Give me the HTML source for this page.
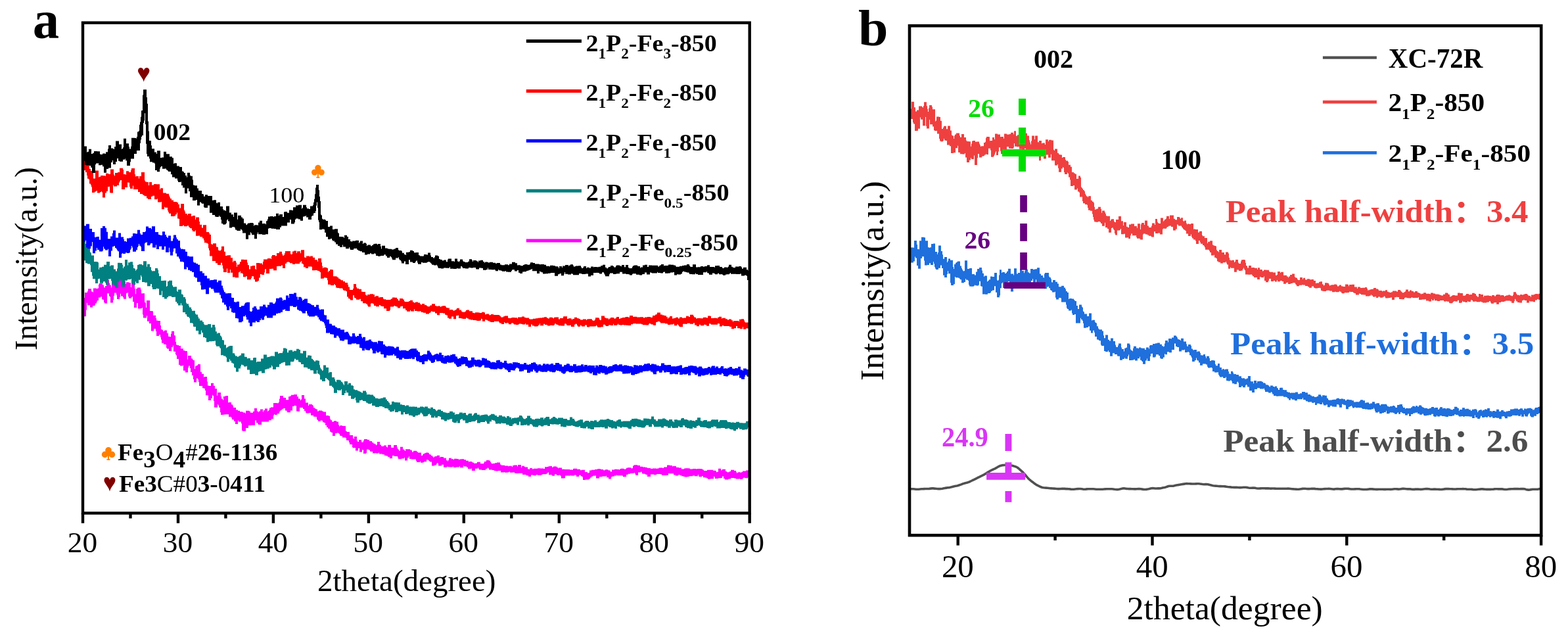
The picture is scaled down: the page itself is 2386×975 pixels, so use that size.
<!DOCTYPE html>
<html><head><meta charset="utf-8"><style>html,body{margin:0;padding:0;background:#fff;overflow:hidden}text{font-family:"Liberation Serif",serif}</style></head>
<body>
<svg width="2386" height="975" viewBox="0 0 2386 975" style="display:block">
<rect width="100%" height="100%" fill="#fff"/>
<path fill="#ff00ff" d="M127.0 456.7V456.7H128.0V452.9H129.0V445.1H130.0V445.1H131.0V445.1H132.0V445.1H133.0V442.8H134.0V439.3H135.0V439.3H136.0V439.3H137.0V439.3H138.0V439.3H139.0V443.4H140.0V443.4H141.0V444.6H142.0V438.6H143.0V438.6H144.0V438.6H145.0V438.6H146.0V438.6H147.0V439.4H148.0V438.5H149.0V438.5H150.0V432.8H151.0V431.1H152.0V431.1H153.0V431.1H154.0V431.1H155.0V431.1H156.0V433.4H157.0V433.4H158.0V437.1H159.0V437.6H160.0V435.0H161.0V435.0H162.0V425.8H163.0V425.8H164.0V425.8H165.0V425.8H166.0V430.5H167.0V433.5H168.0V433.5H169.0V437.4H170.0V430.2H171.0V422.8H172.0V422.8H173.0V420.2H174.0V420.2H175.0V420.2H176.0V420.2H177.0V420.2H178.0V423.2H179.0V423.2H180.0V424.4H181.0V424.4H182.0V419.0H183.0V419.0H184.0V419.0H185.0V419.0H186.0V427.8H187.0V427.7H188.0V427.7H189.0V427.7H190.0V427.7H191.0V431.8H192.0V429.3H193.0V429.3H194.0V429.3H195.0V429.3H196.0V429.8H197.0V430.2H198.0V430.2H199.0V436.9H200.0V430.7H201.0V427.0H202.0V427.0H203.0V427.0H204.0V427.0H205.0V439.1H206.0V447.3H207.0V439.2H208.0V439.2H209.0V437.5H210.0V437.5H211.0V437.5H212.0V437.5H213.0V437.5H214.0V440.5H215.0V446.3H216.0V446.3H217.0V446.3H218.0V446.3H219.0V446.3H220.0V459.8H221.0V460.7H222.0V467.8H223.0V456.9H224.0V456.9H225.0V456.9H226.0V456.9H227.0V456.9H228.0V473.0H229.0V473.0H230.0V473.0H231.0V473.2H232.0V473.2H233.0V479.8H234.0V479.8H235.0V479.8H236.0V479.8H237.0V484.0H238.0V487.6H239.0V487.6H240.0V487.9H241.0V487.9H242.0V487.9H243.0V487.9H244.0V495.1H245.0V500.9H246.0V500.9H247.0V501.9H248.0V504.0H249.0V504.0H250.0V502.4H251.0V502.4H252.0V502.4H253.0V502.4H254.0V506.7H255.0V506.7H256.0V511.8H257.0V511.8H258.0V512.3H259.0V512.3H260.0V507.8H261.0V503.8H262.0V503.8H263.0V503.8H264.0V503.8H265.0V510.2H266.0V510.2H267.0V520.1H268.0V524.2H269.0V525.1H270.0V525.1H271.0V525.1H272.0V525.9H273.0V525.9H274.0V525.9H275.0V530.2H276.0V530.2H277.0V530.2H278.0V530.2H279.0V533.1H280.0V533.1H281.0V534.0H282.0V534.0H283.0V534.0H284.0V534.0H285.0V546.8H286.0V540.9H287.0V540.9H288.0V540.9H289.0V540.9H290.0V540.9H291.0V545.2H292.0V545.2H293.0V546.9H294.0V547.9H295.0V547.9H296.0V561.2H297.0V556.8H298.0V556.8H299.0V555.8H300.0V555.8H301.0V554.0H302.0V554.0H303.0V554.0H304.0V554.0H305.0V565.8H306.0V565.8H307.0V568.7H308.0V568.7H309.0V568.7H310.0V573.8H311.0V572.9H312.0V572.9H313.0V572.9H314.0V572.9H315.0V580.4H316.0V586.4H317.0V586.4H318.0V586.9H319.0V586.9H320.0V586.9H321.0V582.8H322.0V582.8H323.0V582.8H324.0V582.8H325.0V586.9H326.0V586.9H327.0V591.3H328.0V591.3H329.0V591.3H330.0V601.7H331.0V597.2H332.0V597.1H333.0V597.1H334.0V597.1H335.0V597.1H336.0V603.0H337.0V606.5H338.0V606.5H339.0V608.6H340.0V603.0H341.0V603.0H342.0V603.0H343.0V602.1H344.0V602.1H345.0V602.1H346.0V602.1H347.0V612.2H348.0V612.0H349.0V612.0H350.0V612.0H351.0V612.0H352.0V615.3H353.0V615.3H354.0V617.1H355.0V620.0H356.0V620.0H357.0V620.0H358.0V620.0H359.0V623.5H360.0V623.5H361.0V623.5H362.0V624.8H363.0V624.8H364.0V624.8H365.0V626.2H366.0V626.2H367.0V626.2H368.0V626.2H369.0V626.7H370.0V627.5H371.0V627.5H372.0V627.5H373.0V628.8H374.0V624.7H375.0V624.7H376.0V624.7H377.0V624.7H378.0V624.7H379.0V625.6H380.0V625.6H381.0V627.7H382.0V627.7H383.0V627.7H384.0V627.7H385.0V625.8H386.0V625.8H387.0V621.1H388.0V621.1H389.0V621.1H390.0V621.1H391.0V625.6H392.0V625.6H393.0V627.1H394.0V625.5H395.0V625.5H396.0V622.5H397.0V622.5H398.0V622.5H399.0V622.5H400.0V626.4H401.0V623.9H402.0V623.9H403.0V621.4H404.0V621.4H405.0V621.4H406.0V621.4H407.0V625.8H408.0V624.7H409.0V623.8H410.0V620.6H411.0V620.6H412.0V619.5H413.0V619.5H414.0V619.5H415.0V619.5H416.0V613.1H417.0V613.1H418.0V613.1H419.0V613.1H420.0V613.1H421.0V613.3H422.0V613.3H423.0V613.3H424.0V611.4H425.0V606.6H426.0V602.0H427.0V602.0H428.0V602.0H429.0V602.0H430.0V602.0H431.0V604.9H432.0V604.9H433.0V604.9H434.0V604.9H435.0V608.2H436.0V608.2H437.0V608.2H438.0V608.2H439.0V603.2H440.0V603.2H441.0V602.6H442.0V602.6H443.0V600.7H444.0V600.7H445.0V600.7H446.0V600.7H447.0V600.0H448.0V600.0H449.0V600.0H450.0V600.0H451.0V600.0H452.0V603.3H453.0V603.3H454.0V606.4H455.0V606.4H456.0V606.4H457.0V609.0H458.0V607.6H459.0V601.1H460.0V601.1H461.0V601.1H462.0V601.1H463.0V606.6H464.0V606.6H465.0V612.4H466.0V612.4H467.0V612.4H468.0V612.4H469.0V616.9H470.0V615.0H471.0V615.0H472.0V615.0H473.0V615.0H474.0V615.0H475.0V616.1H476.0V616.9H477.0V620.2H478.0V620.2H479.0V621.6H480.0V621.8H481.0V622.5H482.0V622.5H483.0V625.5H484.0V625.5H485.0V624.4H486.0V624.4H487.0V624.4H488.0V624.4H489.0V624.4H490.0V625.4H491.0V625.4H492.0V626.6H493.0V626.6H494.0V626.6H495.0V626.6H496.0V631.9H497.0V631.9H498.0V631.9H499.0V631.9H500.0V632.8H501.0V632.8H502.0V637.0H503.0V638.9H504.0V638.9H505.0V641.4H506.0V641.4H507.0V641.4H508.0V640.3H509.0V640.3H510.0V640.3H511.0V640.3H512.0V641.5H513.0V641.5H514.0V641.5H515.0V646.3H516.0V648.4H517.0V647.2H518.0V647.2H519.0V647.2H520.0V647.2H521.0V648.1H522.0V648.1H523.0V648.1H524.0V648.1H525.0V648.1H526.0V655.5H527.0V656.3H528.0V657.0H529.0V657.0H530.0V657.0H531.0V657.0H532.0V661.9H533.0V661.9H534.0V661.9H535.0V661.9H536.0V661.9H537.0V666.7H538.0V667.6H539.0V664.0H540.0V664.0H541.0V664.0H542.0V664.0H543.0V670.0H544.0V671.9H545.0V671.9H546.0V668.9H547.0V668.9H548.0V668.9H549.0V668.9H550.0V672.4H551.0V672.4H552.0V672.4H553.0V670.0H554.0V668.1H555.0V668.1H556.0V668.1H557.0V668.1H558.0V668.1H559.0V668.9H560.0V668.9H561.0V668.9H562.0V670.9H563.0V670.9H564.0V671.1H565.0V671.1H566.0V673.0H567.0V673.0H568.0V674.6H569.0V674.6H570.0V675.5H571.0V675.5H572.0V677.3H573.0V676.4H574.0V672.1H575.0V672.1H576.0V672.1H577.0V672.1H578.0V676.4H579.0V676.4H580.0V678.5H581.0V678.8H582.0V678.8H583.0V678.8H584.0V677.5H585.0V677.5H586.0V677.5H587.0V677.5H588.0V680.1H589.0V680.6H590.0V676.8H591.0V676.8H592.0V676.8H593.0V676.8H594.0V676.8H595.0V680.9H596.0V680.9H597.0V680.9H598.0V680.9H599.0V677.2H600.0V677.0H601.0V677.0H602.0V677.0H603.0V677.0H604.0V680.7H605.0V683.0H606.0V683.8H607.0V685.7H608.0V685.5H609.0V679.8H610.0V679.8H611.0V679.8H612.0V679.8H613.0V683.6H614.0V683.6H615.0V684.6H616.0V686.1H617.0V683.3H618.0V683.3H619.0V683.3H620.0V683.3H621.0V683.3H622.0V683.3H623.0V683.3H624.0V684.6H625.0V684.6H626.0V685.0H627.0V687.4H628.0V687.4H629.0V685.8H630.0V685.8H631.0V685.8H632.0V685.8H633.0V685.8H634.0V686.7H635.0V687.6H636.0V688.6H637.0V688.6H638.0V688.6H639.0V688.6H640.0V688.6H641.0V693.2H642.0V693.0H643.0V691.6H644.0V690.2H645.0V690.2H646.0V689.2H647.0V689.2H648.0V688.6H649.0V688.6H650.0V688.6H651.0V688.6H652.0V689.3H653.0V691.0H654.0V691.1H655.0V691.7H656.0V693.1H657.0V693.1H658.0V694.5H659.0V695.4H660.0V695.4H661.0V694.2H662.0V694.2H663.0V694.1H664.0V694.1H665.0V692.8H666.0V692.8H667.0V692.8H668.0V692.8H669.0V695.7H670.0V695.1H671.0V695.1H672.0V695.1H673.0V695.1H674.0V695.1H675.0V696.7H676.0V696.7H677.0V696.7H678.0V696.7H679.0V700.2H680.0V700.2H681.0V701.4H682.0V699.7H683.0V696.8H684.0V696.8H685.0V696.8H686.0V696.8H687.0V698.2H688.0V698.2H689.0V698.2H690.0V699.3H691.0V697.7H692.0V697.7H693.0V697.7H694.0V697.7H695.0V697.9H696.0V697.9H697.0V697.9H698.0V699.4H699.0V698.6H700.0V698.6H701.0V698.6H702.0V698.2H703.0V698.2H704.0V698.2H705.0V698.2H706.0V699.3H707.0V699.3H708.0V699.3H709.0V700.8H710.0V700.8H711.0V700.8H712.0V700.8H713.0V702.8H714.0V702.0H715.0V702.0H716.0V702.0H717.0V702.0H718.0V703.2H719.0V703.2H720.0V703.8H721.0V704.7H722.0V704.7H723.0V704.7H724.0V704.8H725.0V704.4H726.0V702.8H727.0V702.8H728.0V702.8H729.0V702.8H730.0V702.8H731.0V705.3H732.0V705.3H733.0V705.3H734.0V705.3H735.0V705.5H736.0V704.0H737.0V702.0H738.0V702.0H739.0V702.0H740.0V700.1H741.0V700.1H742.0V700.1H743.0V700.1H744.0V700.4H745.0V700.4H746.0V702.5H747.0V704.3H748.0V705.2H749.0V705.2H750.0V704.9H751.0V704.9H752.0V704.9H753.0V704.3H754.0V704.3H755.0V704.3H756.0V703.4H757.0V703.4H758.0V703.4H759.0V703.4H760.0V703.4H761.0V706.2H762.0V707.5H763.0V707.5H764.0V707.7H765.0V707.7H766.0V707.7H767.0V707.7H768.0V708.5H769.0V708.5H770.0V708.5H771.0V708.5H772.0V708.5H773.0V709.3H774.0V709.0H775.0V708.7H776.0V708.7H777.0V708.7H778.0V708.7H779.0V710.2H780.0V708.0H781.0V708.0H782.0V707.6H783.0V707.6H784.0V707.6H785.0V707.6H786.0V707.6H787.0V709.4H788.0V707.0H789.0V707.0H790.0V707.0H791.0V707.0H792.0V707.0H793.0V711.6H794.0V708.8H795.0V708.8H796.0V708.8H797.0V708.8H798.0V710.3H799.0V710.5H800.0V710.5H801.0V710.5H802.0V710.5H803.0V713.4H804.0V713.4H805.0V713.9H806.0V712.0H807.0V712.0H808.0V712.0H809.0V712.0H810.0V713.5H811.0V713.5H812.0V712.7H813.0V712.7H814.0V712.7H815.0V712.7H816.0V712.7H817.0V712.7H818.0V712.3H819.0V712.3H820.0V712.3H821.0V712.3H822.0V712.6H823.0V712.5H824.0V712.5H825.0V712.5H826.0V712.5H827.0V712.9H828.0V712.9H829.0V710.3H830.0V710.3H831.0V710.3H832.0V710.3H833.0V710.0H834.0V709.5H835.0V709.5H836.0V709.0H837.0V709.0H838.0V709.0H839.0V709.0H840.0V710.7H841.0V710.7H842.0V709.5H843.0V709.5H844.0V709.5H845.0V709.5H846.0V709.5H847.0V710.7H848.0V710.7H849.0V712.3H850.0V711.5H851.0V711.5H852.0V711.5H853.0V711.5H854.0V711.5H855.0V713.8H856.0V713.8H857.0V713.8H858.0V713.8H859.0V713.9H860.0V713.9H861.0V713.9H862.0V713.9H863.0V713.9H864.0V713.9H865.0V713.9H866.0V713.9H867.0V714.4H868.0V714.4H869.0V714.5H870.0V714.5H871.0V714.7H872.0V713.1H873.0V712.7H874.0V712.7H875.0V712.7H876.0V712.7H877.0V712.7H878.0V713.7H879.0V713.7H880.0V713.8H881.0V713.8H882.0V713.8H883.0V715.3H884.0V715.3H885.0V714.8H886.0V714.8H887.0V714.8H888.0V714.8H889.0V714.8H890.0V717.9H891.0V717.9H892.0V717.9H893.0V717.9H894.0V719.4H895.0V719.4H896.0V719.1H897.0V715.6H898.0V715.6H899.0V715.6H900.0V714.8H901.0V714.8H902.0V714.8H903.0V714.8H904.0V714.8H905.0V714.0H906.0V714.0H907.0V714.0H908.0V714.0H909.0V713.2H910.0V713.2H911.0V713.2H912.0V713.2H913.0V713.2H914.0V713.9H915.0V713.9H916.0V713.9H917.0V713.9H918.0V715.2H919.0V715.2H920.0V715.2H921.0V714.3H922.0V714.3H923.0V714.3H924.0V714.3H925.0V715.3H926.0V715.3H927.0V715.6H928.0V715.7H929.0V717.7H930.0V717.2H931.0V714.6H932.0V714.6H933.0V714.6H934.0V714.6H935.0V713.7H936.0V713.7H937.0V713.7H938.0V713.7H939.0V713.9H940.0V713.9H941.0V713.9H942.0V714.6H943.0V713.7H944.0V713.0H945.0V712.8H946.0V712.8H947.0V712.8H948.0V712.8H949.0V713.2H950.0V713.7H951.0V713.7H952.0V713.3H953.0V711.8H954.0V711.8H955.0V711.2H956.0V711.2H957.0V711.2H958.0V711.2H959.0V711.2H960.0V712.3H961.0V712.3H962.0V712.3H963.0V708.8H964.0V707.7H965.0V707.2H966.0V707.2H967.0V707.2H968.0V707.2H969.0V707.2H970.0V707.9H971.0V707.9H972.0V707.9H973.0V707.9H974.0V709.7H975.0V709.7H976.0V709.7H977.0V709.7H978.0V710.4H979.0V710.4H980.0V710.4H981.0V710.6H982.0V711.1H983.0V711.1H984.0V711.1H985.0V711.9H986.0V711.9H987.0V711.9H988.0V711.9H989.0V711.9H990.0V713.1H991.0V713.1H992.0V713.1H993.0V712.6H994.0V712.5H995.0V712.5H996.0V712.5H997.0V712.5H998.0V712.5H999.0V713.1H1000.0V712.4H1001.0V712.4H1002.0V712.2H1003.0V711.5H1004.0V711.5H1005.0V711.5H1006.0V711.5H1007.0V711.5H1008.0V711.9H1009.0V712.0H1010.0V710.4H1011.0V710.4H1012.0V710.4H1013.0V710.4H1014.0V710.4H1015.0V707.5H1016.0V707.5H1017.0V707.5H1018.0V707.5H1019.0V708.0H1020.0V708.0H1021.0V708.0H1022.0V708.0H1023.0V709.4H1024.0V709.0H1025.0V709.0H1026.0V709.0H1027.0V709.0H1028.0V709.0H1029.0V710.9H1030.0V710.9H1031.0V710.9H1032.0V710.9H1033.0V711.5H1034.0V711.5H1035.0V711.5H1036.0V711.5H1037.0V713.6H1038.0V713.5H1039.0V713.5H1040.0V713.5H1041.0V712.6H1042.0V712.6H1043.0V712.3H1044.0V712.3H1045.0V712.3H1046.0V712.3H1047.0V712.3H1048.0V712.4H1049.0V712.4H1050.0V713.4H1051.0V713.4H1052.0V713.4H1053.0V713.4H1054.0V713.0H1055.0V713.0H1056.0V713.0H1057.0V713.0H1058.0V713.0H1059.0V713.2H1060.0V713.6H1061.0V713.1H1062.0V713.1H1063.0V713.1H1064.0V713.1H1065.0V713.1H1066.0V713.2H1067.0V713.2H1068.0V713.2H1069.0V714.4H1070.0V714.4H1071.0V716.0H1072.0V716.0H1073.0V716.0H1074.0V715.9H1075.0V715.9H1076.0V714.8H1077.0V714.8H1078.0V714.8H1079.0V714.8H1080.0V714.8H1081.0V714.7H1082.0V714.7H1083.0V714.7H1084.0V714.7H1085.0V715.8H1086.0V715.8H1087.0V715.8H1088.0V715.8H1089.0V716.4H1090.0V718.2H1091.0V717.7H1092.0V717.7H1093.0V712.8H1094.0V712.8H1095.0V712.8H1096.0V712.8H1097.0V715.2H1098.0V715.2H1099.0V713.7H1100.0V713.7H1101.0V713.7H1102.0V713.7H1103.0V713.7H1104.0V716.7H1105.0V717.0H1106.0V718.2H1107.0V718.2H1108.0V718.2H1109.0V718.2H1110.0V716.9H1111.0V716.9H1112.0V714.8H1113.0V714.8H1114.0V714.8H1115.0V714.8H1116.0V714.8H1117.0V715.9H1118.0V716.0H1119.0V716.0H1120.0V717.8H1121.0V719.8H1122.0V718.9H1123.0V718.2H1124.0V718.2H1125.0V718.2H1126.0V718.2H1127.0V719.2H1128.0V717.9H1129.0V717.9H1130.0V716.5H1131.0V716.5H1132.0V716.5H1133.0V716.5H1134.0V716.5H1135.0V715.6H1136.0V715.6H1137.0V715.6H1138.0V715.6H1139.0V715.6H1140.0V717.1H1140.0V725.7H1140.0V725.7H1139.0V725.7H1138.0V727.3H1137.0V727.3H1136.0V727.3H1135.0V727.3H1134.0V726.7H1133.0V726.7H1132.0V726.7H1131.0V727.4H1130.0V728.9H1129.0V728.9H1128.0V728.9H1127.0V728.9H1126.0V728.0H1125.0V728.6H1124.0V728.6H1123.0V728.6H1122.0V728.6H1121.0V728.6H1120.0V727.8H1119.0V727.4H1118.0V727.4H1117.0V727.1H1116.0V727.1H1115.0V726.9H1114.0V726.9H1113.0V727.0H1112.0V728.5H1111.0V728.5H1110.0V728.5H1109.0V728.8H1108.0V729.6H1107.0V729.6H1106.0V729.6H1105.0V729.6H1104.0V729.6H1103.0V727.9H1102.0V727.9H1101.0V724.6H1100.0V724.6H1099.0V726.9H1098.0V726.9H1097.0V727.3H1096.0V727.3H1095.0V727.3H1094.0V727.3H1093.0V728.0H1092.0V728.0H1091.0V728.0H1090.0V728.0H1089.0V728.0H1088.0V725.5H1087.0V724.7H1086.0V728.3H1085.0V728.3H1084.0V728.3H1083.0V728.3H1082.0V728.3H1081.0V728.8H1080.0V728.8H1079.0V728.8H1078.0V728.8H1077.0V727.5H1076.0V727.5H1075.0V726.4H1074.0V726.4H1073.0V726.2H1072.0V726.2H1071.0V726.2H1070.0V724.1H1069.0V724.3H1068.0V725.2H1067.0V725.2H1066.0V725.2H1065.0V725.2H1064.0V724.4H1063.0V722.1H1062.0V724.2H1061.0V724.2H1060.0V724.2H1059.0V724.2H1058.0V724.2H1057.0V723.5H1056.0V723.5H1055.0V723.5H1054.0V724.3H1053.0V724.3H1052.0V724.3H1051.0V724.3H1050.0V724.3H1049.0V724.7H1048.0V724.9H1047.0V724.9H1046.0V725.5H1045.0V725.5H1044.0V725.5H1043.0V725.5H1042.0V724.9H1041.0V724.9H1040.0V724.3H1039.0V724.2H1038.0V724.2H1037.0V722.9H1036.0V722.9H1035.0V722.2H1034.0V722.2H1033.0V722.2H1032.0V723.4H1031.0V723.4H1030.0V723.4H1029.0V723.4H1028.0V722.6H1027.0V722.6H1026.0V722.6H1025.0V720.3H1024.0V720.3H1023.0V720.3H1022.0V720.3H1021.0V720.2H1020.0V720.2H1019.0V720.2H1018.0V720.1H1017.0V722.7H1016.0V722.7H1015.0V722.7H1014.0V722.9H1013.0V722.9H1012.0V723.1H1011.0V723.1H1010.0V723.1H1009.0V723.1H1008.0V723.1H1007.0V721.4H1006.0V721.4H1005.0V721.0H1004.0V721.0H1003.0V721.0H1002.0V721.0H1001.0V720.9H1000.0V720.9H999.0V722.3H998.0V722.3H997.0V722.3H996.0V722.3H995.0V721.4H994.0V721.4H993.0V721.4H992.0V721.4H991.0V721.4H990.0V724.9H989.0V724.9H988.0V724.9H987.0V724.9H986.0V724.9H985.0V722.1H984.0V722.1H983.0V721.8H982.0V720.7H981.0V720.7H980.0V720.7H979.0V720.4H978.0V720.4H977.0V718.2H976.0V717.6H975.0V718.6H974.0V718.6H973.0V718.6H972.0V718.6H971.0V722.8H970.0V722.8H969.0V722.8H968.0V722.8H967.0V720.4H966.0V719.1H965.0V719.8H964.0V719.8H963.0V720.0H962.0V720.0H961.0V720.1H960.0V720.1H959.0V720.8H958.0V720.8H957.0V720.8H956.0V721.4H955.0V722.0H954.0V722.0H953.0V725.3H952.0V725.3H951.0V725.3H950.0V725.3H949.0V725.3H948.0V723.7H947.0V723.3H946.0V723.3H945.0V723.3H944.0V723.3H943.0V723.3H942.0V723.3H941.0V723.3H940.0V723.3H939.0V722.4H938.0V723.5H937.0V723.5H936.0V723.5H935.0V724.4H934.0V724.4H933.0V724.8H932.0V724.8H931.0V725.5H930.0V728.5H929.0V728.5H928.0V728.5H927.0V728.5H926.0V726.3H925.0V726.3H924.0V726.3H923.0V723.7H922.0V724.6H921.0V724.6H920.0V724.6H919.0V724.6H918.0V724.6H917.0V724.7H916.0V725.3H915.0V725.3H914.0V725.3H913.0V725.3H912.0V727.4H911.0V727.4H910.0V727.4H909.0V727.4H908.0V727.4H907.0V723.5H906.0V723.5H905.0V723.8H904.0V723.8H903.0V723.8H902.0V724.7H901.0V724.7H900.0V726.6H899.0V726.6H898.0V728.6H897.0V728.6H896.0V729.6H895.0V729.6H894.0V729.6H893.0V729.6H892.0V729.6H891.0V730.0H890.0V730.0H889.0V730.0H888.0V730.0H887.0V725.6H886.0V724.5H885.0V724.5H884.0V722.8H883.0V722.8H882.0V722.8H881.0V724.9H880.0V724.9H879.0V724.9H878.0V724.9H877.0V722.8H876.0V722.6H875.0V722.6H874.0V723.6H873.0V723.6H872.0V723.6H871.0V723.6H870.0V723.6H869.0V723.0H868.0V723.5H867.0V723.5H866.0V723.5H865.0V723.5H864.0V723.4H863.0V723.4H862.0V723.4H861.0V723.4H860.0V727.2H859.0V727.2H858.0V727.4H857.0V727.4H856.0V727.4H855.0V727.4H854.0V724.2H853.0V723.0H852.0V722.3H851.0V723.1H850.0V723.1H849.0V723.1H848.0V723.1H847.0V721.4H846.0V721.2H845.0V721.2H844.0V723.8H843.0V723.8H842.0V723.8H841.0V723.8H840.0V722.3H839.0V722.3H838.0V722.3H837.0V722.3H836.0V722.3H835.0V718.5H834.0V718.9H833.0V720.6H832.0V720.8H831.0V721.2H830.0V721.2H829.0V721.2H828.0V721.2H827.0V721.2H826.0V721.5H825.0V722.1H824.0V722.8H823.0V722.8H822.0V722.8H821.0V722.8H820.0V722.8H819.0V722.8H818.0V722.3H817.0V722.0H816.0V723.3H815.0V723.3H814.0V723.3H813.0V723.3H812.0V722.7H811.0V722.4H810.0V722.4H809.0V722.4H808.0V725.0H807.0V725.0H806.0V725.0H805.0V725.0H804.0V723.2H803.0V723.2H802.0V723.2H801.0V722.3H800.0V722.1H799.0V722.1H798.0V722.1H797.0V722.1H796.0V722.1H795.0V719.7H794.0V719.7H793.0V719.7H792.0V719.7H791.0V719.7H790.0V719.7H789.0V720.1H788.0V720.1H787.0V720.1H786.0V720.1H785.0V719.7H784.0V719.7H783.0V718.4H782.0V718.4H781.0V718.4H780.0V718.8H779.0V718.8H778.0V718.8H777.0V718.8H776.0V717.8H775.0V717.8H774.0V718.5H773.0V718.5H772.0V718.8H771.0V718.8H770.0V718.8H769.0V718.8H768.0V718.1H767.0V718.6H766.0V718.6H765.0V718.6H764.0V718.6H763.0V718.6H762.0V715.9H761.0V715.9H760.0V715.9H759.0V715.9H758.0V716.6H757.0V716.6H756.0V716.6H755.0V716.6H754.0V716.1H753.0V716.1H752.0V715.2H751.0V715.0H750.0V715.0H749.0V714.6H748.0V714.6H747.0V714.6H746.0V714.6H745.0V714.4H744.0V712.5H743.0V711.5H742.0V712.2H741.0V713.3H740.0V713.3H739.0V715.1H738.0V715.1H737.0V715.1H736.0V715.1H735.0V715.1H734.0V715.1H733.0V714.6H732.0V714.6H731.0V714.6H730.0V714.6H729.0V713.1H728.0V711.6H727.0V712.7H726.0V712.7H725.0V712.7H724.0V712.7H723.0V716.0H722.0V716.0H721.0V716.0H720.0V716.0H719.0V716.0H718.0V712.4H717.0V713.2H716.0V713.2H715.0V713.2H714.0V713.2H713.0V713.2H712.0V710.7H711.0V710.7H710.0V709.4H709.0V709.4H708.0V709.4H707.0V709.4H706.0V708.4H705.0V711.2H704.0V711.2H703.0V711.2H702.0V711.2H701.0V711.2H700.0V708.9H699.0V710.5H698.0V710.5H697.0V710.5H696.0V710.5H695.0V710.5H694.0V711.1H693.0V711.1H692.0V711.1H691.0V711.1H690.0V709.6H689.0V710.5H688.0V710.5H687.0V710.5H686.0V710.5H685.0V710.5H684.0V710.2H683.0V710.2H682.0V710.2H681.0V709.4H680.0V710.7H679.0V710.7H678.0V710.7H677.0V710.7H676.0V710.7H675.0V706.7H674.0V706.7H673.0V706.7H672.0V708.5H671.0V708.5H670.0V708.5H669.0V708.5H668.0V708.5H667.0V704.7H666.0V704.0H665.0V705.5H664.0V707.4H663.0V707.4H662.0V707.4H661.0V708.6H660.0V708.6H659.0V708.6H658.0V708.6H657.0V702.5H656.0V702.5H655.0V702.5H654.0V701.6H653.0V700.5H652.0V699.6H651.0V699.6H650.0V699.3H649.0V702.3H648.0V702.3H647.0V702.3H646.0V702.3H645.0V703.1H644.0V703.7H643.0V703.7H642.0V703.7H641.0V703.7H640.0V701.7H639.0V703.0H638.0V703.0H637.0V703.0H636.0V703.0H635.0V703.0H634.0V700.9H633.0V698.5H632.0V698.5H631.0V698.5H630.0V698.5H629.0V698.5H628.0V698.5H627.0V698.5H626.0V697.9H625.0V697.9H624.0V697.9H623.0V694.2H622.0V696.6H621.0V696.6H620.0V700.5H619.0V700.5H618.0V700.5H617.0V700.5H616.0V695.9H615.0V697.4H614.0V697.4H613.0V697.4H612.0V697.4H611.0V698.2H610.0V698.2H609.0V698.2H608.0V698.2H607.0V698.2H606.0V695.8H605.0V694.1H604.0V694.1H603.0V694.1H602.0V694.1H601.0V694.1H600.0V693.0H599.0V693.0H598.0V693.0H597.0V697.3H596.0V697.3H595.0V697.3H594.0V697.3H593.0V695.3H592.0V694.9H591.0V694.9H590.0V693.5H589.0V693.5H588.0V693.2H587.0V693.0H586.0V693.0H585.0V691.3H584.0V691.3H583.0V691.3H582.0V690.6H581.0V690.6H580.0V690.6H579.0V690.6H578.0V690.6H577.0V688.6H576.0V689.4H575.0V689.4H574.0V689.4H573.0V689.4H572.0V689.0H571.0V689.4H570.0V689.4H569.0V689.4H568.0V689.4H567.0V686.8H566.0V686.8H565.0V686.8H564.0V686.8H563.0V684.5H562.0V684.5H561.0V683.4H560.0V683.4H559.0V683.4H558.0V688.9H557.0V690.1H556.0V690.1H555.0V690.1H554.0V690.1H553.0V684.3H552.0V684.3H551.0V687.6H550.0V687.6H549.0V687.6H548.0V687.6H547.0V681.8H546.0V681.8H545.0V685.5H544.0V685.5H543.0V685.5H542.0V685.5H541.0V681.3H540.0V681.3H539.0V681.3H538.0V681.3H537.0V680.6H536.0V676.1H535.0V676.1H534.0V676.1H533.0V676.1H532.0V672.9H531.0V670.2H530.0V669.8H529.0V669.8H528.0V669.8H527.0V666.3H526.0V665.6H525.0V665.6H524.0V665.6H523.0V665.6H522.0V665.6H521.0V663.2H520.0V663.2H519.0V662.8H518.0V662.8H517.0V660.2H516.0V658.7H515.0V658.7H514.0V657.9H513.0V659.1H512.0V659.1H511.0V659.1H510.0V662.9H509.0V662.9H508.0V662.9H507.0V662.9H506.0V658.0H505.0V658.0H504.0V656.8H503.0V656.8H502.0V652.5H501.0V652.1H500.0V652.1H499.0V649.9H498.0V649.9H497.0V646.7H496.0V646.7H495.0V642.9H494.0V642.9H493.0V642.3H492.0V642.3H491.0V639.8H490.0V639.8H489.0V639.0H488.0V640.7H487.0V640.7H486.0V640.7H485.0V640.7H484.0V639.1H483.0V637.9H482.0V634.1H481.0V634.1H480.0V633.8H479.0V633.8H478.0V633.8H477.0V631.8H476.0V631.8H475.0V631.8H474.0V631.8H473.0V627.9H472.0V627.9H471.0V627.9H470.0V628.4H469.0V628.4H468.0V628.4H467.0V628.4H466.0V627.4H465.0V625.1H464.0V625.1H463.0V621.9H462.0V621.9H461.0V620.0H460.0V620.1H459.0V620.1H458.0V620.1H457.0V620.1H456.0V625.8H455.0V625.8H454.0V625.8H453.0V625.8H452.0V625.6H451.0V617.2H450.0V616.9H449.0V616.9H448.0V617.2H447.0V618.1H446.0V618.1H445.0V624.6H444.0V624.6H443.0V624.6H442.0V627.3H441.0V627.3H440.0V627.3H439.0V627.3H438.0V627.3H437.0V625.1H436.0V624.4H435.0V624.4H434.0V621.0H433.0V621.0H432.0V621.0H431.0V622.2H430.0V622.2H429.0V623.7H428.0V623.7H427.0V625.3H426.0V626.2H425.0V629.1H424.0V629.1H423.0V629.1H422.0V631.1H421.0V631.1H420.0V631.1H419.0V631.1H418.0V630.1H417.0V631.8H416.0V637.3H415.0V637.3H414.0V637.3H413.0V639.2H412.0V639.2H411.0V639.2H410.0V639.2H409.0V641.4H408.0V641.4H407.0V641.4H406.0V641.4H405.0V641.4H404.0V641.4H403.0V641.4H402.0V641.4H401.0V641.4H400.0V641.4H399.0V641.4H398.0V645.9H397.0V645.9H396.0V645.9H395.0V645.9H394.0V645.9H393.0V644.4H392.0V643.1H391.0V643.1H390.0V639.6H389.0V639.6H388.0V646.8H387.0V646.8H386.0V646.8H385.0V646.8H384.0V646.8H383.0V646.9H382.0V646.9H381.0V646.9H380.0V646.9H379.0V646.9H378.0V651.0H377.0V651.0H376.0V651.0H375.0V651.0H374.0V655.8H373.0V655.8H372.0V655.8H371.0V655.8H370.0V655.8H369.0V654.7H368.0V644.3H367.0V641.5H366.0V641.5H365.0V641.5H364.0V641.5H363.0V639.7H362.0V644.9H361.0V644.9H360.0V644.9H359.0V644.9H358.0V640.7H357.0V640.7H356.0V638.3H355.0V638.3H354.0V638.3H353.0V635.6H352.0V634.0H351.0V634.0H350.0V634.0H349.0V634.0H348.0V630.3H347.0V630.3H346.0V630.3H345.0V630.3H344.0V630.3H343.0V630.4H342.0V630.4H341.0V630.4H340.0V630.9H339.0V630.9H338.0V630.9H337.0V630.9H336.0V627.3H335.0V620.1H334.0V619.7H333.0V616.5H332.0V615.0H331.0V619.4H330.0V619.7H329.0V619.7H328.0V619.7H327.0V619.7H326.0V610.1H325.0V602.0H324.0V600.7H323.0V605.8H322.0V605.8H321.0V608.9H320.0V608.9H319.0V608.9H318.0V608.9H317.0V601.3H316.0V601.3H315.0V601.3H314.0V601.3H313.0V594.0H312.0V591.1H311.0V591.1H310.0V590.2H309.0V590.2H308.0V587.1H307.0V587.1H306.0V587.1H305.0V587.1H304.0V587.1H303.0V581.0H302.0V577.3H301.0V575.6H300.0V575.6H299.0V581.4H298.0V581.4H297.0V581.4H296.0V581.4H295.0V577.1H294.0V571.1H293.0V571.1H292.0V565.9H291.0V565.9H290.0V560.1H289.0V556.5H288.0V556.5H287.0V559.2H286.0V566.4H285.0V566.4H284.0V566.4H283.0V566.4H282.0V563.7H281.0V563.7H280.0V563.7H279.0V555.7H278.0V556.6H277.0V556.6H276.0V556.6H275.0V556.6H274.0V554.9H273.0V554.9H272.0V545.9H271.0V545.9H270.0V545.9H269.0V540.4H268.0V539.3H267.0V534.8H266.0V534.7H265.0V534.7H264.0V525.5H263.0V527.9H262.0V527.9H261.0V534.1H260.0V534.1H259.0V534.1H258.0V534.1H257.0V530.6H256.0V530.6H255.0V530.6H254.0V528.9H253.0V524.2H252.0V523.7H251.0V523.7H250.0V523.7H249.0V521.8H248.0V521.8H247.0V521.8H246.0V516.4H245.0V512.8H244.0V509.1H243.0V509.1H242.0V511.0H241.0V511.0H240.0V511.0H239.0V511.0H238.0V504.0H237.0V500.3H236.0V500.3H235.0V500.3H234.0V503.4H233.0V503.4H232.0V503.4H231.0V503.4H230.0V492.0H229.0V492.0H228.0V492.0H227.0V488.7H226.0V488.7H225.0V488.7H224.0V480.2H223.0V483.4H222.0V483.4H221.0V483.4H220.0V483.4H219.0V483.4H218.0V478.6H217.0V468.1H216.0V469.1H215.0V469.1H214.0V469.5H213.0V469.5H212.0V469.5H211.0V469.5H210.0V461.1H209.0V461.1H208.0V468.0H207.0V468.0H206.0V468.0H205.0V468.0H204.0V459.0H203.0V459.0H202.0V451.1H201.0V451.9H200.0V453.8H199.0V453.8H198.0V453.8H197.0V453.8H196.0V451.3H195.0V445.0H194.0V445.8H193.0V445.8H192.0V454.7H191.0V454.7H190.0V454.7H189.0V454.7H188.0V452.3H187.0V450.6H186.0V450.6H185.0V450.6H184.0V446.8H183.0V452.0H182.0V455.1H181.0V455.1H180.0V455.1H179.0V455.1H178.0V448.6H177.0V445.4H176.0V445.4H175.0V445.4H174.0V449.9H173.0V456.3H172.0V460.5H171.0V460.5H170.0V460.5H169.0V460.5H168.0V451.6H167.0V450.6H166.0V446.2H165.0V446.3H164.0V446.3H163.0V461.4H162.0V461.4H161.0V461.4H160.0V461.4H159.0V459.7H158.0V455.9H157.0V455.5H156.0V455.5H155.0V451.2H154.0V451.2H153.0V452.4H152.0V452.4H151.0V452.4H150.0V457.0H149.0V457.0H148.0V458.9H147.0V461.6H146.0V461.6H145.0V464.3H144.0V465.0H143.0V465.0H142.0V465.0H141.0V467.4H140.0V467.4H139.0V467.4H138.0V467.4H137.0V464.3H136.0V464.3H135.0V464.3H134.0V464.3H133.0V460.7H132.0V471.6H131.0V481.3H130.0V481.3H129.0V481.3H128.0V481.3H127.0Z"/>
<path fill="#008080" d="M127.0 362.8V362.8H128.0V362.8H129.0V362.8H130.0V370.8H131.0V371.0H132.0V375.4H133.0V373.0H134.0V373.0H135.0V373.0H136.0V373.0H137.0V383.4H138.0V384.7H139.0V388.6H140.0V388.6H141.0V388.6H142.0V388.6H143.0V398.1H144.0V398.1H145.0V398.1H146.0V398.1H147.0V398.3H148.0V398.3H149.0V399.2H150.0V409.7H151.0V406.7H152.0V406.7H153.0V406.7H154.0V406.7H155.0V405.8H156.0V405.8H157.0V405.8H158.0V402.8H159.0V402.8H160.0V402.8H161.0V402.8H162.0V398.1H163.0V398.1H164.0V398.1H165.0V398.1H166.0V398.1H167.0V405.0H168.0V403.6H169.0V403.6H170.0V403.6H171.0V403.6H172.0V403.6H173.0V409.6H174.0V409.6H175.0V409.6H176.0V412.6H177.0V412.5H178.0V408.6H179.0V399.7H180.0V399.7H181.0V399.7H182.0V399.7H183.0V400.1H184.0V400.1H185.0V400.1H186.0V402.8H187.0V408.0H188.0V405.5H189.0V405.5H190.0V395.0H191.0V395.0H192.0V395.0H193.0V395.0H194.0V403.4H195.0V399.2H196.0V399.2H197.0V399.2H198.0V398.2H199.0V398.2H200.0V398.2H201.0V398.2H202.0V402.7H203.0V408.1H204.0V408.1H205.0V408.9H206.0V411.8H207.0V410.3H208.0V409.2H209.0V403.0H210.0V403.0H211.0V402.1H212.0V402.1H213.0V402.1H214.0V402.1H215.0V402.1H216.0V403.3H217.0V403.3H218.0V397.3H219.0V397.3H220.0V397.3H221.0V397.3H222.0V397.3H223.0V405.8H224.0V401.7H225.0V401.7H226.0V401.7H227.0V401.7H228.0V406.3H229.0V406.3H230.0V411.0H231.0V412.5H232.0V412.3H233.0V412.3H234.0V412.3H235.0V412.3H236.0V408.1H237.0V408.1H238.0V408.1H239.0V408.1H240.0V410.6H241.0V415.7H242.0V420.1H243.0V420.1H244.0V420.1H245.0V426.9H246.0V426.9H247.0V427.0H248.0V427.0H249.0V426.8H250.0V426.8H251.0V426.8H252.0V426.8H253.0V436.1H254.0V435.1H255.0V427.9H256.0V427.9H257.0V426.8H258.0V426.8H259.0V426.8H260.0V426.8H261.0V426.8H262.0V434.1H263.0V436.0H264.0V436.8H265.0V436.3H266.0V436.3H267.0V436.3H268.0V436.3H269.0V443.1H270.0V443.8H271.0V440.5H272.0V440.5H273.0V440.5H274.0V440.5H275.0V440.5H276.0V447.5H277.0V447.5H278.0V448.6H279.0V452.0H280.0V452.0H281.0V452.0H282.0V454.8H283.0V460.6H284.0V462.2H285.0V462.2H286.0V462.2H287.0V465.3H288.0V467.5H289.0V467.5H290.0V467.5H291.0V470.2H292.0V472.8H293.0V472.8H294.0V472.8H295.0V472.8H296.0V472.8H297.0V477.3H298.0V478.6H299.0V478.6H300.0V478.6H301.0V481.7H302.0V484.4H303.0V484.4H304.0V487.6H305.0V487.6H306.0V487.6H307.0V487.6H308.0V489.7H309.0V489.7H310.0V492.9H311.0V494.3H312.0V494.3H313.0V494.3H314.0V494.3H315.0V494.3H316.0V492.9H317.0V492.9H318.0V492.9H319.0V492.9H320.0V492.9H321.0V498.2H322.0V498.0H323.0V494.0H324.0V494.0H325.0V494.0H326.0V494.0H327.0V497.7H328.0V504.2H329.0V504.2H330.0V507.4H331.0V506.5H332.0V506.5H333.0V506.5H334.0V506.5H335.0V510.4H336.0V511.2H337.0V513.3H338.0V517.1H339.0V517.4H340.0V517.4H341.0V524.5H342.0V524.5H343.0V524.5H344.0V529.4H345.0V528.3H346.0V528.3H347.0V526.9H348.0V526.9H349.0V526.1H350.0V526.1H351.0V526.1H352.0V526.1H353.0V526.1H354.0V537.3H355.0V537.3H356.0V537.3H357.0V539.5H358.0V541.6H359.0V541.6H360.0V541.6H361.0V542.8H362.0V542.8H363.0V541.4H364.0V541.4H365.0V540.4H366.0V540.4H367.0V537.5H368.0V537.5H369.0V537.5H370.0V537.5H371.0V537.5H372.0V542.8H373.0V542.8H374.0V542.8H375.0V543.3H376.0V545.5H377.0V545.0H378.0V545.0H379.0V545.0H380.0V545.0H381.0V548.1H382.0V548.1H383.0V548.1H384.0V548.1H385.0V544.5H386.0V544.0H387.0V544.0H388.0V544.0H389.0V544.0H390.0V550.9H391.0V550.1H392.0V550.1H393.0V550.1H394.0V550.1H395.0V550.1H396.0V550.1H397.0V545.6H398.0V545.6H399.0V545.6H400.0V545.6H401.0V539.6H402.0V539.6H403.0V539.6H404.0V539.6H405.0V539.6H406.0V543.4H407.0V543.0H408.0V543.0H409.0V543.0H410.0V542.3H411.0V542.3H412.0V541.4H413.0V541.4H414.0V541.4H415.0V541.4H416.0V541.4H417.0V542.0H418.0V535.2H419.0V535.2H420.0V535.2H421.0V535.2H422.0V535.2H423.0V537.8H424.0V537.8H425.0V536.9H426.0V536.9H427.0V536.9H428.0V536.9H429.0V536.9H430.0V534.5H431.0V529.6H432.0V529.6H433.0V529.6H434.0V529.6H435.0V530.4H436.0V530.4H437.0V536.3H438.0V536.3H439.0V532.9H440.0V532.9H441.0V532.4H442.0V532.4H443.0V532.4H444.0V532.4H445.0V534.8H446.0V534.8H447.0V533.8H448.0V533.8H449.0V533.8H450.0V533.8H451.0V530.8H452.0V530.8H453.0V530.8H454.0V530.8H455.0V532.0H456.0V532.0H457.0V537.3H458.0V537.3H459.0V537.5H460.0V537.5H461.0V533.7H462.0V533.7H463.0V533.7H464.0V533.7H465.0V533.7H466.0V543.7H467.0V543.7H468.0V540.6H469.0V540.6H470.0V540.6H471.0V540.6H472.0V540.9H473.0V540.9H474.0V545.8H475.0V545.8H476.0V547.3H477.0V548.3H478.0V549.6H479.0V550.1H480.0V548.3H481.0V548.3H482.0V548.3H483.0V548.3H484.0V548.7H485.0V548.7H486.0V555.2H487.0V559.2H488.0V561.5H489.0V562.0H490.0V564.0H491.0V563.2H492.0V555.6H493.0V555.6H494.0V555.6H495.0V555.6H496.0V559.1H497.0V559.1H498.0V559.1H499.0V559.1H500.0V567.2H501.0V566.0H502.0V566.0H503.0V566.0H504.0V566.0H505.0V574.1H506.0V574.1H507.0V574.1H508.0V574.1H509.0V576.7H510.0V580.1H511.0V581.3H512.0V577.8H513.0V577.8H514.0V577.8H515.0V577.8H516.0V577.8H517.0V578.4H518.0V578.4H519.0V580.8H520.0V580.8H521.0V582.4H522.0V584.3H523.0V585.7H524.0V580.0H525.0V580.0H526.0V580.0H527.0V580.0H528.0V580.0H529.0V584.9H530.0V582.8H531.0V582.8H532.0V582.8H533.0V582.8H534.0V586.3H535.0V586.3H536.0V586.3H537.0V587.0H538.0V592.2H539.0V592.2H540.0V593.2H541.0V593.2H542.0V593.2H543.0V593.2H544.0V594.5H545.0V594.5H546.0V595.2H547.0V595.2H548.0V596.2H549.0V596.2H550.0V597.6H551.0V597.6H552.0V594.4H553.0V594.4H554.0V594.4H555.0V594.4H556.0V594.4H557.0V596.8H558.0V600.2H559.0V600.0H560.0V600.0H561.0V600.0H562.0V600.0H563.0V600.4H564.0V600.4H565.0V600.4H566.0V600.4H567.0V600.4H568.0V602.3H569.0V603.3H570.0V603.5H571.0V605.7H572.0V605.7H573.0V605.7H574.0V605.7H575.0V606.6H576.0V606.6H577.0V606.6H578.0V606.6H579.0V605.8H580.0V605.8H581.0V605.6H582.0V605.6H583.0V604.5H584.0V604.5H585.0V604.5H586.0V604.5H587.0V607.4H588.0V607.4H589.0V610.0H590.0V610.0H591.0V612.0H592.0V612.8H593.0V615.5H594.0V615.5H595.0V615.3H596.0V610.8H597.0V610.8H598.0V610.8H599.0V610.8H600.0V611.9H601.0V611.9H602.0V611.9H603.0V611.9H604.0V611.9H605.0V612.2H606.0V612.2H607.0V612.2H608.0V612.2H609.0V615.3H610.0V615.3H611.0V615.3H612.0V615.9H613.0V615.9H614.0V615.9H615.0V615.9H616.0V617.5H617.0V617.5H618.0V616.4H619.0V616.4H620.0V616.4H621.0V616.4H622.0V618.5H623.0V618.5H624.0V618.5H625.0V618.5H626.0V618.7H627.0V618.6H628.0V618.6H629.0V618.6H630.0V618.6H631.0V618.8H632.0V618.8H633.0V618.8H634.0V618.8H635.0V620.4H636.0V619.9H637.0V619.9H638.0V619.9H639.0V618.5H640.0V618.5H641.0V618.5H642.0V618.5H643.0V618.6H644.0V618.9H645.0V619.9H646.0V618.6H647.0V618.5H648.0V618.5H649.0V618.5H650.0V618.5H651.0V621.1H652.0V621.1H653.0V621.1H654.0V622.1H655.0V619.7H656.0V619.7H657.0V619.7H658.0V619.7H659.0V621.9H660.0V621.9H661.0V621.9H662.0V623.1H663.0V624.5H664.0V625.3H665.0V624.3H666.0V622.9H667.0V622.9H668.0V622.9H669.0V622.9H670.0V622.9H671.0V625.0H672.0V625.1H673.0V625.1H674.0V626.8H675.0V626.8H676.0V627.3H677.0V627.3H678.0V627.8H679.0V627.8H680.0V628.4H681.0V627.9H682.0V627.9H683.0V627.9H684.0V625.8H685.0V625.8H686.0V625.8H687.0V625.8H688.0V625.8H689.0V627.5H690.0V627.5H691.0V627.5H692.0V631.1H693.0V630.1H694.0V630.1H695.0V630.1H696.0V630.1H697.0V630.1H698.0V629.6H699.0V627.4H700.0V627.4H701.0V627.4H702.0V627.4H703.0V627.4H704.0V629.1H705.0V628.1H706.0V628.1H707.0V628.1H708.0V628.1H709.0V631.0H710.0V631.4H711.0V631.4H712.0V630.2H713.0V628.9H714.0V628.9H715.0V628.9H716.0V628.9H717.0V628.9H718.0V632.3H719.0V632.3H720.0V630.8H721.0V629.3H722.0V628.2H723.0V628.2H724.0V628.2H725.0V628.2H726.0V630.8H727.0V630.8H728.0V630.8H729.0V630.8H730.0V632.8H731.0V631.6H732.0V631.6H733.0V631.6H734.0V631.0H735.0V631.0H736.0V631.0H737.0V630.6H738.0V630.6H739.0V630.6H740.0V630.6H741.0V630.6H742.0V631.9H743.0V633.0H744.0V632.3H745.0V631.2H746.0V631.2H747.0V629.8H748.0V629.8H749.0V629.8H750.0V629.8H751.0V629.8H752.0V630.6H753.0V632.0H754.0V632.0H755.0V632.0H756.0V633.9H757.0V633.9H758.0V633.9H759.0V631.7H760.0V631.7H761.0V631.7H762.0V631.7H763.0V631.7H764.0V633.5H765.0V633.5H766.0V633.5H767.0V633.6H768.0V633.6H769.0V635.1H770.0V635.8H771.0V633.1H772.0V633.1H773.0V633.1H774.0V633.1H775.0V634.7H776.0V634.7H777.0V634.7H778.0V637.6H779.0V635.9H780.0V635.9H781.0V635.9H782.0V635.4H783.0V635.4H784.0V635.4H785.0V635.4H786.0V635.4H787.0V635.0H788.0V635.0H789.0V634.3H790.0V632.1H791.0V632.1H792.0V632.1H793.0V632.1H794.0V633.0H795.0V634.9H796.0V636.4H797.0V637.2H798.0V637.3H799.0V637.3H800.0V635.9H801.0V635.9H802.0V632.5H803.0V632.5H804.0V632.5H805.0V632.5H806.0V632.5H807.0V636.1H808.0V636.1H809.0V637.6H810.0V637.7H811.0V637.7H812.0V638.3H813.0V638.3H814.0V637.0H815.0V637.0H816.0V636.8H817.0V636.8H818.0V636.8H819.0V636.8H820.0V637.1H821.0V637.1H822.0V635.2H823.0V635.2H824.0V635.2H825.0V635.2H826.0V635.2H827.0V638.1H828.0V636.1H829.0V636.1H830.0V634.5H831.0V634.1H832.0V634.1H833.0V634.1H834.0V634.1H835.0V634.1H836.0V637.5H837.0V637.5H838.0V636.7H839.0V635.7H840.0V635.7H841.0V633.9H842.0V633.9H843.0V633.9H844.0V633.9H845.0V635.4H846.0V635.9H847.0V636.4H848.0V637.3H849.0V635.6H850.0V635.6H851.0V635.6H852.0V635.5H853.0V635.5H854.0V635.5H855.0V635.5H856.0V635.5H857.0V636.9H858.0V637.0H859.0V637.0H860.0V637.0H861.0V637.0H862.0V637.0H863.0V638.7H864.0V638.7H865.0V639.0H866.0V638.8H867.0V634.6H868.0V634.6H869.0V634.6H870.0V634.6H871.0V636.9H872.0V636.9H873.0V636.9H874.0V639.2H875.0V640.9H876.0V640.9H877.0V640.8H878.0V640.3H879.0V639.7H880.0V639.2H881.0V639.2H882.0V638.3H883.0V638.3H884.0V638.3H885.0V638.3H886.0V638.3H887.0V642.4H888.0V642.4H889.0V641.2H890.0V640.4H891.0V639.9H892.0V639.9H893.0V639.9H894.0V639.9H895.0V639.9H896.0V641.1H897.0V641.9H898.0V639.9H899.0V639.9H900.0V639.9H901.0V639.9H902.0V640.6H903.0V640.6H904.0V639.2H905.0V639.2H906.0V639.2H907.0V639.2H908.0V641.5H909.0V641.5H910.0V641.5H911.0V639.7H912.0V639.7H913.0V638.3H914.0V638.3H915.0V638.3H916.0V638.3H917.0V638.3H918.0V638.5H919.0V638.5H920.0V638.2H921.0V638.2H922.0V638.2H923.0V637.1H924.0V637.1H925.0V637.1H926.0V637.1H927.0V638.2H928.0V638.2H929.0V639.0H930.0V639.0H931.0V639.0H932.0V639.0H933.0V640.4H934.0V640.4H935.0V640.7H936.0V641.3H937.0V641.3H938.0V639.5H939.0V639.5H940.0V638.8H941.0V638.0H942.0V638.0H943.0V638.0H944.0V638.0H945.0V640.9H946.0V640.9H947.0V640.9H948.0V640.6H949.0V640.6H950.0V640.6H951.0V640.6H952.0V640.6H953.0V640.6H954.0V640.6H955.0V640.6H956.0V640.5H957.0V640.5H958.0V640.4H959.0V639.0H960.0V639.0H961.0V637.0H962.0V637.0H963.0V637.0H964.0V637.0H965.0V636.8H966.0V636.8H967.0V636.8H968.0V636.8H969.0V636.8H970.0V637.5H971.0V637.5H972.0V638.1H973.0V638.1H974.0V638.1H975.0V639.2H976.0V639.2H977.0V639.2H978.0V639.7H979.0V636.5H980.0V636.5H981.0V636.5H982.0V636.5H983.0V636.5H984.0V636.7H985.0V636.7H986.0V636.7H987.0V637.0H988.0V637.2H989.0V637.7H990.0V636.9H991.0V633.6H992.0V633.6H993.0V633.6H994.0V633.6H995.0V637.6H996.0V638.0H997.0V638.0H998.0V640.3H999.0V640.3H1000.0V640.3H1001.0V637.6H1002.0V637.6H1003.0V637.6H1004.0V637.6H1005.0V637.4H1006.0V637.4H1007.0V637.4H1008.0V636.4H1009.0V636.4H1010.0V636.4H1011.0V636.4H1012.0V637.4H1013.0V637.4H1014.0V638.9H1015.0V638.9H1016.0V639.7H1017.0V639.7H1018.0V638.1H1019.0V638.1H1020.0V638.1H1021.0V638.1H1022.0V638.1H1023.0V640.8H1024.0V640.8H1025.0V642.2H1026.0V638.3H1027.0V638.3H1028.0V638.3H1029.0V638.3H1030.0V638.3H1031.0V639.3H1032.0V639.3H1033.0V639.3H1034.0V639.3H1035.0V639.3H1036.0V637.1H1037.0V635.9H1038.0V635.9H1039.0V635.9H1040.0V635.9H1041.0V638.0H1042.0V638.0H1043.0V638.0H1044.0V638.0H1045.0V638.0H1046.0V638.9H1047.0V638.9H1048.0V640.4H1049.0V639.2H1050.0V639.2H1051.0V639.2H1052.0V639.2H1053.0V640.0H1054.0V640.0H1055.0V640.0H1056.0V640.0H1057.0V641.1H1058.0V638.9H1059.0V638.8H1060.0V638.8H1061.0V635.2H1062.0V635.2H1063.0V635.2H1064.0V635.2H1065.0V635.2H1066.0V639.9H1067.0V639.9H1068.0V641.2H1069.0V639.8H1070.0V639.8H1071.0V638.9H1072.0V638.9H1073.0V638.9H1074.0V638.9H1075.0V638.9H1076.0V641.2H1077.0V640.7H1078.0V640.7H1079.0V640.7H1080.0V640.7H1081.0V640.3H1082.0V638.7H1083.0V638.3H1084.0V638.3H1085.0V638.3H1086.0V638.3H1087.0V638.3H1088.0V638.4H1089.0V638.2H1090.0V638.2H1091.0V638.2H1092.0V638.2H1093.0V641.9H1094.0V641.2H1095.0V639.2H1096.0V639.1H1097.0V639.1H1098.0V639.1H1099.0V639.1H1100.0V639.1H1101.0V639.1H1102.0V638.9H1103.0V638.9H1104.0V638.9H1105.0V638.9H1106.0V640.3H1107.0V641.9H1108.0V641.9H1109.0V641.9H1110.0V641.9H1111.0V641.9H1112.0V643.0H1113.0V642.5H1114.0V642.5H1115.0V642.5H1116.0V642.5H1117.0V642.9H1118.0V642.9H1119.0V642.9H1120.0V641.8H1121.0V641.8H1122.0V641.8H1123.0V641.8H1124.0V641.8H1125.0V643.3H1126.0V643.3H1127.0V643.3H1128.0V643.3H1129.0V643.3H1130.0V643.4H1131.0V643.4H1132.0V643.4H1133.0V643.4H1134.0V643.2H1135.0V640.7H1136.0V640.7H1137.0V640.7H1138.0V640.5H1139.0V640.5H1140.0V640.5H1140.0V648.9H1140.0V649.3H1139.0V650.1H1138.0V652.3H1137.0V653.2H1136.0V653.2H1135.0V653.2H1134.0V653.2H1133.0V653.7H1132.0V653.7H1131.0V653.7H1130.0V653.7H1129.0V652.7H1128.0V652.7H1127.0V652.7H1126.0V652.7H1125.0V650.7H1124.0V650.7H1123.0V653.1H1122.0V653.1H1121.0V653.1H1120.0V655.2H1119.0V655.2H1118.0V655.2H1117.0V655.2H1116.0V653.5H1115.0V653.3H1114.0V653.3H1113.0V653.3H1112.0V652.8H1111.0V652.8H1110.0V651.6H1109.0V651.5H1108.0V651.5H1107.0V652.2H1106.0V652.2H1105.0V652.2H1104.0V652.2H1103.0V651.0H1102.0V651.0H1101.0V651.1H1100.0V651.1H1099.0V651.1H1098.0V651.1H1097.0V651.4H1096.0V651.4H1095.0V651.4H1094.0V651.5H1093.0V651.5H1092.0V651.5H1091.0V651.5H1090.0V649.1H1089.0V649.1H1088.0V649.1H1087.0V647.9H1086.0V649.8H1085.0V649.8H1084.0V649.8H1083.0V649.8H1082.0V651.2H1081.0V651.5H1080.0V651.5H1079.0V651.5H1078.0V651.5H1077.0V651.1H1076.0V651.1H1075.0V650.1H1074.0V650.1H1073.0V650.1H1072.0V650.1H1071.0V650.1H1070.0V649.7H1069.0V649.7H1068.0V649.7H1067.0V649.6H1066.0V649.6H1065.0V647.8H1064.0V647.3H1063.0V647.3H1062.0V648.1H1061.0V648.1H1060.0V650.7H1059.0V650.7H1058.0V650.7H1057.0V650.7H1056.0V650.1H1055.0V649.6H1054.0V652.0H1053.0V652.0H1052.0V652.0H1051.0V652.0H1050.0V652.0H1049.0V651.3H1048.0V651.3H1047.0V651.3H1046.0V651.3H1045.0V650.0H1044.0V650.0H1043.0V649.4H1042.0V647.2H1041.0V647.2H1040.0V647.2H1039.0V650.1H1038.0V650.1H1037.0V650.1H1036.0V650.1H1035.0V650.1H1034.0V648.6H1033.0V648.6H1032.0V650.7H1031.0V650.7H1030.0V650.7H1029.0V650.7H1028.0V650.7H1027.0V650.9H1026.0V650.9H1025.0V650.9H1024.0V650.9H1023.0V650.0H1022.0V647.9H1021.0V650.8H1020.0V650.8H1019.0V650.8H1018.0V650.8H1017.0V650.8H1016.0V648.8H1015.0V648.8H1014.0V648.8H1013.0V648.1H1012.0V648.3H1011.0V648.3H1010.0V650.6H1009.0V650.6H1008.0V650.6H1007.0V650.6H1006.0V649.0H1005.0V649.0H1004.0V649.0H1003.0V649.2H1002.0V649.2H1001.0V649.2H1000.0V649.3H999.0V649.3H998.0V649.3H997.0V649.3H996.0V649.3H995.0V646.7H994.0V645.2H993.0V645.2H992.0V649.3H991.0V649.3H990.0V649.3H989.0V649.3H988.0V649.3H987.0V646.8H986.0V646.8H985.0V646.8H984.0V646.8H983.0V648.3H982.0V649.5H981.0V650.5H980.0V650.5H979.0V650.5H978.0V650.5H977.0V650.5H976.0V650.1H975.0V649.7H974.0V649.7H973.0V649.7H972.0V649.7H971.0V649.2H970.0V649.2H969.0V648.3H968.0V648.3H967.0V649.6H966.0V649.6H965.0V649.6H964.0V649.6H963.0V648.4H962.0V648.4H961.0V652.3H960.0V652.3H959.0V652.3H958.0V652.3H957.0V652.3H956.0V650.5H955.0V650.5H954.0V649.7H953.0V649.7H952.0V649.7H951.0V649.7H950.0V649.7H949.0V649.7H948.0V648.9H947.0V650.6H946.0V650.6H945.0V650.6H944.0V650.6H943.0V648.9H942.0V648.9H941.0V648.9H940.0V648.2H939.0V652.0H938.0V652.0H937.0V652.0H936.0V652.0H935.0V650.5H934.0V651.5H933.0V651.5H932.0V651.5H931.0V651.5H930.0V650.1H929.0V650.1H928.0V649.9H927.0V649.1H926.0V648.5H925.0V651.7H924.0V651.7H923.0V651.7H922.0V651.7H921.0V651.7H920.0V649.4H919.0V650.0H918.0V650.0H917.0V650.0H916.0V650.0H915.0V649.3H914.0V649.9H913.0V649.9H912.0V649.9H911.0V649.9H910.0V649.9H909.0V649.9H908.0V649.9H907.0V649.9H906.0V649.9H905.0V649.8H904.0V652.9H903.0V652.9H902.0V652.9H901.0V652.9H900.0V652.9H899.0V652.5H898.0V651.8H897.0V651.8H896.0V651.8H895.0V651.8H894.0V648.9H893.0V649.6H892.0V651.5H891.0V651.5H890.0V651.5H889.0V651.5H888.0V651.5H887.0V651.2H886.0V651.0H885.0V651.0H884.0V651.0H883.0V648.6H882.0V648.6H881.0V649.4H880.0V649.4H879.0V649.4H878.0V649.4H877.0V649.0H876.0V649.0H875.0V648.4H874.0V648.1H873.0V648.0H872.0V647.3H871.0V647.3H870.0V646.9H869.0V647.7H868.0V647.7H867.0V647.7H866.0V647.7H865.0V647.7H864.0V647.7H863.0V647.2H862.0V649.4H861.0V649.4H860.0V649.4H859.0V649.4H858.0V649.4H857.0V648.7H856.0V648.7H855.0V648.7H854.0V648.7H853.0V644.9H852.0V644.9H851.0V645.8H850.0V645.8H849.0V645.8H848.0V645.8H847.0V645.6H846.0V645.6H845.0V645.3H844.0V645.3H843.0V645.5H842.0V645.5H841.0V645.5H840.0V645.5H839.0V645.1H838.0V645.1H837.0V647.9H836.0V647.9H835.0V647.9H834.0V647.9H833.0V646.6H832.0V646.8H831.0V646.8H830.0V646.8H829.0V646.8H828.0V647.3H827.0V648.4H826.0V648.4H825.0V648.4H824.0V648.4H823.0V647.6H822.0V647.1H821.0V647.1H820.0V647.5H819.0V649.5H818.0V649.5H817.0V649.5H816.0V649.5H815.0V649.5H814.0V648.9H813.0V648.9H812.0V648.9H811.0V647.4H810.0V645.8H809.0V645.2H808.0V645.2H807.0V645.2H806.0V647.2H805.0V647.2H804.0V647.2H803.0V647.2H802.0V645.5H801.0V646.6H800.0V646.6H799.0V646.6H798.0V646.6H797.0V647.0H796.0V647.0H795.0V647.0H794.0V647.0H793.0V647.0H792.0V641.5H791.0V641.5H790.0V646.6H789.0V646.6H788.0V646.6H787.0V646.6H786.0V644.3H785.0V644.3H784.0V644.3H783.0V644.1H782.0V645.5H781.0V645.5H780.0V648.0H779.0V648.0H778.0V648.0H777.0V648.0H776.0V648.0H775.0V646.7H774.0V645.9H773.0V645.9H772.0V645.9H771.0V645.9H770.0V644.0H769.0V644.0H768.0V643.9H767.0V643.9H766.0V643.9H765.0V643.9H764.0V643.1H763.0V644.5H762.0V644.5H761.0V644.5H760.0V644.5H759.0V644.1H758.0V644.4H757.0V644.4H756.0V644.4H755.0V644.4H754.0V641.3H753.0V639.8H752.0V639.5H751.0V639.5H750.0V639.1H749.0V638.4H748.0V641.2H747.0V641.2H746.0V641.2H745.0V644.5H744.0V644.5H743.0V644.5H742.0V644.5H741.0V641.8H740.0V640.0H739.0V640.4H738.0V641.9H737.0V641.9H736.0V641.9H735.0V641.9H734.0V641.9H733.0V641.9H732.0V641.9H731.0V643.6H730.0V643.6H729.0V643.6H728.0V643.6H727.0V643.6H726.0V638.7H725.0V639.3H724.0V640.2H723.0V641.1H722.0V641.1H721.0V641.1H720.0V641.1H719.0V641.3H718.0V641.3H717.0V642.1H716.0V642.1H715.0V642.1H714.0V642.1H713.0V643.6H712.0V643.6H711.0V643.6H710.0V643.6H709.0V643.6H708.0V639.4H707.0V639.4H706.0V639.4H705.0V639.4H704.0V637.4H703.0V637.3H702.0V638.2H701.0V638.2H700.0V643.4H699.0V643.4H698.0V643.4H697.0V643.4H696.0V640.4H695.0V643.0H694.0V643.0H693.0V643.0H692.0V643.0H691.0V643.0H690.0V641.8H689.0V641.8H688.0V637.0H687.0V637.4H686.0V637.4H685.0V637.4H684.0V638.5H683.0V638.5H682.0V638.5H681.0V638.5H680.0V640.6H679.0V640.6H678.0V640.6H677.0V640.6H676.0V638.6H675.0V638.6H674.0V638.0H673.0V638.0H672.0V638.0H671.0V634.1H670.0V634.1H669.0V633.0H668.0V633.0H667.0V633.0H666.0V635.2H665.0V635.2H664.0V635.2H663.0V635.2H662.0V632.8H661.0V635.2H660.0V635.2H659.0V635.2H658.0V635.2H657.0V635.2H656.0V631.2H655.0V631.2H654.0V629.2H653.0V630.0H652.0V630.6H651.0V632.7H650.0V632.7H649.0V633.2H648.0V633.2H647.0V633.2H646.0V633.2H645.0V633.2H644.0V630.7H643.0V629.6H642.0V628.4H641.0V627.6H640.0V629.3H639.0V630.7H638.0V630.7H637.0V631.1H636.0V631.9H635.0V631.9H634.0V631.9H633.0V631.9H632.0V633.9H631.0V633.9H630.0V633.9H629.0V633.9H628.0V632.3H627.0V632.3H626.0V631.7H625.0V631.7H624.0V631.7H623.0V631.7H622.0V629.4H621.0V629.5H620.0V629.9H619.0V629.9H618.0V629.9H617.0V629.9H616.0V627.1H615.0V627.1H614.0V630.5H613.0V630.5H612.0V630.5H611.0V630.5H610.0V625.5H609.0V625.5H608.0V625.5H607.0V625.5H606.0V627.1H605.0V627.1H604.0V627.1H603.0V627.1H602.0V627.1H601.0V622.7H600.0V625.4H599.0V625.4H598.0V625.4H597.0V626.2H596.0V626.2H595.0V626.2H594.0V626.2H593.0V623.9H592.0V623.9H591.0V621.4H590.0V621.4H589.0V621.0H588.0V621.0H587.0V621.0H586.0V621.0H585.0V619.2H584.0V619.2H583.0V619.2H582.0V618.1H581.0V618.1H580.0V618.1H579.0V618.1H578.0V618.1H577.0V618.9H576.0V618.9H575.0V619.0H574.0V619.0H573.0V619.0H572.0V619.0H571.0V617.3H570.0V617.1H569.0V617.1H568.0V617.1H567.0V617.1H566.0V612.9H565.0V614.3H564.0V614.3H563.0V614.3H562.0V614.3H561.0V614.0H560.0V613.3H559.0V612.5H558.0V612.5H557.0V610.3H556.0V610.3H555.0V610.1H554.0V610.1H553.0V610.1H552.0V608.7H551.0V607.9H550.0V609.0H549.0V609.0H548.0V609.0H547.0V612.4H546.0V612.4H545.0V612.4H544.0V612.4H543.0V612.4H542.0V609.0H541.0V604.4H540.0V605.8H539.0V606.7H538.0V606.7H537.0V606.7H536.0V606.7H535.0V606.7H534.0V601.9H533.0V601.9H532.0V601.9H531.0V601.9H530.0V597.2H529.0V597.2H528.0V597.2H527.0V593.9H526.0V597.9H525.0V597.9H524.0V601.1H523.0V601.1H522.0V601.1H521.0V601.1H520.0V591.9H519.0V593.8H518.0V593.8H517.0V593.8H516.0V593.8H515.0V593.8H514.0V593.0H513.0V597.8H512.0V597.8H511.0V597.8H510.0V597.8H509.0V597.8H508.0V590.5H507.0V588.7H506.0V588.6H505.0V586.8H504.0V586.8H503.0V586.8H502.0V586.8H501.0V579.0H500.0V577.9H499.0V576.8H498.0V576.8H497.0V575.1H496.0V575.1H495.0V580.0H494.0V580.0H493.0V580.0H492.0V580.0H491.0V580.0H490.0V577.5H489.0V577.5H488.0V577.2H487.0V570.6H486.0V568.8H485.0V568.8H484.0V568.0H483.0V563.0H482.0V568.4H481.0V568.4H480.0V568.4H479.0V568.4H478.0V568.4H477.0V563.5H476.0V563.2H475.0V563.2H474.0V563.2H473.0V563.2H472.0V561.1H471.0V561.1H470.0V561.1H469.0V561.1H468.0V559.1H467.0V559.1H466.0V558.7H465.0V558.7H464.0V558.7H463.0V558.7H462.0V554.0H461.0V554.0H460.0V554.0H459.0V554.0H458.0V551.2H457.0V551.0H456.0V550.5H455.0V550.5H454.0V547.6H453.0V547.6H452.0V547.6H451.0V547.6H450.0V545.8H449.0V545.8H448.0V548.6H447.0V550.3H446.0V550.3H445.0V550.3H444.0V550.3H443.0V550.3H442.0V555.7H441.0V555.7H440.0V555.7H439.0V555.7H438.0V555.9H437.0V555.9H436.0V555.9H435.0V555.9H434.0V550.7H433.0V550.7H432.0V551.2H431.0V551.2H430.0V551.9H429.0V551.9H428.0V553.4H427.0V553.4H426.0V554.0H425.0V558.3H424.0V558.3H423.0V558.3H422.0V558.3H421.0V558.3H420.0V561.8H419.0V561.8H418.0V561.8H417.0V561.8H416.0V561.8H415.0V557.4H414.0V555.7H413.0V559.3H412.0V559.3H411.0V559.3H410.0V560.7H409.0V560.7H408.0V560.7H407.0V561.5H406.0V561.5H405.0V562.1H404.0V562.1H403.0V567.6H402.0V567.6H401.0V567.6H400.0V567.6H399.0V567.6H398.0V564.6H397.0V564.6H396.0V565.0H395.0V565.0H394.0V565.8H393.0V570.7H392.0V570.7H391.0V570.7H390.0V570.7H389.0V570.7H388.0V568.7H387.0V568.7H386.0V568.7H385.0V568.7H384.0V568.9H383.0V568.9H382.0V568.9H381.0V568.9H380.0V562.4H379.0V562.4H378.0V562.4H377.0V562.4H376.0V556.8H375.0V557.6H374.0V557.6H373.0V557.6H372.0V557.6H371.0V555.6H370.0V555.6H369.0V554.7H368.0V554.7H367.0V557.3H366.0V560.5H365.0V560.5H364.0V560.5H363.0V565.4H362.0V565.4H361.0V565.4H360.0V565.4H359.0V559.5H358.0V559.5H357.0V558.6H356.0V553.0H355.0V553.0H354.0V551.7H353.0V551.7H352.0V548.8H351.0V548.8H350.0V546.2H349.0V550.4H348.0V550.4H347.0V550.4H346.0V550.4H345.0V543.7H344.0V542.4H343.0V541.6H342.0V541.6H341.0V541.6H340.0V540.2H339.0V540.2H338.0V540.2H337.0V540.2H336.0V529.8H335.0V528.8H334.0V526.7H333.0V526.7H332.0V526.7H331.0V526.7H330.0V526.7H329.0V524.7H328.0V518.4H327.0V518.4H326.0V519.1H325.0V519.1H324.0V519.1H323.0V519.2H322.0V519.2H321.0V519.2H320.0V519.2H319.0V519.2H318.0V520.3H317.0V520.3H316.0V520.3H315.0V520.3H314.0V514.0H313.0V514.0H312.0V512.9H311.0V512.9H310.0V512.9H309.0V505.9H308.0V505.9H307.0V502.6H306.0V508.5H305.0V508.5H304.0V508.5H303.0V508.5H302.0V503.1H301.0V503.1H300.0V503.1H299.0V503.1H298.0V497.1H297.0V497.1H296.0V497.1H295.0V496.8H294.0V492.2H293.0V491.3H292.0V491.3H291.0V491.3H290.0V491.3H289.0V484.1H288.0V482.2H287.0V481.9H286.0V481.9H285.0V480.8H284.0V478.1H283.0V478.1H282.0V475.0H281.0V475.0H280.0V475.0H279.0V475.0H278.0V464.4H277.0V464.4H276.0V461.3H275.0V464.5H274.0V464.5H273.0V464.5H272.0V464.5H271.0V461.4H270.0V461.4H269.0V458.9H268.0V458.9H267.0V451.7H266.0V451.7H265.0V452.1H264.0V452.1H263.0V452.1H262.0V452.1H261.0V450.6H260.0V450.6H259.0V450.6H258.0V450.6H257.0V450.6H256.0V452.2H255.0V452.2H254.0V454.4H253.0V454.4H252.0V454.4H251.0V454.4H250.0V452.1H249.0V452.1H248.0V452.1H247.0V442.4H246.0V448.7H245.0V448.7H244.0V448.7H243.0V448.7H242.0V439.3H241.0V439.3H240.0V438.9H239.0V438.6H238.0V439.8H237.0V440.0H236.0V440.0H235.0V440.0H234.0V440.0H233.0V440.0H232.0V437.0H231.0V432.1H230.0V432.1H229.0V435.3H228.0V435.3H227.0V435.3H226.0V435.3H225.0V435.3H224.0V429.7H223.0V429.7H222.0V429.7H221.0V429.7H220.0V428.9H219.0V428.9H218.0V428.9H217.0V428.9H216.0V421.1H215.0V418.7H214.0V425.8H213.0V425.8H212.0V425.8H211.0V430.7H210.0V430.7H209.0V430.7H208.0V430.7H207.0V428.3H206.0V433.2H205.0V433.2H204.0V433.2H203.0V433.2H202.0V431.5H201.0V431.5H200.0V424.1H199.0V425.1H198.0V425.1H197.0V425.1H196.0V425.1H195.0V425.1H194.0V426.8H193.0V426.8H192.0V426.8H191.0V426.8H190.0V436.0H189.0V436.0H188.0V436.0H187.0V436.0H186.0V436.0H185.0V426.2H184.0V426.7H183.0V426.7H182.0V426.7H181.0V428.8H180.0V438.0H179.0V438.0H178.0V438.0H177.0V438.0H176.0V438.0H175.0V434.2H174.0V433.2H173.0V433.2H172.0V433.2H171.0V431.5H170.0V427.2H169.0V424.0H168.0V424.4H167.0V424.4H166.0V424.4H165.0V433.2H164.0V433.2H163.0V433.2H162.0V433.2H161.0V430.3H160.0V428.3H159.0V428.3H158.0V428.3H157.0V430.8H156.0V430.8H155.0V430.8H154.0V430.8H153.0V430.8H152.0V423.8H151.0V424.3H150.0V424.3H149.0V431.0H148.0V431.0H147.0V431.0H146.0V431.0H145.0V424.2H144.0V424.2H143.0V424.2H142.0V424.2H141.0V419.6H140.0V413.8H139.0V413.8H138.0V403.3H137.0V401.5H136.0V401.5H135.0V401.5H134.0V401.5H133.0V400.2H132.0V400.2H131.0V400.2H130.0V396.3H129.0V396.3H128.0V393.2H127.0Z"/>
<path fill="#0000ff" d="M127.0 343.4V343.4H128.0V343.4H129.0V343.4H130.0V343.4H131.0V340.7H132.0V340.7H133.0V340.7H134.0V340.7H135.0V340.7H136.0V348.1H137.0V348.1H138.0V348.1H139.0V348.1H140.0V352.9H141.0V352.9H142.0V352.9H143.0V352.9H144.0V360.8H145.0V360.8H146.0V360.6H147.0V359.9H148.0V359.9H149.0V359.9H150.0V359.9H151.0V364.7H152.0V364.7H153.0V347.0H154.0V347.0H155.0V347.0H156.0V344.0H157.0V344.0H158.0V344.0H159.0V344.0H160.0V346.8H161.0V346.8H162.0V352.8H163.0V352.8H164.0V363.2H165.0V363.2H166.0V363.2H167.0V363.2H168.0V359.5H169.0V359.5H170.0V359.5H171.0V354.7H172.0V350.6H173.0V350.6H174.0V350.6H175.0V350.6H176.0V361.5H177.0V361.5H178.0V361.5H179.0V361.5H180.0V354.5H181.0V354.5H182.0V354.5H183.0V354.5H184.0V360.5H185.0V360.5H186.0V360.5H187.0V360.5H188.0V364.1H189.0V366.9H190.0V366.9H191.0V366.9H192.0V368.0H193.0V362.5H194.0V362.5H195.0V362.5H196.0V362.5H197.0V361.7H198.0V361.7H199.0V361.7H200.0V359.6H201.0V359.6H202.0V355.0H203.0V355.0H204.0V355.0H205.0V355.0H206.0V355.4H207.0V355.4H208.0V355.4H209.0V349.8H210.0V349.8H211.0V349.8H212.0V349.8H213.0V355.0H214.0V357.1H215.0V357.1H216.0V357.1H217.0V352.9H218.0V352.9H219.0V352.9H220.0V352.9H221.0V351.7H222.0V344.6H223.0V344.6H224.0V344.6H225.0V344.6H226.0V346.7H227.0V346.7H228.0V346.7H229.0V346.7H230.0V348.5H231.0V344.2H232.0V344.2H233.0V344.2H234.0V344.2H235.0V344.2H236.0V353.1H237.0V353.1H238.0V353.1H239.0V353.1H240.0V353.1H241.0V356.7H242.0V357.2H243.0V357.2H244.0V357.9H245.0V357.9H246.0V357.9H247.0V352.3H248.0V352.3H249.0V352.3H250.0V352.3H251.0V357.1H252.0V357.1H253.0V359.9H254.0V361.5H255.0V361.5H256.0V358.5H257.0V358.5H258.0V358.5H259.0V358.5H260.0V366.4H261.0V366.4H262.0V366.4H263.0V362.8H264.0V357.6H265.0V357.6H266.0V357.6H267.0V357.6H268.0V361.2H269.0V364.1H270.0V364.1H271.0V365.9H272.0V365.9H273.0V365.9H274.0V376.7H275.0V378.8H276.0V378.8H277.0V378.8H278.0V378.8H279.0V379.3H280.0V379.3H281.0V379.3H282.0V382.7H283.0V382.7H284.0V382.9H285.0V389.4H286.0V389.4H287.0V389.4H288.0V390.2H289.0V390.2H290.0V390.2H291.0V390.2H292.0V390.2H293.0V390.2H294.0V398.6H295.0V399.5H296.0V399.5H297.0V399.5H298.0V401.1H299.0V401.1H300.0V401.1H301.0V402.8H302.0V402.8H303.0V402.8H304.0V412.5H305.0V412.5H306.0V412.5H307.0V412.5H308.0V415.4H309.0V415.4H310.0V415.4H311.0V419.4H312.0V419.4H313.0V419.4H314.0V419.4H315.0V423.5H316.0V423.5H317.0V423.5H318.0V423.5H319.0V426.6H320.0V426.1H321.0V426.1H322.0V426.1H323.0V426.1H324.0V426.1H325.0V425.2H326.0V425.2H327.0V425.2H328.0V425.2H329.0V425.2H330.0V429.2H331.0V429.2H332.0V426.7H333.0V426.7H334.0V426.7H335.0V426.7H336.0V426.7H337.0V434.6H338.0V434.6H339.0V438.5H340.0V441.6H341.0V444.2H342.0V444.2H343.0V446.2H344.0V446.2H345.0V446.2H346.0V446.2H347.0V446.1H348.0V446.1H349.0V446.1H350.0V446.1H351.0V446.1H352.0V452.6H353.0V453.0H354.0V453.0H355.0V453.0H356.0V459.3H357.0V459.3H358.0V459.7H359.0V459.7H360.0V458.8H361.0V458.8H362.0V458.8H363.0V458.8H364.0V467.0H365.0V467.0H366.0V467.0H367.0V465.3H368.0V465.3H369.0V465.3H370.0V465.3H371.0V464.4H372.0V461.9H373.0V460.5H374.0V460.5H375.0V459.7H376.0V459.7H377.0V459.7H378.0V459.7H379.0V459.7H380.0V473.0H381.0V473.9H382.0V473.9H383.0V473.3H384.0V468.1H385.0V468.1H386.0V466.1H387.0V466.1H388.0V466.1H389.0V466.1H390.0V469.1H391.0V470.9H392.0V470.8H393.0V470.8H394.0V470.8H395.0V466.1H396.0V466.1H397.0V466.1H398.0V466.1H399.0V466.1H400.0V463.6H401.0V463.6H402.0V463.6H403.0V463.6H404.0V466.4H405.0V467.4H406.0V467.4H407.0V463.7H408.0V463.7H409.0V463.7H410.0V460.1H411.0V460.1H412.0V460.1H413.0V460.1H414.0V460.1H415.0V462.1H416.0V462.1H417.0V462.1H418.0V460.9H419.0V458.8H420.0V453.8H421.0V453.8H422.0V453.8H423.0V453.8H424.0V453.8H425.0V452.6H426.0V452.6H427.0V452.6H428.0V452.6H429.0V454.3H430.0V457.5H431.0V456.2H432.0V456.2H433.0V456.2H434.0V456.2H435.0V449.6H436.0V449.6H437.0V449.6H438.0V449.6H439.0V453.1H440.0V446.9H441.0V446.9H442.0V446.9H443.0V446.9H444.0V446.9H445.0V447.2H446.0V447.2H447.0V445.4H448.0V445.4H449.0V445.4H450.0V445.4H451.0V451.5H452.0V451.5H453.0V456.0H454.0V451.8H455.0V451.8H456.0V451.8H457.0V451.8H458.0V452.6H459.0V454.6H460.0V457.5H461.0V456.0H462.0V455.7H463.0V454.5H464.0V454.5H465.0V454.5H466.0V454.5H467.0V454.5H468.0V461.1H469.0V461.1H470.0V461.1H471.0V462.0H472.0V462.0H473.0V463.4H474.0V463.4H475.0V464.3H476.0V464.3H477.0V464.3H478.0V466.8H479.0V466.8H480.0V466.8H481.0V463.8H482.0V463.8H483.0V463.8H484.0V463.8H485.0V468.8H486.0V471.0H487.0V471.0H488.0V470.5H489.0V470.5H490.0V470.5H491.0V470.5H492.0V470.5H493.0V478.7H494.0V479.6H495.0V479.6H496.0V479.6H497.0V486.0H498.0V486.0H499.0V486.0H500.0V486.0H501.0V492.6H502.0V492.6H503.0V492.6H504.0V492.7H505.0V495.0H506.0V495.2H507.0V495.2H508.0V495.2H509.0V495.2H510.0V497.3H511.0V497.7H512.0V497.7H513.0V499.3H514.0V499.3H515.0V499.3H516.0V499.3H517.0V499.3H518.0V501.4H519.0V501.4H520.0V501.4H521.0V501.6H522.0V501.6H523.0V501.6H524.0V505.6H525.0V505.6H526.0V504.7H527.0V504.7H528.0V504.7H529.0V504.7H530.0V507.0H531.0V509.0H532.0V511.1H533.0V511.7H534.0V511.7H535.0V511.8H536.0V507.0H537.0V507.0H538.0V507.0H539.0V507.0H540.0V510.4H541.0V512.3H542.0V512.3H543.0V511.0H544.0V510.9H545.0V510.9H546.0V507.7H547.0V507.7H548.0V507.7H549.0V507.7H550.0V512.2H551.0V514.4H552.0V512.8H553.0V512.8H554.0V512.8H555.0V512.8H556.0V518.8H557.0V518.1H558.0V518.1H559.0V517.7H560.0V517.7H561.0V516.4H562.0V516.4H563.0V516.4H564.0V516.4H565.0V519.1H566.0V519.4H567.0V520.1H568.0V520.4H569.0V520.3H570.0V520.3H571.0V520.3H572.0V520.3H573.0V520.3H574.0V522.6H575.0V518.4H576.0V518.4H577.0V518.4H578.0V518.4H579.0V518.9H580.0V518.9H581.0V518.9H582.0V518.9H583.0V524.0H584.0V524.0H585.0V524.0H586.0V526.2H587.0V526.2H588.0V527.2H589.0V527.0H590.0V526.5H591.0V526.5H592.0V526.5H593.0V526.5H594.0V526.8H595.0V526.8H596.0V527.0H597.0V527.0H598.0V527.2H599.0V527.9H600.0V529.5H601.0V529.5H602.0V529.5H603.0V527.5H604.0V527.5H605.0V527.5H606.0V527.5H607.0V532.3H608.0V533.2H609.0V533.2H610.0V532.8H611.0V532.8H612.0V532.8H613.0V532.8H614.0V532.7H615.0V532.7H616.0V532.7H617.0V532.7H618.0V533.4H619.0V533.8H620.0V533.8H621.0V533.8H622.0V531.9H623.0V531.9H624.0V531.0H625.0V530.4H626.0V530.4H627.0V530.3H628.0V530.3H629.0V530.3H630.0V530.3H631.0V530.3H632.0V530.3H633.0V530.3H634.0V532.9H635.0V532.9H636.0V534.9H637.0V535.6H638.0V535.6H639.0V540.8H640.0V540.9H641.0V540.9H642.0V540.0H643.0V540.0H644.0V538.8H645.0V538.8H646.0V538.8H647.0V538.8H648.0V538.9H649.0V538.9H650.0V533.5H651.0V533.5H652.0V533.5H653.0V533.5H654.0V536.0H655.0V536.3H656.0V538.4H657.0V540.0H658.0V541.1H659.0V540.2H660.0V540.2H661.0V539.0H662.0V539.0H663.0V538.1H664.0V538.1H665.0V538.1H666.0V538.1H667.0V539.2H668.0V536.4H669.0V536.4H670.0V536.4H671.0V536.4H672.0V540.1H673.0V540.1H674.0V540.1H675.0V543.7H676.0V541.3H677.0V541.3H678.0V541.3H679.0V541.3H680.0V540.6H681.0V540.6H682.0V540.6H683.0V540.6H684.0V541.7H685.0V539.7H686.0V539.7H687.0V539.7H688.0V538.7H689.0V538.7H690.0V538.7H691.0V538.7H692.0V538.7H693.0V542.0H694.0V542.6H695.0V542.6H696.0V545.3H697.0V545.9H698.0V544.8H699.0V544.8H700.0V544.8H701.0V542.3H702.0V542.3H703.0V542.3H704.0V542.3H705.0V542.3H706.0V543.0H707.0V543.0H708.0V543.0H709.0V543.0H710.0V543.0H711.0V544.8H712.0V548.0H713.0V548.4H714.0V548.4H715.0V548.2H716.0V548.0H717.0V543.7H718.0V543.7H719.0V543.7H720.0V543.7H721.0V543.7H722.0V546.9H723.0V547.2H724.0V547.4H725.0V547.7H726.0V546.9H727.0V546.9H728.0V546.9H729.0V546.9H730.0V546.9H731.0V548.3H732.0V548.3H733.0V544.6H734.0V544.6H735.0V544.6H736.0V544.6H737.0V545.0H738.0V545.4H739.0V545.4H740.0V545.4H741.0V547.8H742.0V548.2H743.0V548.2H744.0V548.8H745.0V548.9H746.0V550.4H747.0V551.4H748.0V550.7H749.0V550.7H750.0V550.7H751.0V550.7H752.0V551.0H753.0V551.0H754.0V552.0H755.0V548.3H756.0V548.3H757.0V547.7H758.0V547.7H759.0V547.7H760.0V547.7H761.0V550.6H762.0V550.6H763.0V550.6H764.0V551.7H765.0V551.7H766.0V551.7H767.0V548.7H768.0V548.7H769.0V548.7H770.0V548.7H771.0V551.9H772.0V553.0H773.0V553.0H774.0V553.0H775.0V552.5H776.0V552.5H777.0V552.5H778.0V552.5H779.0V553.7H780.0V550.9H781.0V550.9H782.0V550.9H783.0V550.9H784.0V550.9H785.0V551.2H786.0V551.2H787.0V551.2H788.0V551.9H789.0V551.9H790.0V551.9H791.0V553.8H792.0V553.8H793.0V553.8H794.0V554.0H795.0V554.0H796.0V554.0H797.0V552.0H798.0V552.0H799.0V552.0H800.0V552.0H801.0V554.6H802.0V554.6H803.0V554.6H804.0V554.9H805.0V553.9H806.0V553.9H807.0V553.9H808.0V552.1H809.0V552.1H810.0V552.1H811.0V551.3H812.0V551.3H813.0V551.3H814.0V551.3H815.0V552.8H816.0V553.9H817.0V553.9H818.0V555.9H819.0V554.2H820.0V554.2H821.0V554.2H822.0V554.2H823.0V555.8H824.0V555.8H825.0V555.8H826.0V553.3H827.0V553.3H828.0V553.3H829.0V553.3H830.0V554.8H831.0V553.4H832.0V553.4H833.0V553.4H834.0V553.4H835.0V554.7H836.0V554.2H837.0V554.2H838.0V553.1H839.0V553.1H840.0V553.1H841.0V553.1H842.0V555.3H843.0V555.1H844.0V555.1H845.0V552.1H846.0V552.0H847.0V552.0H848.0V552.0H849.0V552.0H850.0V552.0H851.0V553.8H852.0V554.3H853.0V554.3H854.0V554.3H855.0V557.5H856.0V557.5H857.0V557.5H858.0V555.3H859.0V555.3H860.0V555.3H861.0V554.9H862.0V553.3H863.0V553.3H864.0V553.3H865.0V553.3H866.0V553.7H867.0V556.3H868.0V556.3H869.0V556.3H870.0V556.3H871.0V557.0H872.0V553.9H873.0V553.9H874.0V553.9H875.0V553.9H876.0V553.9H877.0V556.7H878.0V556.7H879.0V556.1H880.0V556.1H881.0V556.1H882.0V556.1H883.0V556.1H884.0V554.3H885.0V554.3H886.0V554.3H887.0V554.3H888.0V557.2H889.0V555.0H890.0V555.0H891.0V555.0H892.0V555.0H893.0V555.0H894.0V557.1H895.0V555.8H896.0V555.8H897.0V555.8H898.0V555.8H899.0V556.0H900.0V556.0H901.0V556.1H902.0V556.1H903.0V556.1H904.0V556.1H905.0V559.2H906.0V555.7H907.0V555.7H908.0V555.7H909.0V555.7H910.0V557.5H911.0V555.0H912.0V555.0H913.0V555.0H914.0V555.0H915.0V555.0H916.0V555.7H917.0V556.3H918.0V556.3H919.0V556.3H920.0V556.3H921.0V557.3H922.0V557.3H923.0V557.3H924.0V559.5H925.0V557.7H926.0V557.7H927.0V556.9H928.0V556.9H929.0V556.9H930.0V556.9H931.0V556.9H932.0V555.0H933.0V555.0H934.0V555.0H935.0V554.0H936.0V554.0H937.0V554.0H938.0V554.0H939.0V555.4H940.0V555.4H941.0V555.4H942.0V554.2H943.0V554.2H944.0V554.2H945.0V554.2H946.0V554.2H947.0V556.6H948.0V556.6H949.0V555.4H950.0V555.4H951.0V555.4H952.0V555.4H953.0V555.4H954.0V556.3H955.0V556.3H956.0V556.3H957.0V556.9H958.0V556.9H959.0V556.9H960.0V556.9H961.0V557.5H962.0V557.5H963.0V559.0H964.0V555.3H965.0V555.3H966.0V555.3H967.0V555.3H968.0V555.8H969.0V555.8H970.0V555.8H971.0V557.0H972.0V555.5H973.0V555.5H974.0V555.5H975.0V555.5H976.0V555.5H977.0V556.8H978.0V556.0H979.0V554.9H980.0V553.4H981.0V553.4H982.0V553.4H983.0V553.4H984.0V553.4H985.0V552.7H986.0V552.7H987.0V552.7H988.0V552.7H989.0V554.9H990.0V554.9H991.0V553.6H992.0V553.6H993.0V553.6H994.0V553.6H995.0V554.1H996.0V554.3H997.0V554.3H998.0V554.3H999.0V556.0H1000.0V556.0H1001.0V556.0H1002.0V556.0H1003.0V556.9H1004.0V556.9H1005.0V556.2H1006.0V552.5H1007.0V552.5H1008.0V552.5H1009.0V552.5H1010.0V552.5H1011.0V554.9H1012.0V554.9H1013.0V555.5H1014.0V555.3H1015.0V555.3H1016.0V555.3H1017.0V554.9H1018.0V554.9H1019.0V554.9H1020.0V554.9H1021.0V557.2H1022.0V557.2H1023.0V557.2H1024.0V557.3H1025.0V557.3H1026.0V557.3H1027.0V557.3H1028.0V557.4H1029.0V556.9H1030.0V556.9H1031.0V556.6H1032.0V556.6H1033.0V556.6H1034.0V555.6H1035.0V555.6H1036.0V555.6H1037.0V555.6H1038.0V559.9H1039.0V559.6H1040.0V559.6H1041.0V558.5H1042.0V558.5H1043.0V558.0H1044.0V558.0H1045.0V558.0H1046.0V558.0H1047.0V556.6H1048.0V556.6H1049.0V556.6H1050.0V555.9H1051.0V555.9H1052.0V555.9H1053.0V555.9H1054.0V556.4H1055.0V556.4H1056.0V556.8H1057.0V556.8H1058.0V556.8H1059.0V556.8H1060.0V558.6H1061.0V559.1H1062.0V559.1H1063.0V557.6H1064.0V557.6H1065.0V557.6H1066.0V557.6H1067.0V557.6H1068.0V559.2H1069.0V560.5H1070.0V560.5H1071.0V560.5H1072.0V560.1H1073.0V560.1H1074.0V560.1H1075.0V560.1H1076.0V559.4H1077.0V557.9H1078.0V557.9H1079.0V557.9H1080.0V557.9H1081.0V559.9H1082.0V557.7H1083.0V556.4H1084.0V556.4H1085.0V556.4H1086.0V556.4H1087.0V556.4H1088.0V559.5H1089.0V557.6H1090.0V557.6H1091.0V557.6H1092.0V557.6H1093.0V559.9H1094.0V559.9H1095.0V559.9H1096.0V558.5H1097.0V557.0H1098.0V557.0H1099.0V557.0H1100.0V557.0H1101.0V560.8H1102.0V560.2H1103.0V560.2H1104.0V560.2H1105.0V560.2H1106.0V561.0H1107.0V559.6H1108.0V559.6H1109.0V559.6H1110.0V557.9H1111.0V557.9H1112.0V557.9H1113.0V557.9H1114.0V560.6H1115.0V560.6H1116.0V560.9H1117.0V560.9H1118.0V559.9H1119.0V559.9H1120.0V559.9H1121.0V559.9H1122.0V560.2H1123.0V557.8H1124.0V557.8H1125.0V557.8H1126.0V557.8H1127.0V562.4H1128.0V562.4H1129.0V562.4H1130.0V563.8H1131.0V560.5H1132.0V560.5H1133.0V560.5H1134.0V560.5H1135.0V560.5H1136.0V562.0H1137.0V562.0H1138.0V562.0H1139.0V565.2H1140.0V565.2H1140.0V573.0H1140.0V573.0H1139.0V573.0H1138.0V573.0H1137.0V571.9H1136.0V570.3H1135.0V570.5H1134.0V573.1H1133.0V576.7H1132.0V576.7H1131.0V576.7H1130.0V576.7H1129.0V576.7H1128.0V574.7H1127.0V574.7H1126.0V574.7H1125.0V570.3H1124.0V570.3H1123.0V571.2H1122.0V571.2H1121.0V571.2H1120.0V571.2H1119.0V571.5H1118.0V571.5H1117.0V571.5H1116.0V571.5H1115.0V570.1H1114.0V570.1H1113.0V570.1H1112.0V569.5H1111.0V569.5H1110.0V570.7H1109.0V570.7H1108.0V572.5H1107.0V572.5H1106.0V572.5H1105.0V572.5H1104.0V572.1H1103.0V572.1H1102.0V572.1H1101.0V569.0H1100.0V567.8H1099.0V567.8H1098.0V569.8H1097.0V569.8H1096.0V569.8H1095.0V569.8H1094.0V569.1H1093.0V569.1H1092.0V569.1H1091.0V570.1H1090.0V570.1H1089.0V570.1H1088.0V570.1H1087.0V570.0H1086.0V570.0H1085.0V570.0H1084.0V570.7H1083.0V570.7H1082.0V570.7H1081.0V570.7H1080.0V567.5H1079.0V568.7H1078.0V569.9H1077.0V569.9H1076.0V569.9H1075.0V569.9H1074.0V570.6H1073.0V570.6H1072.0V571.3H1071.0V571.3H1070.0V571.3H1069.0V571.3H1068.0V570.6H1067.0V572.5H1066.0V572.5H1065.0V572.5H1064.0V572.5H1063.0V572.5H1062.0V568.2H1061.0V570.2H1060.0V570.2H1059.0V570.2H1058.0V570.2H1057.0V567.8H1056.0V567.8H1055.0V567.0H1054.0V567.0H1053.0V565.7H1052.0V566.8H1051.0V571.1H1050.0V571.1H1049.0V571.1H1048.0V571.1H1047.0V568.5H1046.0V568.4H1045.0V569.4H1044.0V569.4H1043.0V569.4H1042.0V569.4H1041.0V569.4H1040.0V568.8H1039.0V569.9H1038.0V569.9H1037.0V569.9H1036.0V569.9H1035.0V569.9H1034.0V566.0H1033.0V566.1H1032.0V569.3H1031.0V569.3H1030.0V569.3H1029.0V569.3H1028.0V569.3H1027.0V568.6H1026.0V568.6H1025.0V568.6H1024.0V568.8H1023.0V569.3H1022.0V569.3H1021.0V569.3H1020.0V569.3H1019.0V565.9H1018.0V565.9H1017.0V565.9H1016.0V565.9H1015.0V565.6H1014.0V566.4H1013.0V566.4H1012.0V566.4H1011.0V566.4H1010.0V563.7H1009.0V563.5H1008.0V566.2H1007.0V566.7H1006.0V566.7H1005.0V566.7H1004.0V566.7H1003.0V564.5H1002.0V564.5H1001.0V564.4H1000.0V565.0H999.0V569.3H998.0V569.3H997.0V569.3H996.0V569.3H995.0V569.3H994.0V567.1H993.0V565.5H992.0V565.5H991.0V565.5H990.0V563.8H989.0V563.8H988.0V563.8H987.0V564.6H986.0V564.6H985.0V564.6H984.0V564.6H983.0V564.6H982.0V564.8H981.0V564.8H980.0V564.8H979.0V564.8H978.0V566.4H977.0V566.4H976.0V566.4H975.0V566.4H974.0V566.7H973.0V568.0H972.0V568.0H971.0V568.0H970.0V568.9H969.0V568.9H968.0V568.9H967.0V568.9H966.0V570.4H965.0V570.4H964.0V570.4H963.0V570.4H962.0V570.4H961.0V569.9H960.0V566.8H959.0V567.9H958.0V567.9H957.0V567.9H956.0V568.3H955.0V568.3H954.0V568.3H953.0V568.3H952.0V568.6H951.0V568.6H950.0V568.6H949.0V568.6H948.0V568.6H947.0V565.4H946.0V565.4H945.0V564.8H944.0V564.8H943.0V564.8H942.0V564.8H941.0V565.0H940.0V565.0H939.0V565.0H938.0V565.0H937.0V565.0H936.0V564.2H935.0V564.8H934.0V565.2H933.0V565.7H932.0V567.3H931.0V567.3H930.0V567.3H929.0V567.5H928.0V567.7H927.0V568.3H926.0V568.3H925.0V569.5H924.0V569.8H923.0V569.8H922.0V569.8H921.0V569.8H920.0V567.4H919.0V567.4H918.0V567.4H917.0V567.4H916.0V567.3H915.0V566.2H914.0V568.6H913.0V568.6H912.0V568.6H911.0V568.6H910.0V567.2H909.0V570.7H908.0V570.7H907.0V570.7H906.0V570.7H905.0V570.6H904.0V570.6H903.0V570.6H902.0V565.9H901.0V568.1H900.0V568.1H899.0V568.1H898.0V568.1H897.0V566.3H896.0V566.3H895.0V566.3H894.0V565.3H893.0V565.3H892.0V565.2H891.0V565.4H890.0V565.4H889.0V565.4H888.0V565.4H887.0V566.0H886.0V566.0H885.0V566.5H884.0V566.5H883.0V566.5H882.0V566.5H881.0V566.6H880.0V566.6H879.0V566.9H878.0V566.9H877.0V566.9H876.0V566.9H875.0V566.9H874.0V564.8H873.0V564.8H872.0V565.9H871.0V566.3H870.0V566.3H869.0V566.3H868.0V566.3H867.0V566.3H866.0V565.6H865.0V564.5H864.0V564.5H863.0V565.0H862.0V565.0H861.0V567.2H860.0V568.5H859.0V568.5H858.0V568.5H857.0V568.5H856.0V566.9H855.0V566.9H854.0V565.1H853.0V565.1H852.0V565.1H851.0V563.9H850.0V563.9H849.0V563.9H848.0V563.9H847.0V562.9H846.0V565.1H845.0V566.3H844.0V566.3H843.0V566.3H842.0V566.3H841.0V566.3H840.0V565.4H839.0V565.4H838.0V565.4H837.0V565.4H836.0V564.1H835.0V564.1H834.0V564.1H833.0V565.7H832.0V565.7H831.0V565.7H830.0V565.7H829.0V565.6H828.0V565.7H827.0V565.7H826.0V565.7H825.0V565.7H824.0V565.2H823.0V565.2H822.0V564.8H821.0V563.7H820.0V564.7H819.0V566.8H818.0V566.8H817.0V566.8H816.0V566.8H815.0V564.4H814.0V564.4H813.0V562.2H812.0V562.2H811.0V565.3H810.0V565.3H809.0V565.3H808.0V565.3H807.0V567.0H806.0V567.0H805.0V567.0H804.0V567.0H803.0V567.0H802.0V562.6H801.0V562.6H800.0V562.6H799.0V562.6H798.0V562.5H797.0V564.4H796.0V564.4H795.0V564.6H794.0V564.9H793.0V564.9H792.0V564.9H791.0V564.9H790.0V560.5H789.0V560.5H788.0V559.2H787.0V559.4H786.0V559.4H785.0V560.9H784.0V563.6H783.0V563.6H782.0V563.6H781.0V563.6H780.0V563.0H779.0V563.0H778.0V562.9H777.0V566.1H776.0V566.1H775.0V566.1H774.0V566.1H773.0V563.5H772.0V563.5H771.0V562.1H770.0V562.1H769.0V562.1H768.0V559.7H767.0V559.7H766.0V559.0H765.0V561.0H764.0V561.4H763.0V561.4H762.0V561.4H761.0V561.4H760.0V560.8H759.0V560.8H758.0V560.0H757.0V561.8H756.0V561.8H755.0V561.8H754.0V561.8H753.0V561.8H752.0V561.7H751.0V561.6H750.0V561.6H749.0V561.6H748.0V561.6H747.0V561.6H746.0V560.0H745.0V560.0H744.0V559.2H743.0V559.2H742.0V559.3H741.0V559.3H740.0V559.3H739.0V559.3H738.0V559.3H737.0V555.5H736.0V555.6H735.0V555.6H734.0V556.5H733.0V557.8H732.0V558.4H731.0V558.4H730.0V558.4H729.0V558.4H728.0V557.5H727.0V557.5H726.0V557.5H725.0V557.5H724.0V557.5H723.0V556.4H722.0V554.8H721.0V557.8H720.0V557.8H719.0V557.8H718.0V559.1H717.0V559.1H716.0V559.6H715.0V559.6H714.0V559.6H713.0V559.6H712.0V557.7H711.0V556.7H710.0V556.7H709.0V556.7H708.0V553.6H707.0V553.7H706.0V553.7H705.0V554.5H704.0V554.6H703.0V554.6H702.0V556.9H701.0V556.9H700.0V556.9H699.0V558.0H698.0V558.0H697.0V558.0H696.0V558.0H695.0V556.0H694.0V554.4H693.0V552.9H692.0V552.9H691.0V550.6H690.0V551.3H689.0V551.3H688.0V551.3H687.0V551.7H686.0V551.7H685.0V551.7H684.0V551.7H683.0V551.7H682.0V551.0H681.0V551.1H680.0V553.3H679.0V553.3H678.0V553.3H677.0V553.3H676.0V553.3H675.0V552.4H674.0V552.4H673.0V551.7H672.0V551.7H671.0V549.8H670.0V549.3H669.0V549.2H668.0V549.5H667.0V549.5H666.0V549.5H665.0V549.5H664.0V547.0H663.0V547.0H662.0V550.7H661.0V550.7H660.0V552.0H659.0V552.0H658.0V552.0H657.0V552.0H656.0V550.1H655.0V548.5H654.0V548.5H653.0V547.1H652.0V547.1H651.0V549.6H650.0V549.6H649.0V549.6H648.0V549.6H647.0V549.6H646.0V554.0H645.0V554.0H644.0V554.0H643.0V554.0H642.0V551.1H641.0V551.1H640.0V551.1H639.0V551.1H638.0V549.4H637.0V549.4H636.0V549.4H635.0V549.4H634.0V548.2H633.0V543.3H632.0V543.3H631.0V546.3H630.0V546.3H629.0V546.3H628.0V546.3H627.0V544.6H626.0V545.7H625.0V545.7H624.0V545.7H623.0V545.7H622.0V546.1H621.0V546.1H620.0V546.1H619.0V546.1H618.0V546.0H617.0V546.0H616.0V546.0H615.0V544.5H614.0V544.5H613.0V544.5H612.0V546.9H611.0V546.9H610.0V546.9H609.0V546.9H608.0V546.9H607.0V544.7H606.0V544.7H605.0V544.7H604.0V544.7H603.0V541.2H602.0V541.2H601.0V541.2H600.0V538.7H599.0V538.7H598.0V540.4H597.0V540.4H596.0V540.4H595.0V540.4H594.0V540.7H593.0V540.7H592.0V540.7H591.0V540.7H590.0V540.3H589.0V540.4H588.0V543.9H587.0V543.9H586.0V543.9H585.0V543.9H584.0V538.9H583.0V538.9H582.0V538.9H581.0V538.9H580.0V538.6H579.0V534.8H578.0V534.8H577.0V536.2H576.0V536.2H575.0V536.2H574.0V536.2H573.0V533.8H572.0V537.6H571.0V537.6H570.0V537.6H569.0V537.6H568.0V537.6H567.0V532.4H566.0V530.2H565.0V530.1H564.0V530.6H563.0V532.8H562.0V532.8H561.0V532.8H560.0V532.8H559.0V532.2H558.0V532.2H557.0V532.2H556.0V529.9H555.0V533.2H554.0V533.2H553.0V533.2H552.0V533.2H551.0V529.6H550.0V529.6H549.0V529.0H548.0V529.0H547.0V523.6H546.0V523.6H545.0V523.6H544.0V523.6H543.0V523.6H542.0V522.2H541.0V522.2H540.0V522.5H539.0V522.5H538.0V522.5H537.0V522.5H536.0V522.5H535.0V523.8H534.0V523.8H533.0V523.8H532.0V523.8H531.0V523.8H530.0V523.5H529.0V516.6H528.0V516.6H527.0V516.6H526.0V516.6H525.0V516.5H524.0V518.5H523.0V518.5H522.0V518.5H521.0V518.5H520.0V518.1H519.0V518.1H518.0V518.1H517.0V514.5H516.0V512.7H515.0V510.8H514.0V510.8H513.0V510.8H512.0V513.7H511.0V513.7H510.0V513.7H509.0V513.7H508.0V508.8H507.0V508.8H506.0V508.4H505.0V508.4H504.0V508.3H503.0V508.3H502.0V505.9H501.0V506.6H500.0V506.6H499.0V506.6H498.0V506.6H497.0V506.6H496.0V499.1H495.0V495.1H494.0V492.0H493.0V489.7H492.0V489.7H491.0V489.1H490.0V488.2H489.0V488.2H488.0V488.2H487.0V486.0H486.0V486.0H485.0V482.4H484.0V482.4H483.0V480.3H482.0V480.3H481.0V480.3H480.0V480.3H479.0V481.6H478.0V481.6H477.0V481.6H476.0V481.6H475.0V481.6H474.0V481.4H473.0V481.4H472.0V481.4H471.0V481.4H470.0V479.9H469.0V479.9H468.0V476.8H467.0V473.0H466.0V473.0H465.0V476.5H464.0V476.5H463.0V476.5H462.0V476.5H461.0V476.5H460.0V474.4H459.0V473.5H458.0V472.7H457.0V472.7H456.0V472.7H455.0V471.4H454.0V471.4H453.0V470.8H452.0V465.6H451.0V466.9H450.0V466.9H449.0V466.9H448.0V466.9H447.0V466.9H446.0V465.4H445.0V465.4H444.0V465.4H443.0V465.4H442.0V465.5H441.0V473.1H440.0V473.1H439.0V473.1H438.0V473.1H437.0V472.8H436.0V472.8H435.0V472.8H434.0V470.0H433.0V471.3H432.0V471.3H431.0V471.3H430.0V474.8H429.0V474.8H428.0V474.8H427.0V476.2H426.0V476.2H425.0V476.2H424.0V476.2H423.0V477.1H422.0V477.1H421.0V477.1H420.0V479.8H419.0V479.8H418.0V479.8H417.0V479.8H416.0V480.1H415.0V483.5H414.0V483.5H413.0V483.5H412.0V483.5H411.0V483.5H410.0V483.5H409.0V483.5H408.0V483.5H407.0V483.5H406.0V480.5H405.0V480.2H404.0V480.2H403.0V481.8H402.0V486.5H401.0V486.5H400.0V486.5H399.0V486.5H398.0V484.3H397.0V486.9H396.0V486.9H395.0V490.1H394.0V490.1H393.0V490.1H392.0V490.1H391.0V488.7H390.0V488.1H389.0V490.6H388.0V490.6H387.0V490.6H386.0V490.6H385.0V490.6H384.0V496.3H383.0V496.3H382.0V496.3H381.0V496.3H380.0V490.8H379.0V490.8H378.0V486.3H377.0V486.3H376.0V486.3H375.0V482.2H374.0V479.5H373.0V481.2H372.0V481.2H371.0V481.2H370.0V488.8H369.0V488.8H368.0V490.2H367.0V490.2H366.0V490.2H365.0V490.2H364.0V490.2H363.0V484.5H362.0V484.5H361.0V483.9H360.0V483.9H359.0V483.9H358.0V475.7H357.0V475.7H356.0V475.7H355.0V475.7H354.0V474.7H353.0V474.7H352.0V469.0H351.0V469.0H350.0V466.1H349.0V471.8H348.0V471.8H347.0V471.8H346.0V471.8H345.0V466.3H344.0V463.4H343.0V463.4H342.0V463.4H341.0V460.3H340.0V460.3H339.0V460.3H338.0V454.3H337.0V453.4H336.0V448.6H335.0V448.6H334.0V445.2H333.0V445.2H332.0V445.2H331.0V445.3H330.0V445.3H329.0V445.3H328.0V445.3H327.0V445.3H326.0V442.5H325.0V439.4H324.0V439.4H323.0V439.4H322.0V439.4H321.0V437.5H320.0V437.5H319.0V437.4H318.0V447.3H317.0V447.3H316.0V447.3H315.0V447.3H314.0V447.3H313.0V440.1H312.0V440.1H311.0V440.1H310.0V440.5H309.0V440.5H308.0V440.5H307.0V440.5H306.0V434.0H305.0V428.8H304.0V428.8H303.0V428.8H302.0V428.8H301.0V428.8H300.0V422.5H299.0V422.5H298.0V422.5H297.0V421.1H296.0V421.1H295.0V414.0H294.0V414.0H293.0V414.0H292.0V412.2H291.0V412.2H290.0V412.2H289.0V410.7H288.0V410.7H287.0V410.7H286.0V407.1H285.0V405.9H284.0V409.5H283.0V409.5H282.0V409.5H281.0V409.5H280.0V399.1H279.0V397.9H278.0V397.9H277.0V397.9H276.0V397.9H275.0V397.9H274.0V394.2H273.0V392.5H272.0V390.2H271.0V390.2H270.0V390.2H269.0V385.5H268.0V385.5H267.0V377.7H266.0V377.7H265.0V378.1H264.0V382.8H263.0V388.5H262.0V388.5H261.0V388.5H260.0V388.5H259.0V383.0H258.0V376.8H257.0V383.8H256.0V383.8H255.0V383.8H254.0V383.8H253.0V383.8H252.0V374.8H251.0V374.8H250.0V379.8H249.0V379.8H248.0V379.8H247.0V379.8H246.0V374.4H245.0V374.7H244.0V374.7H243.0V374.7H242.0V379.1H241.0V379.1H240.0V379.1H239.0V379.1H238.0V372.5H237.0V376.5H236.0V376.5H235.0V376.5H234.0V376.5H233.0V376.5H232.0V370.1H231.0V370.1H230.0V370.0H229.0V372.1H228.0V373.2H227.0V373.2H226.0V373.2H225.0V373.2H224.0V368.3H223.0V369.1H222.0V369.1H221.0V370.3H220.0V382.1H219.0V382.1H218.0V382.1H217.0V382.1H216.0V382.1H215.0V375.4H214.0V373.8H213.0V373.8H212.0V371.1H211.0V374.2H210.0V375.9H209.0V380.2H208.0V380.2H207.0V382.8H206.0V382.8H205.0V382.8H204.0V382.8H203.0V382.8H202.0V376.4H201.0V374.0H200.0V378.0H199.0V380.0H198.0V384.0H197.0V384.9H196.0V384.9H195.0V384.9H194.0V384.9H193.0V384.3H192.0V384.3H191.0V385.9H190.0V385.9H189.0V385.9H188.0V385.9H187.0V384.9H186.0V386.1H185.0V392.1H184.0V392.1H183.0V392.1H182.0V392.1H181.0V382.3H180.0V382.3H179.0V380.6H178.0V378.8H177.0V377.2H176.0V377.2H175.0V374.2H174.0V374.2H173.0V375.3H172.0V375.3H171.0V381.4H170.0V381.4H169.0V389.9H168.0V389.9H167.0V389.9H166.0V389.9H165.0V378.7H164.0V380.4H163.0V380.4H162.0V380.4H161.0V380.4H160.0V378.6H159.0V378.6H158.0V375.2H157.0V381.2H156.0V382.5H155.0V382.5H154.0V382.5H153.0V382.5H152.0V382.5H151.0V379.9H150.0V379.9H149.0V379.9H148.0V377.1H147.0V381.4H146.0V381.4H145.0V385.3H144.0V385.3H143.0V385.3H142.0V385.3H141.0V368.1H140.0V374.6H139.0V374.6H138.0V378.2H137.0V378.2H136.0V378.2H135.0V378.2H134.0V378.2H133.0V376.5H132.0V376.5H131.0V365.8H130.0V367.8H129.0V367.8H128.0V367.8H127.0Z"/>
<path fill="#ff0000" d="M127.0 235.2V235.2H128.0V232.8H129.0V232.8H130.0V232.8H131.0V232.8H132.0V244.0H133.0V244.0H134.0V244.0H135.0V244.0H136.0V256.7H137.0V257.1H138.0V260.0H139.0V260.0H140.0V260.0H141.0V263.0H142.0V271.5H143.0V271.6H144.0V271.6H145.0V259.5H146.0V259.5H147.0V259.5H148.0V259.5H149.0V259.5H150.0V269.5H151.0V269.1H152.0V269.1H153.0V267.1H154.0V267.1H155.0V267.1H156.0V267.1H157.0V267.2H158.0V267.2H159.0V267.2H160.0V267.7H161.0V263.7H162.0V263.7H163.0V263.7H164.0V263.7H165.0V264.8H166.0V264.8H167.0V264.8H168.0V257.5H169.0V257.5H170.0V257.5H171.0V257.5H172.0V257.5H173.0V265.5H174.0V267.4H175.0V263.1H176.0V263.1H177.0V263.1H178.0V263.1H179.0V262.0H180.0V262.0H181.0V262.0H182.0V255.7H183.0V255.7H184.0V255.7H185.0V255.7H186.0V255.7H187.0V258.0H188.0V265.1H189.0V265.1H190.0V265.1H191.0V265.7H192.0V260.2H193.0V260.2H194.0V260.2H195.0V260.2H196.0V262.0H197.0V262.0H198.0V262.0H199.0V258.8H200.0V255.9H201.0V255.9H202.0V255.9H203.0V255.9H204.0V255.9H205.0V265.3H206.0V268.5H207.0V267.9H208.0V267.9H209.0V267.9H210.0V267.9H211.0V271.5H212.0V267.9H213.0V267.9H214.0V267.9H215.0V261.9H216.0V261.9H217.0V261.9H218.0V261.9H219.0V261.9H220.0V274.5H221.0V276.4H222.0V276.4H223.0V276.9H224.0V276.9H225.0V276.9H226.0V282.0H227.0V276.9H228.0V276.9H229.0V276.9H230.0V276.9H231.0V281.4H232.0V281.4H233.0V281.4H234.0V280.0H235.0V280.0H236.0V280.0H237.0V280.0H238.0V280.3H239.0V280.3H240.0V280.3H241.0V280.3H242.0V280.3H243.0V288.2H244.0V286.2H245.0V286.2H246.0V286.2H247.0V286.2H248.0V293.6H249.0V293.6H250.0V293.6H251.0V293.6H252.0V293.6H253.0V294.8H254.0V294.8H255.0V294.8H256.0V294.8H257.0V297.4H258.0V299.7H259.0V301.9H260.0V301.9H261.0V304.4H262.0V304.4H263.0V304.4H264.0V306.9H265.0V306.9H266.0V306.9H267.0V306.9H268.0V306.9H269.0V308.1H270.0V308.1H271.0V310.8H272.0V310.8H273.0V316.4H274.0V316.4H275.0V310.0H276.0V310.0H277.0V310.0H278.0V310.0H279.0V310.0H280.0V319.6H281.0V321.8H282.0V324.9H283.0V324.9H284.0V324.9H285.0V327.3H286.0V325.0H287.0V325.0H288.0V325.0H289.0V325.0H290.0V325.0H291.0V329.1H292.0V329.1H293.0V328.1H294.0V328.1H295.0V328.1H296.0V328.1H297.0V334.1H298.0V330.5H299.0V330.5H300.0V330.5H301.0V330.5H302.0V330.5H303.0V337.0H304.0V341.8H305.0V341.8H306.0V341.8H307.0V346.4H308.0V346.4H309.0V342.3H310.0V342.3H311.0V342.3H312.0V342.3H313.0V342.3H314.0V353.1H315.0V353.1H316.0V353.1H317.0V353.1H318.0V354.7H319.0V356.7H320.0V356.7H321.0V371.1H322.0V371.8H323.0V371.8H324.0V370.2H325.0V370.2H326.0V370.2H327.0V370.2H328.0V370.2H329.0V375.5H330.0V375.5H331.0V376.1H332.0V380.6H333.0V381.3H334.0V381.3H335.0V381.3H336.0V379.7H337.0V374.7H338.0V374.7H339.0V374.7H340.0V374.7H341.0V382.7H342.0V382.7H343.0V389.1H344.0V389.1H345.0V388.5H346.0V388.5H347.0V388.2H348.0V388.2H349.0V388.2H350.0V388.2H351.0V392.2H352.0V392.2H353.0V392.2H354.0V398.8H355.0V396.8H356.0V396.8H357.0V396.8H358.0V396.8H359.0V399.5H360.0V405.7H361.0V402.4H362.0V402.4H363.0V402.4H364.0V401.5H365.0V398.2H366.0V398.2H367.0V394.7H368.0V394.7H369.0V394.7H370.0V394.7H371.0V395.1H372.0V395.1H373.0V395.1H374.0V395.1H375.0V395.1H376.0V399.6H377.0V403.3H378.0V403.3H379.0V409.6H380.0V409.6H381.0V404.7H382.0V404.7H383.0V404.7H384.0V403.9H385.0V403.9H386.0V403.9H387.0V403.9H388.0V409.1H389.0V410.0H390.0V400.0H391.0V400.0H392.0V400.0H393.0V400.0H394.0V400.0H395.0V400.5H396.0V400.5H397.0V400.5H398.0V400.5H399.0V402.4H400.0V398.1H401.0V394.6H402.0V394.6H403.0V394.6H404.0V394.5H405.0V394.5H406.0V394.5H407.0V393.0H408.0V393.0H409.0V393.0H410.0V393.0H411.0V393.0H412.0V393.9H413.0V389.7H414.0V388.0H415.0V388.0H416.0V388.0H417.0V388.0H418.0V388.0H419.0V389.5H420.0V389.3H421.0V385.1H422.0V385.1H423.0V385.0H424.0V385.0H425.0V382.8H426.0V382.8H427.0V382.8H428.0V382.8H429.0V386.4H430.0V388.8H431.0V388.8H432.0V387.8H433.0V385.1H434.0V381.9H435.0V381.9H436.0V381.9H437.0V381.9H438.0V382.0H439.0V382.0H440.0V382.0H441.0V382.0H442.0V386.5H443.0V387.0H444.0V386.6H445.0V382.4H446.0V382.4H447.0V381.5H448.0V381.5H449.0V381.5H450.0V381.5H451.0V384.9H452.0V382.2H453.0V382.2H454.0V382.2H455.0V382.2H456.0V382.2H457.0V385.2H458.0V380.2H459.0V380.2H460.0V380.2H461.0V380.2H462.0V380.2H463.0V391.5H464.0V391.5H465.0V392.0H466.0V389.6H467.0V389.6H468.0V389.6H469.0V389.6H470.0V389.6H471.0V390.5H472.0V389.4H473.0V389.4H474.0V389.4H475.0V389.4H476.0V391.7H477.0V391.7H478.0V391.7H479.0V395.3H480.0V395.3H481.0V395.3H482.0V395.6H483.0V397.9H484.0V393.0H485.0V393.0H486.0V393.0H487.0V393.0H488.0V393.0H489.0V399.2H490.0V404.8H491.0V408.1H492.0V406.8H493.0V406.8H494.0V406.8H495.0V406.8H496.0V406.8H497.0V407.8H498.0V407.8H499.0V413.8H500.0V412.1H501.0V412.1H502.0V410.1H503.0V410.1H504.0V410.1H505.0V410.1H506.0V410.4H507.0V420.3H508.0V420.3H509.0V420.3H510.0V420.3H511.0V420.6H512.0V420.6H513.0V421.7H514.0V421.7H515.0V423.7H516.0V423.7H517.0V424.9H518.0V425.3H519.0V426.3H520.0V426.3H521.0V426.3H522.0V428.0H523.0V428.0H524.0V428.0H525.0V429.9H526.0V429.9H527.0V429.9H528.0V429.9H529.0V433.1H530.0V436.4H531.0V436.4H532.0V441.0H533.0V441.0H534.0V441.0H535.0V441.0H536.0V441.0H537.0V439.0H538.0V431.9H539.0V431.9H540.0V431.9H541.0V431.9H542.0V436.8H543.0V438.7H544.0V438.7H545.0V438.7H546.0V439.8H547.0V439.8H548.0V439.8H549.0V439.8H550.0V443.8H551.0V443.8H552.0V443.9H553.0V443.9H554.0V443.9H555.0V443.9H556.0V448.5H557.0V448.5H558.0V450.0H559.0V448.1H560.0V448.1H561.0V448.1H562.0V448.1H563.0V447.2H564.0V447.2H565.0V447.2H566.0V447.2H567.0V447.2H568.0V448.1H569.0V448.1H570.0V451.4H571.0V450.6H572.0V450.2H573.0V450.2H574.0V450.2H575.0V450.2H576.0V452.4H577.0V452.3H578.0V452.3H579.0V451.9H580.0V451.9H581.0V451.9H582.0V451.9H583.0V454.5H584.0V455.2H585.0V455.2H586.0V455.2H587.0V455.8H588.0V456.3H589.0V456.0H590.0V456.0H591.0V456.0H592.0V456.0H593.0V456.1H594.0V455.6H595.0V454.5H596.0V454.5H597.0V452.6H598.0V452.6H599.0V452.6H600.0V452.6H601.0V452.8H602.0V452.8H603.0V452.8H604.0V454.7H605.0V454.7H606.0V457.2H607.0V457.2H608.0V454.0H609.0V454.0H610.0V454.0H611.0V454.0H612.0V454.0H613.0V455.5H614.0V455.5H615.0V458.3H616.0V459.0H617.0V459.0H618.0V459.0H619.0V459.0H620.0V459.0H621.0V459.0H622.0V457.9H623.0V457.9H624.0V456.7H625.0V456.7H626.0V456.7H627.0V456.7H628.0V459.4H629.0V459.4H630.0V460.6H631.0V460.6H632.0V459.6H633.0V459.6H634.0V459.6H635.0V459.6H636.0V460.6H637.0V460.6H638.0V460.6H639.0V462.1H640.0V463.6H641.0V463.6H642.0V462.1H643.0V462.1H644.0V462.1H645.0V462.1H646.0V463.9H647.0V463.9H648.0V463.9H649.0V465.3H650.0V465.7H651.0V466.3H652.0V466.3H653.0V466.3H654.0V464.7H655.0V464.5H656.0V464.5H657.0V462.3H658.0V462.3H659.0V462.3H660.0V462.3H661.0V462.3H662.0V465.1H663.0V465.4H664.0V465.6H665.0V465.9H666.0V465.5H667.0V465.5H668.0V465.5H669.0V465.5H670.0V466.9H671.0V465.9H672.0V465.9H673.0V465.2H674.0V465.2H675.0V465.2H676.0V465.2H677.0V465.2H678.0V466.4H679.0V468.0H680.0V468.0H681.0V468.5H682.0V468.5H683.0V468.5H684.0V471.4H685.0V470.9H686.0V470.9H687.0V470.9H688.0V470.9H689.0V472.6H690.0V472.6H691.0V472.6H692.0V471.6H693.0V471.6H694.0V470.5H695.0V468.7H696.0V468.7H697.0V468.7H698.0V468.7H699.0V471.4H700.0V471.6H701.0V471.6H702.0V473.6H703.0V474.4H704.0V474.4H705.0V474.7H706.0V474.5H707.0V474.5H708.0V473.4H709.0V472.1H710.0V471.5H711.0V471.5H712.0V471.5H713.0V471.5H714.0V473.3H715.0V473.3H716.0V473.3H717.0V473.3H718.0V473.3H719.0V475.8H720.0V475.9H721.0V475.9H722.0V476.4H723.0V475.2H724.0V475.2H725.0V475.2H726.0V475.2H727.0V475.2H728.0V475.5H729.0V475.5H730.0V476.1H731.0V476.1H732.0V476.1H733.0V474.8H734.0V474.8H735.0V474.8H736.0V474.8H737.0V475.6H738.0V478.2H739.0V478.2H740.0V477.4H741.0V477.4H742.0V477.4H743.0V477.4H744.0V478.8H745.0V479.4H746.0V479.1H747.0V478.1H748.0V478.1H749.0V478.1H750.0V478.1H751.0V479.0H752.0V478.9H753.0V478.9H754.0V478.9H755.0V478.9H756.0V478.9H757.0V479.1H758.0V479.1H759.0V479.1H760.0V480.3H761.0V480.7H762.0V482.5H763.0V482.5H764.0V482.5H765.0V482.4H766.0V481.2H767.0V481.2H768.0V480.4H769.0V480.4H770.0V480.4H771.0V480.4H772.0V480.4H773.0V483.7H774.0V483.7H775.0V483.9H776.0V483.9H777.0V483.9H778.0V483.2H779.0V483.1H780.0V483.1H781.0V483.1H782.0V483.1H783.0V483.2H784.0V483.2H785.0V483.2H786.0V483.2H787.0V484.4H788.0V482.6H789.0V482.6H790.0V482.6H791.0V482.6H792.0V482.6H793.0V482.6H794.0V481.4H795.0V481.4H796.0V481.4H797.0V481.4H798.0V483.0H799.0V483.0H800.0V483.4H801.0V483.4H802.0V483.4H803.0V483.4H804.0V483.4H805.0V485.2H806.0V485.2H807.0V485.7H808.0V485.6H809.0V485.6H810.0V485.6H811.0V484.8H812.0V484.8H813.0V484.8H814.0V484.8H815.0V484.2H816.0V484.2H817.0V484.2H818.0V483.8H819.0V483.8H820.0V483.8H821.0V483.5H822.0V483.4H823.0V483.4H824.0V483.4H825.0V483.1H826.0V483.1H827.0V483.1H828.0V482.2H829.0V482.2H830.0V482.2H831.0V482.2H832.0V483.7H833.0V483.7H834.0V484.5H835.0V484.5H836.0V482.8H837.0V482.8H838.0V482.8H839.0V482.8H840.0V482.8H841.0V484.0H842.0V484.3H843.0V482.8H844.0V482.8H845.0V482.4H846.0V482.4H847.0V482.4H848.0V482.4H849.0V482.4H850.0V485.5H851.0V485.5H852.0V484.1H853.0V483.9H854.0V483.9H855.0V483.9H856.0V483.9H857.0V481.4H858.0V481.3H859.0V481.3H860.0V481.3H861.0V481.3H862.0V481.3H863.0V484.9H864.0V484.9H865.0V484.3H866.0V484.3H867.0V484.3H868.0V484.3H869.0V484.7H870.0V486.4H871.0V485.1H872.0V485.1H873.0V485.1H874.0V482.8H875.0V482.8H876.0V482.8H877.0V482.8H878.0V484.1H879.0V484.3H880.0V484.3H881.0V485.1H882.0V485.1H883.0V486.5H884.0V486.5H885.0V486.5H886.0V486.5H887.0V485.5H888.0V485.5H889.0V485.5H890.0V485.5H891.0V485.5H892.0V486.9H893.0V485.5H894.0V485.5H895.0V485.3H896.0V485.3H897.0V485.3H898.0V485.3H899.0V485.3H900.0V485.6H901.0V487.3H902.0V487.6H903.0V488.0H904.0V487.6H905.0V486.0H906.0V483.2H907.0V483.2H908.0V483.2H909.0V483.2H910.0V483.2H911.0V483.7H912.0V486.2H913.0V487.1H914.0V486.7H915.0V480.5H916.0V480.5H917.0V480.5H918.0V480.5H919.0V480.5H920.0V482.9H921.0V483.7H922.0V483.7H923.0V484.2H924.0V484.2H925.0V484.2H926.0V486.0H927.0V484.5H928.0V484.4H929.0V483.0H930.0V483.0H931.0V483.0H932.0V483.0H933.0V483.0H934.0V484.5H935.0V484.5H936.0V484.5H937.0V483.7H938.0V482.0H939.0V482.0H940.0V482.0H941.0V482.0H942.0V484.9H943.0V485.0H944.0V483.7H945.0V483.7H946.0V483.7H947.0V483.0H948.0V483.0H949.0V483.0H950.0V482.9H951.0V482.6H952.0V482.0H953.0V482.0H954.0V482.0H955.0V482.0H956.0V482.8H957.0V482.8H958.0V480.1H959.0V480.1H960.0V480.1H961.0V480.1H962.0V480.1H963.0V481.9H964.0V481.9H965.0V481.8H966.0V481.8H967.0V481.8H968.0V481.8H969.0V482.5H970.0V482.5H971.0V482.5H972.0V482.5H973.0V482.5H974.0V482.2H975.0V482.2H976.0V482.2H977.0V482.2H978.0V482.2H979.0V483.5H980.0V483.5H981.0V482.6H982.0V482.6H983.0V482.6H984.0V482.6H985.0V482.1H986.0V482.1H987.0V482.1H988.0V482.1H989.0V482.1H990.0V482.9H991.0V482.8H992.0V482.8H993.0V480.1H994.0V480.1H995.0V480.1H996.0V480.0H997.0V478.4H998.0V478.4H999.0V477.7H1000.0V475.6H1001.0V475.6H1002.0V475.6H1003.0V475.6H1004.0V475.6H1005.0V478.5H1006.0V478.5H1007.0V478.5H1008.0V479.4H1009.0V479.4H1010.0V479.4H1011.0V480.3H1012.0V480.3H1013.0V480.3H1014.0V482.2H1015.0V482.2H1016.0V484.8H1017.0V483.1H1018.0V483.1H1019.0V481.1H1020.0V481.1H1021.0V481.1H1022.0V481.1H1023.0V484.4H1024.0V484.4H1025.0V484.0H1026.0V484.0H1027.0V483.9H1028.0V482.7H1029.0V482.7H1030.0V482.7H1031.0V482.7H1032.0V484.5H1033.0V484.5H1034.0V482.6H1035.0V482.6H1036.0V482.6H1037.0V482.6H1038.0V483.7H1039.0V483.7H1040.0V483.8H1041.0V483.4H1042.0V483.4H1043.0V483.4H1044.0V480.8H1045.0V480.8H1046.0V480.8H1047.0V480.8H1048.0V481.9H1049.0V481.9H1050.0V478.8H1051.0V478.8H1052.0V478.8H1053.0V478.8H1054.0V478.8H1055.0V480.4H1056.0V482.2H1057.0V482.8H1058.0V482.8H1059.0V484.4H1060.0V484.4H1061.0V483.9H1062.0V483.9H1063.0V483.9H1064.0V483.9H1065.0V483.9H1066.0V484.2H1067.0V484.2H1068.0V484.2H1069.0V484.2H1070.0V482.8H1071.0V482.8H1072.0V482.8H1073.0V482.8H1074.0V482.8H1075.0V483.5H1076.0V483.5H1077.0V480.4H1078.0V480.4H1079.0V480.4H1080.0V480.4H1081.0V481.0H1082.0V484.0H1083.0V484.0H1084.0V484.0H1085.0V484.0H1086.0V483.8H1087.0V483.8H1088.0V483.8H1089.0V483.8H1090.0V483.8H1091.0V484.4H1092.0V482.8H1093.0V482.8H1094.0V481.8H1095.0V481.8H1096.0V481.8H1097.0V481.8H1098.0V484.5H1099.0V483.8H1100.0V483.8H1101.0V483.8H1102.0V483.8H1103.0V483.8H1104.0V485.2H1105.0V485.2H1106.0V485.2H1107.0V486.7H1108.0V486.5H1109.0V485.4H1110.0V485.4H1111.0V485.4H1112.0V485.4H1113.0V487.2H1114.0V487.2H1115.0V489.4H1116.0V487.9H1117.0V487.9H1118.0V487.9H1119.0V487.9H1120.0V488.1H1121.0V488.1H1122.0V488.1H1123.0V488.1H1124.0V488.9H1125.0V485.8H1126.0V485.8H1127.0V485.8H1128.0V485.2H1129.0V485.2H1130.0V485.2H1131.0V485.2H1132.0V487.3H1133.0V489.7H1134.0V490.5H1135.0V490.5H1136.0V490.5H1137.0V490.5H1138.0V490.5H1139.0V491.1H1140.0V491.1H1140.0V499.0H1140.0V499.0H1139.0V499.4H1138.0V499.4H1137.0V499.4H1136.0V499.4H1135.0V500.7H1134.0V500.7H1133.0V500.7H1132.0V500.7H1131.0V497.2H1130.0V500.3H1129.0V500.3H1128.0V500.3H1127.0V500.3H1126.0V499.2H1125.0V499.2H1124.0V499.2H1123.0V499.2H1122.0V495.9H1121.0V495.9H1120.0V499.3H1119.0V499.3H1118.0V499.3H1117.0V500.3H1116.0V500.3H1115.0V500.3H1114.0V500.3H1113.0V497.1H1112.0V497.1H1111.0V497.1H1110.0V496.0H1109.0V496.0H1108.0V496.0H1107.0V496.0H1106.0V496.1H1105.0V496.1H1104.0V496.1H1103.0V496.1H1102.0V495.9H1101.0V495.0H1100.0V495.0H1099.0V496.4H1098.0V496.4H1097.0V496.4H1096.0V496.4H1095.0V492.2H1094.0V492.2H1093.0V492.1H1092.0V493.7H1091.0V493.7H1090.0V493.7H1089.0V493.7H1088.0V493.7H1087.0V493.7H1086.0V493.7H1085.0V493.7H1084.0V493.7H1083.0V493.7H1082.0V492.8H1081.0V492.2H1080.0V492.2H1079.0V495.8H1078.0V495.8H1077.0V495.8H1076.0V495.8H1075.0V493.9H1074.0V493.9H1073.0V493.7H1072.0V493.7H1071.0V495.2H1070.0V495.2H1069.0V495.2H1068.0V495.2H1067.0V495.2H1066.0V493.7H1065.0V493.7H1064.0V496.3H1063.0V496.3H1062.0V496.3H1061.0V496.3H1060.0V494.4H1059.0V494.4H1058.0V494.4H1057.0V491.2H1056.0V491.2H1055.0V492.7H1054.0V492.7H1053.0V492.7H1052.0V492.7H1051.0V492.7H1050.0V491.8H1049.0V491.8H1048.0V491.8H1047.0V491.5H1046.0V492.8H1045.0V492.8H1044.0V492.8H1043.0V492.8H1042.0V492.8H1041.0V492.5H1040.0V493.1H1039.0V497.3H1038.0V497.3H1037.0V497.3H1036.0V497.3H1035.0V497.3H1034.0V496.2H1033.0V494.8H1032.0V493.6H1031.0V493.6H1030.0V495.2H1029.0V495.2H1028.0V495.2H1027.0V495.2H1026.0V492.8H1025.0V492.8H1024.0V493.4H1023.0V493.4H1022.0V493.5H1021.0V493.5H1020.0V494.0H1019.0V494.0H1018.0V494.0H1017.0V494.0H1016.0V492.6H1015.0V492.3H1014.0V492.3H1013.0V492.3H1012.0V491.6H1011.0V491.6H1010.0V491.6H1009.0V491.6H1008.0V491.4H1007.0V491.4H1006.0V491.4H1005.0V490.0H1004.0V488.9H1003.0V488.9H1002.0V488.7H1001.0V489.7H1000.0V489.7H999.0V490.2H998.0V494.7H997.0V494.7H996.0V494.7H995.0V494.7H994.0V493.4H993.0V493.4H992.0V493.4H991.0V492.5H990.0V492.5H989.0V491.8H988.0V492.8H987.0V494.5H986.0V494.5H985.0V494.5H984.0V494.5H983.0V494.3H982.0V494.3H981.0V494.3H980.0V494.3H979.0V494.3H978.0V493.3H977.0V493.3H976.0V492.6H975.0V492.6H974.0V492.6H973.0V492.6H972.0V492.6H971.0V492.6H970.0V492.6H969.0V492.6H968.0V492.6H967.0V491.8H966.0V492.2H965.0V492.2H964.0V492.2H963.0V493.2H962.0V493.2H961.0V493.2H960.0V495.1H959.0V495.1H958.0V495.1H957.0V495.1H956.0V494.8H955.0V494.8H954.0V494.8H953.0V494.4H952.0V494.4H951.0V494.4H950.0V494.4H949.0V493.9H948.0V493.9H947.0V494.4H946.0V494.4H945.0V494.4H944.0V494.4H943.0V493.9H942.0V493.9H941.0V492.4H940.0V494.0H939.0V494.8H938.0V494.8H937.0V494.8H936.0V494.8H935.0V494.8H934.0V492.7H933.0V495.1H932.0V495.1H931.0V495.1H930.0V495.1H929.0V494.2H928.0V494.5H927.0V494.5H926.0V495.9H925.0V495.9H924.0V495.9H923.0V495.9H922.0V495.2H921.0V493.8H920.0V493.8H919.0V493.8H918.0V497.2H917.0V497.2H916.0V497.2H915.0V497.6H914.0V497.8H913.0V497.8H912.0V497.8H911.0V497.8H910.0V497.8H909.0V495.7H908.0V494.8H907.0V496.2H906.0V496.2H905.0V496.5H904.0V496.5H903.0V496.5H902.0V496.5H901.0V496.5H900.0V496.5H899.0V496.5H898.0V496.5H897.0V497.4H896.0V497.4H895.0V497.4H894.0V497.4H893.0V494.4H892.0V494.4H891.0V494.4H890.0V496.4H889.0V496.4H888.0V496.4H887.0V496.4H886.0V496.4H885.0V495.2H884.0V494.6H883.0V496.7H882.0V496.7H881.0V496.7H880.0V496.7H879.0V494.9H878.0V493.1H877.0V492.4H876.0V493.3H875.0V493.7H874.0V497.1H873.0V497.1H872.0V497.1H871.0V497.1H870.0V497.1H869.0V494.7H868.0V494.6H867.0V495.1H866.0V495.1H865.0V495.1H864.0V495.1H863.0V494.5H862.0V492.7H861.0V492.3H860.0V492.4H859.0V495.6H858.0V495.6H857.0V495.6H856.0V495.6H855.0V495.6H854.0V495.2H853.0V495.2H852.0V495.2H851.0V495.2H850.0V494.2H849.0V494.2H848.0V493.5H847.0V493.4H846.0V492.3H845.0V492.3H844.0V494.3H843.0V494.9H842.0V494.9H841.0V494.9H840.0V494.9H839.0V494.6H838.0V495.1H837.0V495.4H836.0V495.4H835.0V495.4H834.0V495.4H833.0V494.0H832.0V494.0H831.0V494.0H830.0V494.0H829.0V492.7H828.0V492.7H827.0V495.2H826.0V495.2H825.0V495.2H824.0V495.2H823.0V495.2H822.0V492.2H821.0V494.5H820.0V494.5H819.0V496.2H818.0V496.2H817.0V496.5H816.0V496.5H815.0V496.5H814.0V496.5H813.0V495.4H812.0V495.4H811.0V495.4H810.0V493.5H809.0V493.5H808.0V497.1H807.0V497.1H806.0V497.1H805.0V497.1H804.0V493.8H803.0V493.8H802.0V493.8H801.0V493.8H800.0V492.1H799.0V493.5H798.0V493.5H797.0V493.5H796.0V493.5H795.0V493.0H794.0V492.7H793.0V492.4H792.0V492.4H791.0V492.4H790.0V493.1H789.0V494.0H788.0V494.0H787.0V494.0H786.0V494.0H785.0V493.6H784.0V493.6H783.0V493.6H782.0V492.5H781.0V491.2H780.0V491.6H779.0V491.6H778.0V493.3H777.0V493.3H776.0V493.3H775.0V493.3H774.0V491.6H773.0V490.8H772.0V491.6H771.0V491.6H770.0V491.6H769.0V491.6H768.0V490.1H767.0V492.9H766.0V492.9H765.0V492.9H764.0V492.9H763.0V491.6H762.0V491.6H761.0V491.6H760.0V490.0H759.0V488.5H758.0V488.7H757.0V488.7H756.0V488.7H755.0V488.7H754.0V488.7H753.0V488.5H752.0V490.0H751.0V490.0H750.0V490.0H749.0V490.0H748.0V490.0H747.0V489.5H746.0V489.5H745.0V488.3H744.0V488.3H743.0V488.3H742.0V486.7H741.0V486.7H740.0V486.2H739.0V486.2H738.0V488.7H737.0V488.7H736.0V488.7H735.0V488.7H734.0V485.2H733.0V484.7H732.0V487.5H731.0V487.5H730.0V487.9H729.0V487.9H728.0V487.9H727.0V487.9H726.0V487.6H725.0V487.6H724.0V487.0H723.0V487.0H722.0V487.0H721.0V487.0H720.0V486.4H719.0V486.4H718.0V486.4H717.0V486.4H716.0V485.8H715.0V485.8H714.0V485.8H713.0V484.5H712.0V484.5H711.0V483.6H710.0V483.5H709.0V485.1H708.0V485.1H707.0V485.1H706.0V485.1H705.0V485.1H704.0V484.4H703.0V484.4H702.0V484.1H701.0V484.1H700.0V484.1H699.0V484.1H698.0V479.6H697.0V480.0H696.0V480.0H695.0V480.3H694.0V485.3H693.0V485.3H692.0V485.3H691.0V485.3H690.0V481.6H689.0V481.6H688.0V481.4H687.0V484.7H686.0V484.7H685.0V484.7H684.0V484.7H683.0V483.6H682.0V483.6H681.0V479.6H680.0V479.6H679.0V478.7H678.0V478.7H677.0V476.4H676.0V476.4H675.0V476.4H674.0V476.0H673.0V476.0H672.0V476.0H671.0V476.1H670.0V476.1H669.0V479.2H668.0V479.2H667.0V479.2H666.0V479.2H665.0V476.5H664.0V476.5H663.0V476.4H662.0V474.3H661.0V474.3H660.0V474.3H659.0V474.3H658.0V473.6H657.0V473.6H656.0V474.6H655.0V476.0H654.0V476.0H653.0V477.6H652.0V477.6H651.0V477.6H650.0V477.6H649.0V477.6H648.0V475.7H647.0V475.7H646.0V475.7H645.0V475.7H644.0V474.9H643.0V474.9H642.0V474.9H641.0V473.6H640.0V473.3H639.0V473.4H638.0V473.4H637.0V473.4H636.0V473.4H635.0V473.1H634.0V473.1H633.0V473.1H632.0V473.1H631.0V470.3H630.0V473.4H629.0V473.4H628.0V473.4H627.0V473.4H626.0V473.4H625.0V471.8H624.0V473.7H623.0V473.7H622.0V473.7H621.0V473.7H620.0V473.7H619.0V471.7H618.0V471.7H617.0V469.3H616.0V469.3H615.0V469.3H614.0V469.3H613.0V465.8H612.0V465.5H611.0V466.3H610.0V466.3H609.0V468.6H608.0V468.6H607.0V468.6H606.0V468.6H605.0V466.6H604.0V466.4H603.0V465.8H602.0V465.8H601.0V465.1H600.0V465.6H599.0V466.5H598.0V466.5H597.0V466.5H596.0V466.5H595.0V466.5H594.0V471.6H593.0V473.1H592.0V473.1H591.0V473.1H590.0V473.1H589.0V473.1H588.0V469.3H587.0V469.3H586.0V469.3H585.0V469.3H584.0V465.9H583.0V465.9H582.0V465.9H581.0V465.6H580.0V465.6H579.0V464.1H578.0V464.1H577.0V466.3H576.0V466.3H575.0V466.3H574.0V466.3H573.0V466.3H572.0V465.1H571.0V465.1H570.0V465.1H569.0V462.6H568.0V461.6H567.0V461.6H566.0V461.2H565.0V461.8H564.0V466.4H563.0V466.4H562.0V466.4H561.0V466.4H560.0V464.8H559.0V462.6H558.0V462.6H557.0V461.2H556.0V461.2H555.0V461.2H554.0V461.2H553.0V461.2H552.0V458.2H551.0V458.2H550.0V458.2H549.0V454.7H548.0V454.7H547.0V455.8H546.0V455.8H545.0V455.8H544.0V455.8H543.0V455.8H542.0V453.6H541.0V453.6H540.0V452.8H539.0V449.2H538.0V449.3H537.0V456.5H536.0V456.5H535.0V456.5H534.0V456.5H533.0V455.1H532.0V453.9H531.0V453.9H530.0V451.4H529.0V451.4H528.0V443.1H527.0V442.6H526.0V442.0H525.0V442.0H524.0V442.0H523.0V441.2H522.0V439.6H521.0V438.2H520.0V438.4H519.0V438.4H518.0V438.4H517.0V438.4H516.0V438.1H515.0V438.1H514.0V438.1H513.0V437.4H512.0V437.4H511.0V434.0H510.0V432.6H509.0V432.6H508.0V434.1H507.0V434.1H506.0V434.1H505.0V434.1H504.0V434.1H503.0V432.7H502.0V432.7H501.0V432.7H500.0V432.7H499.0V426.2H498.0V423.1H497.0V422.4H496.0V422.4H495.0V422.3H494.0V422.3H493.0V423.5H492.0V423.8H491.0V423.8H490.0V423.8H489.0V423.8H488.0V414.1H487.0V413.3H486.0V411.9H485.0V411.9H484.0V411.9H483.0V411.0H482.0V411.0H481.0V411.0H480.0V411.0H479.0V411.2H478.0V411.2H477.0V411.2H476.0V411.2H475.0V406.0H474.0V405.3H473.0V405.6H472.0V405.6H471.0V405.6H470.0V405.6H469.0V407.9H468.0V407.9H467.0V407.9H466.0V407.9H465.0V406.3H464.0V406.3H463.0V406.3H462.0V401.9H461.0V401.0H460.0V401.0H459.0V397.1H458.0V398.8H457.0V398.8H456.0V401.3H455.0V401.3H454.0V401.3H453.0V401.3H452.0V401.3H451.0V400.9H450.0V400.9H449.0V402.1H448.0V402.1H447.0V402.1H446.0V402.1H445.0V400.3H444.0V400.3H443.0V400.3H442.0V400.3H441.0V398.9H440.0V398.6H439.0V398.6H438.0V398.6H437.0V399.1H436.0V401.0H435.0V401.0H434.0V407.9H433.0V407.9H432.0V407.9H431.0V407.9H430.0V403.4H429.0V403.4H428.0V404.8H427.0V404.8H426.0V404.8H425.0V404.8H424.0V404.8H423.0V405.1H422.0V405.1H421.0V411.3H420.0V411.3H419.0V411.3H418.0V411.3H417.0V411.3H416.0V408.8H415.0V408.8H414.0V408.8H413.0V409.1H412.0V409.1H411.0V409.1H410.0V416.0H409.0V416.0H408.0V416.0H407.0V416.0H406.0V416.0H405.0V409.2H404.0V409.5H403.0V414.4H402.0V417.9H401.0V417.9H400.0V417.9H399.0V417.9H398.0V417.0H397.0V417.0H396.0V422.6H395.0V422.6H394.0V427.3H393.0V427.3H392.0V428.6H391.0V428.6H390.0V428.6H389.0V428.6H388.0V424.7H387.0V424.7H386.0V420.2H385.0V420.3H384.0V420.3H383.0V422.9H382.0V424.9H381.0V424.9H380.0V425.2H379.0V425.2H378.0V425.2H377.0V425.2H376.0V420.2H375.0V420.2H374.0V421.3H373.0V421.3H372.0V421.3H371.0V421.3H370.0V416.6H369.0V415.5H368.0V415.5H367.0V415.5H366.0V412.6H365.0V414.3H364.0V414.3H363.0V422.2H362.0V422.2H361.0V422.2H360.0V422.2H359.0V422.2H358.0V421.5H357.0V421.5H356.0V421.5H355.0V421.5H354.0V414.8H353.0V414.8H352.0V414.8H351.0V409.9H350.0V415.1H349.0V415.1H348.0V415.1H347.0V415.1H346.0V408.4H345.0V413.9H344.0V413.9H343.0V413.9H342.0V413.9H341.0V413.9H340.0V408.5H339.0V403.5H338.0V399.8H337.0V399.8H336.0V402.9H335.0V402.9H334.0V402.9H333.0V402.9H332.0V402.9H331.0V400.3H330.0V400.3H329.0V400.3H328.0V397.0H327.0V397.0H326.0V397.0H325.0V397.0H324.0V397.0H323.0V389.5H322.0V389.5H321.0V389.5H320.0V389.5H319.0V380.8H318.0V377.6H317.0V370.7H316.0V369.7H315.0V369.7H314.0V369.3H313.0V369.3H312.0V369.3H311.0V365.4H310.0V362.4H309.0V362.4H308.0V360.3H307.0V360.3H306.0V360.3H305.0V360.0H304.0V358.6H303.0V358.6H302.0V358.7H301.0V358.7H300.0V358.7H299.0V358.7H298.0V350.3H297.0V351.9H296.0V351.9H295.0V351.9H294.0V351.9H293.0V349.9H292.0V347.2H291.0V347.2H290.0V347.1H289.0V346.0H288.0V345.3H287.0V343.2H286.0V343.2H285.0V344.3H284.0V344.3H283.0V344.3H282.0V344.3H281.0V344.3H280.0V342.7H279.0V342.7H278.0V344.1H277.0V344.1H276.0V344.1H275.0V344.1H274.0V344.1H273.0V332.9H272.0V332.6H271.0V332.6H270.0V323.5H269.0V326.3H268.0V326.3H267.0V328.5H266.0V328.5H265.0V329.1H264.0V329.1H263.0V329.1H262.0V329.1H261.0V329.1H260.0V324.7H259.0V324.7H258.0V324.7H257.0V322.8H256.0V320.3H255.0V315.8H254.0V315.8H253.0V315.8H252.0V315.8H251.0V314.8H250.0V318.3H249.0V318.3H248.0V318.3H247.0V318.3H246.0V307.1H245.0V307.6H244.0V307.6H243.0V307.6H242.0V307.6H241.0V307.6H240.0V302.3H239.0V303.2H238.0V303.2H237.0V303.2H236.0V303.2H235.0V297.7H234.0V297.7H233.0V297.7H232.0V298.9H231.0V298.9H230.0V303.0H229.0V303.0H228.0V303.0H227.0V303.0H226.0V303.0H225.0V301.5H224.0V301.5H223.0V298.3H222.0V298.3H221.0V298.3H220.0V297.6H219.0V296.8H218.0V296.4H217.0V294.9H216.0V294.9H215.0V294.9H214.0V294.9H213.0V292.1H212.0V292.1H211.0V292.1H210.0V288.0H209.0V288.0H208.0V288.0H207.0V288.0H206.0V288.0H205.0V288.0H204.0V288.0H203.0V282.4H202.0V287.1H201.0V287.1H200.0V287.1H199.0V287.1H198.0V284.2H197.0V277.8H196.0V277.8H195.0V277.4H194.0V284.9H193.0V284.9H192.0V284.9H191.0V284.9H190.0V288.1H189.0V288.1H188.0V288.1H187.0V288.1H186.0V288.1H185.0V273.9H184.0V273.9H183.0V275.8H182.0V277.7H181.0V281.8H180.0V281.8H179.0V281.8H178.0V283.6H177.0V283.6H176.0V283.6H175.0V283.6H174.0V283.6H173.0V281.5H172.0V293.4H171.0V293.4H170.0V293.4H169.0V293.4H168.0V293.0H167.0V283.8H166.0V284.0H165.0V284.0H164.0V290.8H163.0V290.8H162.0V293.6H161.0V293.6H160.0V300.6H159.0V300.6H158.0V300.6H157.0V300.6H156.0V292.5H155.0V291.0H154.0V292.2H153.0V292.2H152.0V293.6H151.0V293.6H150.0V293.6H149.0V293.6H148.0V290.3H147.0V290.4H146.0V291.6H145.0V291.6H144.0V293.1H143.0V293.1H142.0V293.1H141.0V293.1H140.0V284.5H139.0V281.6H138.0V279.5H137.0V279.5H136.0V272.9H135.0V271.8H134.0V271.8H133.0V266.7H132.0V262.0H131.0V262.0H130.0V258.9H129.0V258.9H128.0V253.6H127.0Z"/>
<path fill="#000000" d="M127.0 229.8V229.8H128.0V222.5H129.0V222.5H130.0V222.5H131.0V222.5H132.0V231.6H133.0V230.7H134.0V230.7H135.0V226.7H136.0V226.7H137.0V226.7H138.0V226.7H139.0V233.9H140.0V233.9H141.0V232.8H142.0V232.8H143.0V230.1H144.0V230.1H145.0V230.1H146.0V230.1H147.0V230.1H148.0V230.3H149.0V230.3H150.0V230.3H151.0V230.3H152.0V234.6H153.0V235.1H154.0V235.1H155.0V235.1H156.0V233.5H157.0V233.5H158.0V233.5H159.0V233.5H160.0V234.1H161.0V231.2H162.0V231.2H163.0V231.2H164.0V226.6H165.0V221.1H166.0V221.1H167.0V221.1H168.0V221.1H169.0V225.6H170.0V225.6H171.0V225.6H172.0V226.2H173.0V226.9H174.0V223.2H175.0V223.2H176.0V214.6H177.0V214.6H178.0V214.6H179.0V214.6H180.0V214.6H181.0V219.4H182.0V219.4H183.0V219.4H184.0V219.4H185.0V226.7H186.0V226.0H187.0V224.3H188.0V210.8H189.0V210.8H190.0V210.8H191.0V210.8H192.0V218.3H193.0V218.3H194.0V218.3H195.0V218.3H196.0V223.3H197.0V226.5H198.0V226.5H199.0V222.7H200.0V209.8H201.0V209.8H202.0V209.8H203.0V209.8H204.0V209.8H205.0V210.0H206.0V210.0H207.0V210.4H208.0V208.1H209.0V200.4H210.0V200.4H211.0V198.9H212.0V189.7H213.0V185.4H214.0V177.7H215.0V168.2H216.0V167.9H217.0V144.5H218.0V136.3H219.0V136.3H220.0V136.3H221.0V136.3H222.0V136.3H223.0V148.1H224.0V157.8H225.0V184.6H226.0V199.4H227.0V213.9H228.0V213.9H229.0V213.9H230.0V221.2H231.0V226.2H232.0V226.3H233.0V226.3H234.0V226.3H235.0V231.6H236.0V231.6H237.0V231.6H238.0V234.1H239.0V229.2H240.0V229.2H241.0V229.2H242.0V229.2H243.0V229.2H244.0V239.9H245.0V239.9H246.0V239.5H247.0V239.5H248.0V239.5H249.0V230.8H250.0V230.8H251.0V230.8H252.0V230.8H253.0V234.3H254.0V234.3H255.0V234.3H256.0V234.3H257.0V234.3H258.0V238.3H259.0V238.3H260.0V238.3H261.0V238.3H262.0V240.2H263.0V240.2H264.0V249.0H265.0V248.2H266.0V248.2H267.0V248.2H268.0V248.2H269.0V252.6H270.0V252.6H271.0V252.6H272.0V252.6H273.0V254.0H274.0V254.0H275.0V254.0H276.0V254.0H277.0V260.6H278.0V260.6H279.0V261.5H280.0V263.1H281.0V263.1H282.0V266.9H283.0V266.9H284.0V269.6H285.0V262.7H286.0V262.7H287.0V262.7H288.0V262.7H289.0V266.8H290.0V267.7H291.0V267.7H292.0V267.7H293.0V273.6H294.0V281.4H295.0V281.4H296.0V282.3H297.0V282.3H298.0V282.3H299.0V282.3H300.0V286.6H301.0V286.6H302.0V290.0H303.0V290.1H304.0V290.1H305.0V290.1H306.0V290.1H307.0V294.9H308.0V294.9H309.0V295.5H310.0V298.7H311.0V298.7H312.0V296.3H313.0V296.3H314.0V296.3H315.0V296.3H316.0V298.1H317.0V298.1H318.0V298.1H319.0V298.1H320.0V298.1H321.0V298.1H322.0V298.1H323.0V304.7H324.0V304.7H325.0V304.2H326.0V304.2H327.0V304.2H328.0V304.2H329.0V308.6H330.0V309.3H331.0V307.8H332.0V307.8H333.0V307.8H334.0V307.8H335.0V314.0H336.0V314.0H337.0V314.0H338.0V314.0H339.0V318.0H340.0V319.8H341.0V319.8H342.0V319.8H343.0V321.0H344.0V313.6H345.0V313.6H346.0V313.6H347.0V313.6H348.0V313.6H349.0V323.6H350.0V323.6H351.0V323.6H352.0V326.2H353.0V326.2H354.0V326.2H355.0V330.1H356.0V323.6H357.0V323.6H358.0V323.6H359.0V323.6H360.0V323.6H361.0V333.8H362.0V327.8H363.0V327.8H364.0V327.8H365.0V327.8H366.0V327.8H367.0V330.4H368.0V330.4H369.0V332.6H370.0V332.6H371.0V339.4H372.0V339.4H373.0V339.4H374.0V341.4H375.0V342.2H376.0V340.7H377.0V339.5H378.0V339.5H379.0V339.5H380.0V339.1H381.0V339.1H382.0V339.1H383.0V339.1H384.0V339.1H385.0V339.8H386.0V343.5H387.0V342.3H388.0V342.3H389.0V342.3H390.0V342.3H391.0V342.3H392.0V342.7H393.0V338.5H394.0V338.5H395.0V335.8H396.0V335.8H397.0V335.8H398.0V335.8H399.0V340.3H400.0V340.0H401.0V340.0H402.0V340.0H403.0V340.0H404.0V341.3H405.0V336.2H406.0V335.7H407.0V333.3H408.0V329.4H409.0V329.4H410.0V329.4H411.0V329.1H412.0V329.1H413.0V329.1H414.0V329.1H415.0V329.2H416.0V330.0H417.0V329.0H418.0V329.0H419.0V329.0H420.0V324.8H421.0V324.8H422.0V324.8H423.0V324.8H424.0V327.9H425.0V326.1H426.0V326.1H427.0V326.1H428.0V326.1H429.0V326.1H430.0V330.0H431.0V330.0H432.0V322.5H433.0V321.9H434.0V321.9H435.0V321.9H436.0V321.9H437.0V323.7H438.0V323.7H439.0V323.7H440.0V319.5H441.0V319.5H442.0V319.5H443.0V319.5H444.0V320.0H445.0V320.0H446.0V315.3H447.0V315.3H448.0V315.3H449.0V315.3H450.0V312.6H451.0V312.6H452.0V312.6H453.0V312.6H454.0V311.7H455.0V311.7H456.0V311.7H457.0V311.7H458.0V311.7H459.0V317.5H460.0V316.0H461.0V311.8H462.0V311.8H463.0V311.8H464.0V311.8H465.0V311.8H466.0V315.3H467.0V317.2H468.0V317.2H469.0V317.2H470.0V318.1H471.0V318.1H472.0V313.4H473.0V313.4H474.0V313.4H475.0V313.4H476.0V311.7H477.0V307.8H478.0V302.8H479.0V295.3H480.0V285.5H481.0V281.0H482.0V281.0H483.0V281.0H484.0V281.0H485.0V289.2H486.0V299.1H487.0V306.0H488.0V326.6H489.0V327.4H490.0V332.7H491.0V333.8H492.0V333.8H493.0V333.8H494.0V333.8H495.0V334.7H496.0V335.9H497.0V335.9H498.0V335.9H499.0V345.0H500.0V345.0H501.0V345.0H502.0V343.6H503.0V343.6H504.0V343.6H505.0V343.6H506.0V348.9H507.0V348.9H508.0V348.9H509.0V348.3H510.0V348.3H511.0V348.3H512.0V348.3H513.0V348.3H514.0V353.7H515.0V355.1H516.0V359.9H517.0V359.9H518.0V359.9H519.0V359.9H520.0V360.2H521.0V360.2H522.0V360.2H523.0V361.8H524.0V357.8H525.0V357.8H526.0V357.8H527.0V357.8H528.0V360.1H529.0V360.1H530.0V363.9H531.0V363.9H532.0V363.9H533.0V366.9H534.0V366.9H535.0V367.7H536.0V366.6H537.0V366.6H538.0V366.6H539.0V366.6H540.0V366.6H541.0V365.8H542.0V365.8H543.0V365.8H544.0V365.8H545.0V365.8H546.0V369.7H547.0V368.2H548.0V366.5H549.0V366.5H550.0V366.5H551.0V366.5H552.0V370.9H553.0V369.4H554.0V369.4H555.0V369.4H556.0V369.4H557.0V370.8H558.0V373.9H559.0V372.7H560.0V372.5H561.0V372.5H562.0V372.5H563.0V372.5H564.0V374.2H565.0V374.2H566.0V373.1H567.0V373.1H568.0V371.2H569.0V371.2H570.0V370.8H571.0V370.8H572.0V370.8H573.0V370.8H574.0V372.3H575.0V371.0H576.0V371.0H577.0V371.0H578.0V371.0H579.0V374.7H580.0V378.5H581.0V373.7H582.0V373.7H583.0V373.7H584.0V373.7H585.0V373.7H586.0V377.5H587.0V377.5H588.0V377.5H589.0V377.8H590.0V378.6H591.0V378.6H592.0V378.7H593.0V378.7H594.0V378.7H595.0V378.7H596.0V379.6H597.0V379.6H598.0V379.6H599.0V378.9H600.0V378.6H601.0V378.6H602.0V376.9H603.0V376.9H604.0V376.9H605.0V376.9H606.0V380.2H607.0V381.1H608.0V381.1H609.0V381.1H610.0V381.1H611.0V382.3H612.0V384.7H613.0V384.7H614.0V384.7H615.0V387.1H616.0V387.1H617.0V387.9H618.0V383.7H619.0V383.7H620.0V383.7H621.0V383.7H622.0V383.3H623.0V383.3H624.0V380.8H625.0V380.8H626.0V380.8H627.0V380.8H628.0V382.1H629.0V382.1H630.0V384.2H631.0V384.2H632.0V384.2H633.0V383.9H634.0V383.9H635.0V383.9H636.0V383.9H637.0V388.0H638.0V388.6H639.0V389.4H640.0V389.4H641.0V389.4H642.0V389.7H643.0V389.5H644.0V389.5H645.0V387.1H646.0V387.1H647.0V387.1H648.0V387.1H649.0V387.4H650.0V387.4H651.0V384.5H652.0V384.5H653.0V384.5H654.0V384.5H655.0V388.5H656.0V390.9H657.0V391.0H658.0V391.1H659.0V392.3H660.0V392.8H661.0V391.1H662.0V388.4H663.0V388.4H664.0V388.4H665.0V388.4H666.0V389.6H667.0V389.6H668.0V394.0H669.0V394.0H670.0V395.1H671.0V395.1H672.0V395.1H673.0V396.4H674.0V396.5H675.0V395.5H676.0V395.5H677.0V395.5H678.0V395.5H679.0V398.2H680.0V398.2H681.0V394.7H682.0V393.5H683.0V393.5H684.0V393.5H685.0V393.5H686.0V393.5H687.0V397.2H688.0V397.2H689.0V397.2H690.0V397.2H691.0V397.9H692.0V393.5H693.0V393.5H694.0V393.5H695.0V393.5H696.0V397.5H697.0V397.5H698.0V398.4H699.0V397.1H700.0V394.5H701.0V394.5H702.0V394.5H703.0V394.5H704.0V396.8H705.0V397.9H706.0V397.9H707.0V398.7H708.0V398.9H709.0V398.9H710.0V399.1H711.0V399.1H712.0V397.7H713.0V397.7H714.0V394.2H715.0V394.2H716.0V394.2H717.0V394.2H718.0V395.8H719.0V398.0H720.0V395.9H721.0V395.9H722.0V395.9H723.0V395.9H724.0V395.9H725.0V397.2H726.0V397.2H727.0V398.8H728.0V396.5H729.0V396.5H730.0V396.5H731.0V395.7H732.0V395.7H733.0V395.7H734.0V395.7H735.0V398.1H736.0V398.1H737.0V399.7H738.0V398.5H739.0V398.5H740.0V398.5H741.0V398.5H742.0V399.0H743.0V399.4H744.0V399.6H745.0V398.8H746.0V398.8H747.0V398.8H748.0V398.8H749.0V398.8H750.0V399.7H751.0V399.7H752.0V399.7H753.0V399.7H754.0V400.7H755.0V400.7H756.0V400.0H757.0V400.0H758.0V400.0H759.0V400.0H760.0V400.0H761.0V402.4H762.0V402.4H763.0V403.3H764.0V403.3H765.0V403.3H766.0V403.3H767.0V403.3H768.0V402.3H769.0V402.3H770.0V402.3H771.0V402.3H772.0V402.3H773.0V403.2H774.0V403.2H775.0V401.5H776.0V401.5H777.0V401.5H778.0V401.5H779.0V398.7H780.0V398.7H781.0V398.7H782.0V398.7H783.0V398.7H784.0V400.3H785.0V400.3H786.0V400.3H787.0V403.4H788.0V403.3H789.0V403.3H790.0V403.3H791.0V403.3H792.0V404.2H793.0V404.2H794.0V404.2H795.0V404.3H796.0V402.9H797.0V402.9H798.0V402.1H799.0V402.1H800.0V402.1H801.0V402.1H802.0V402.5H803.0V402.8H804.0V402.8H805.0V402.8H806.0V401.6H807.0V399.3H808.0V399.3H809.0V399.3H810.0V399.3H811.0V400.1H812.0V400.1H813.0V400.1H814.0V401.5H815.0V401.5H816.0V401.6H817.0V401.6H818.0V401.6H819.0V401.6H820.0V401.7H821.0V402.3H822.0V402.3H823.0V402.0H824.0V402.0H825.0V402.0H826.0V402.0H827.0V402.0H828.0V402.8H829.0V402.8H830.0V402.8H831.0V404.7H832.0V404.7H833.0V404.7H834.0V404.7H835.0V404.7H836.0V405.5H837.0V403.8H838.0V403.8H839.0V403.8H840.0V403.8H841.0V403.8H842.0V404.2H843.0V404.2H844.0V404.2H845.0V405.2H846.0V405.2H847.0V405.2H848.0V405.2H849.0V406.1H850.0V407.9H851.0V405.1H852.0V405.1H853.0V405.1H854.0V405.1H855.0V406.9H856.0V404.5H857.0V404.5H858.0V404.5H859.0V404.5H860.0V403.1H861.0V403.1H862.0V403.1H863.0V403.1H864.0V403.1H865.0V404.7H866.0V403.5H867.0V403.5H868.0V402.2H869.0V402.2H870.0V402.2H871.0V402.2H872.0V403.9H873.0V406.1H874.0V405.3H875.0V405.3H876.0V404.4H877.0V404.4H878.0V404.4H879.0V404.4H880.0V404.2H881.0V404.2H882.0V404.2H883.0V404.2H884.0V406.3H885.0V407.9H886.0V407.9H887.0V406.9H888.0V404.9H889.0V404.9H890.0V404.9H891.0V404.9H892.0V408.1H893.0V406.7H894.0V406.7H895.0V406.7H896.0V406.7H897.0V408.0H898.0V407.6H899.0V405.6H900.0V405.6H901.0V405.6H902.0V405.6H903.0V406.6H904.0V405.9H905.0V405.9H906.0V405.9H907.0V405.9H908.0V406.2H909.0V406.2H910.0V406.3H911.0V405.8H912.0V405.8H913.0V405.8H914.0V404.3H915.0V404.3H916.0V404.3H917.0V402.8H918.0V402.8H919.0V402.8H920.0V402.8H921.0V406.7H922.0V406.7H923.0V408.3H924.0V408.3H925.0V407.3H926.0V405.9H927.0V405.9H928.0V405.9H929.0V404.1H930.0V404.1H931.0V404.1H932.0V404.1H933.0V405.1H934.0V406.5H935.0V406.5H936.0V406.5H937.0V404.6H938.0V403.5H939.0V403.5H940.0V403.5H941.0V403.5H942.0V403.5H943.0V404.6H944.0V404.6H945.0V405.3H946.0V403.1H947.0V403.1H948.0V403.1H949.0V403.1H950.0V406.2H951.0V406.2H952.0V403.1H953.0V403.1H954.0V403.1H955.0V403.1H956.0V407.1H957.0V407.4H958.0V408.3H959.0V408.1H960.0V408.1H961.0V408.1H962.0V405.7H963.0V404.3H964.0V404.3H965.0V403.5H966.0V403.5H967.0V403.5H968.0V403.5H969.0V403.5H970.0V404.7H971.0V404.9H972.0V404.9H973.0V404.9H974.0V407.5H975.0V406.6H976.0V406.6H977.0V406.5H978.0V403.6H979.0V403.6H980.0V403.6H981.0V402.8H982.0V402.8H983.0V402.8H984.0V402.8H985.0V405.9H986.0V405.9H987.0V403.5H988.0V403.5H989.0V403.5H990.0V403.5H991.0V403.5H992.0V403.8H993.0V403.8H994.0V403.8H995.0V403.8H996.0V403.7H997.0V403.7H998.0V403.7H999.0V403.7H1000.0V403.7H1001.0V405.5H1002.0V405.5H1003.0V404.6H1004.0V403.5H1005.0V403.5H1006.0V402.1H1007.0V402.1H1008.0V402.1H1009.0V402.1H1010.0V404.5H1011.0V404.1H1012.0V404.1H1013.0V404.1H1014.0V404.1H1015.0V404.1H1016.0V404.1H1017.0V402.5H1018.0V402.5H1019.0V402.5H1020.0V402.5H1021.0V402.8H1022.0V402.8H1023.0V402.8H1024.0V402.8H1025.0V403.4H1026.0V403.4H1027.0V403.4H1028.0V404.9H1029.0V406.0H1030.0V405.8H1031.0V405.8H1032.0V405.8H1033.0V405.8H1034.0V404.8H1035.0V404.8H1036.0V404.8H1037.0V404.8H1038.0V404.0H1039.0V404.0H1040.0V404.0H1041.0V403.5H1042.0V403.5H1043.0V403.5H1044.0V403.5H1045.0V401.9H1046.0V401.9H1047.0V401.9H1048.0V401.9H1049.0V404.3H1050.0V405.7H1051.0V405.7H1052.0V406.0H1053.0V406.0H1054.0V402.3H1055.0V402.3H1056.0V402.3H1057.0V402.3H1058.0V402.3H1059.0V406.2H1060.0V406.8H1061.0V406.2H1062.0V406.2H1063.0V406.2H1064.0V406.2H1065.0V406.2H1066.0V404.9H1067.0V404.9H1068.0V404.9H1069.0V404.9H1070.0V405.8H1071.0V405.7H1072.0V405.1H1073.0V405.1H1074.0V404.9H1075.0V404.9H1076.0V403.3H1077.0V403.3H1078.0V403.3H1079.0V403.3H1080.0V405.9H1081.0V405.9H1082.0V405.9H1083.0V405.9H1084.0V406.0H1085.0V406.0H1086.0V406.0H1087.0V406.8H1088.0V404.3H1089.0V404.3H1090.0V404.3H1091.0V403.9H1092.0V403.9H1093.0V403.9H1094.0V403.9H1095.0V405.9H1096.0V405.9H1097.0V405.9H1098.0V405.9H1099.0V407.8H1100.0V408.1H1101.0V408.1H1102.0V406.6H1103.0V406.6H1104.0V406.6H1105.0V406.6H1106.0V407.1H1107.0V406.6H1108.0V405.6H1109.0V402.8H1110.0V402.8H1111.0V402.8H1112.0V402.8H1113.0V405.7H1114.0V405.7H1115.0V406.9H1116.0V406.9H1117.0V407.3H1118.0V407.3H1119.0V405.4H1120.0V405.4H1121.0V405.4H1122.0V405.4H1123.0V405.7H1124.0V404.9H1125.0V404.9H1126.0V404.9H1127.0V404.9H1128.0V406.4H1129.0V408.8H1130.0V408.8H1131.0V406.8H1132.0V406.8H1133.0V406.8H1134.0V406.8H1135.0V406.8H1136.0V410.2H1137.0V410.2H1138.0V411.5H1139.0V412.2H1140.0V412.2H1140.0V426.0H1140.0V426.0H1139.0V426.0H1138.0V426.0H1137.0V419.8H1136.0V418.9H1135.0V418.5H1134.0V418.5H1133.0V419.4H1132.0V419.4H1131.0V419.4H1130.0V419.4H1129.0V419.4H1128.0V416.6H1127.0V416.6H1126.0V417.1H1125.0V417.1H1124.0V417.1H1123.0V417.1H1122.0V417.0H1121.0V417.0H1120.0V416.7H1119.0V416.7H1118.0V416.7H1117.0V416.7H1116.0V416.8H1115.0V416.8H1114.0V416.8H1113.0V416.8H1112.0V415.1H1111.0V416.1H1110.0V417.3H1109.0V417.3H1108.0V417.3H1107.0V417.3H1106.0V417.6H1105.0V417.6H1104.0V418.7H1103.0V418.7H1102.0V418.7H1101.0V418.7H1100.0V417.8H1099.0V416.9H1098.0V417.3H1097.0V417.3H1096.0V417.3H1095.0V417.3H1094.0V415.7H1093.0V415.7H1092.0V417.2H1091.0V417.2H1090.0V417.2H1089.0V417.2H1088.0V416.0H1087.0V416.0H1086.0V415.3H1085.0V415.5H1084.0V417.7H1083.0V417.7H1082.0V417.7H1081.0V417.7H1080.0V417.7H1079.0V415.8H1078.0V415.3H1077.0V415.3H1076.0V413.0H1075.0V414.3H1074.0V414.3H1073.0V414.3H1072.0V414.3H1071.0V414.3H1070.0V417.9H1069.0V417.9H1068.0V417.9H1067.0V417.9H1066.0V418.0H1065.0V418.0H1064.0V418.0H1063.0V418.0H1062.0V417.0H1061.0V417.0H1060.0V417.0H1059.0V415.6H1058.0V417.3H1057.0V417.3H1056.0V417.3H1055.0V417.3H1054.0V417.3H1053.0V417.1H1052.0V417.1H1051.0V417.1H1050.0V417.1H1049.0V415.2H1048.0V414.6H1047.0V414.6H1046.0V414.6H1045.0V414.1H1044.0V413.8H1043.0V413.6H1042.0V413.6H1041.0V412.4H1040.0V412.9H1039.0V413.7H1038.0V416.5H1037.0V416.5H1036.0V417.5H1035.0V417.5H1034.0V417.5H1033.0V417.5H1032.0V417.3H1031.0V417.3H1030.0V418.6H1029.0V418.6H1028.0V418.6H1027.0V418.6H1026.0V414.0H1025.0V414.0H1024.0V414.4H1023.0V414.4H1022.0V414.4H1021.0V414.4H1020.0V415.4H1019.0V415.4H1018.0V415.4H1017.0V415.7H1016.0V415.7H1015.0V415.7H1014.0V415.7H1013.0V415.7H1012.0V413.4H1011.0V413.8H1010.0V413.8H1009.0V415.6H1008.0V415.6H1007.0V415.6H1006.0V415.6H1005.0V415.0H1004.0V415.0H1003.0V415.0H1002.0V415.0H1001.0V413.8H1000.0V415.4H999.0V415.4H998.0V415.4H997.0V415.6H996.0V415.6H995.0V415.6H994.0V415.6H993.0V415.6H992.0V414.9H991.0V414.5H990.0V414.5H989.0V417.4H988.0V417.4H987.0V417.4H986.0V417.4H985.0V417.4H984.0V414.6H983.0V414.6H982.0V414.6H981.0V416.9H980.0V416.9H979.0V416.9H978.0V417.3H977.0V418.6H976.0V418.6H975.0V418.6H974.0V418.6H973.0V417.8H972.0V417.8H971.0V417.8H970.0V417.8H969.0V417.8H968.0V416.3H967.0V416.3H966.0V416.3H965.0V416.3H964.0V416.3H963.0V416.7H962.0V418.6H961.0V418.6H960.0V418.6H959.0V418.6H958.0V417.3H957.0V417.3H956.0V417.1H955.0V417.1H954.0V417.1H953.0V417.1H952.0V415.9H951.0V416.4H950.0V416.4H949.0V416.4H948.0V416.4H947.0V413.8H946.0V413.8H945.0V413.8H944.0V413.8H943.0V416.2H942.0V416.2H941.0V416.2H940.0V416.2H939.0V416.6H938.0V416.6H937.0V417.0H936.0V417.0H935.0V417.0H934.0V417.0H933.0V415.6H932.0V415.4H931.0V415.4H930.0V415.4H929.0V415.4H928.0V417.2H927.0V420.3H926.0V420.3H925.0V420.3H924.0V420.3H923.0V420.2H922.0V420.2H921.0V418.2H920.0V416.3H919.0V414.2H918.0V414.2H917.0V414.2H916.0V416.5H915.0V416.5H914.0V416.5H913.0V416.5H912.0V415.0H911.0V415.0H910.0V415.0H909.0V414.7H908.0V415.1H907.0V415.1H906.0V415.1H905.0V415.1H904.0V415.1H903.0V418.7H902.0V418.7H901.0V418.7H900.0V418.7H899.0V420.4H898.0V420.4H897.0V420.4H896.0V420.4H895.0V416.4H894.0V416.4H893.0V416.4H892.0V416.4H891.0V416.9H890.0V416.9H889.0V417.0H888.0V417.0H887.0V417.0H886.0V417.0H885.0V415.9H884.0V415.9H883.0V415.9H882.0V415.9H881.0V418.2H880.0V418.2H879.0V418.2H878.0V418.2H877.0V418.2H876.0V418.2H875.0V418.2H874.0V418.2H873.0V418.2H872.0V416.8H871.0V416.3H870.0V416.3H869.0V417.4H868.0V417.4H867.0V417.4H866.0V417.4H865.0V417.4H864.0V416.8H863.0V416.8H862.0V416.8H861.0V416.8H860.0V414.1H859.0V416.8H858.0V419.2H857.0V419.2H856.0V419.2H855.0V419.2H854.0V415.9H853.0V415.9H852.0V416.4H851.0V417.2H850.0V417.2H849.0V419.8H848.0V419.8H847.0V419.8H846.0V419.8H845.0V419.8H844.0V415.1H843.0V415.1H842.0V415.1H841.0V415.1H840.0V415.1H839.0V415.1H838.0V415.5H837.0V415.7H836.0V415.7H835.0V415.7H834.0V416.2H833.0V416.2H832.0V416.2H831.0V416.2H830.0V416.5H829.0V416.5H828.0V416.5H827.0V416.5H826.0V414.3H825.0V414.3H824.0V413.5H823.0V413.5H822.0V412.6H821.0V415.9H820.0V415.9H819.0V415.9H818.0V415.9H817.0V412.2H816.0V412.2H815.0V412.2H814.0V412.3H813.0V412.3H812.0V412.3H811.0V412.3H810.0V409.0H809.0V409.7H808.0V410.2H807.0V410.2H806.0V411.0H805.0V411.4H804.0V411.4H803.0V412.0H802.0V412.0H801.0V413.3H800.0V413.3H799.0V413.3H798.0V413.3H797.0V413.4H796.0V413.4H795.0V415.9H794.0V415.9H793.0V415.9H792.0V415.9H791.0V414.7H790.0V414.7H789.0V411.1H788.0V410.9H787.0V412.5H786.0V412.5H785.0V412.5H784.0V412.5H783.0V410.3H782.0V410.3H781.0V410.1H780.0V410.5H779.0V411.9H778.0V413.8H777.0V413.8H776.0V413.8H775.0V413.8H774.0V413.8H773.0V413.6H772.0V413.6H771.0V413.6H770.0V411.9H769.0V412.7H768.0V412.7H767.0V412.7H766.0V412.7H765.0V412.7H764.0V411.8H763.0V411.8H762.0V411.2H761.0V411.2H760.0V411.2H759.0V409.9H758.0V412.2H757.0V412.2H756.0V412.2H755.0V412.2H754.0V410.4H753.0V410.1H752.0V410.3H751.0V410.3H750.0V410.3H749.0V410.3H748.0V409.9H747.0V409.9H746.0V409.9H745.0V409.9H744.0V409.9H743.0V407.6H742.0V410.0H741.0V410.0H740.0V410.7H739.0V410.7H738.0V410.7H737.0V410.7H736.0V410.7H735.0V408.1H734.0V407.7H733.0V407.7H732.0V407.5H731.0V407.6H730.0V407.6H729.0V409.4H728.0V409.4H727.0V409.4H726.0V409.4H725.0V409.2H724.0V407.1H723.0V407.1H722.0V407.1H721.0V407.1H720.0V407.4H719.0V407.4H718.0V407.4H717.0V407.4H716.0V406.9H715.0V407.1H714.0V407.1H713.0V408.6H712.0V408.6H711.0V408.6H710.0V408.6H709.0V408.6H708.0V407.9H707.0V407.9H706.0V407.9H705.0V407.9H704.0V406.3H703.0V405.1H702.0V405.2H701.0V408.5H700.0V408.5H699.0V408.5H698.0V408.5H697.0V408.5H696.0V407.7H695.0V409.0H694.0V409.0H693.0V409.0H692.0V409.0H691.0V409.0H690.0V408.8H689.0V408.8H688.0V408.8H687.0V408.8H686.0V408.8H685.0V405.9H684.0V407.7H683.0V407.7H682.0V407.7H681.0V407.7H680.0V407.7H679.0V407.4H678.0V407.4H677.0V407.4H676.0V407.4H675.0V408.5H674.0V408.5H673.0V408.5H672.0V408.5H671.0V408.0H670.0V408.0H669.0V408.0H668.0V408.0H667.0V406.4H666.0V404.2H665.0V402.8H664.0V403.4H663.0V403.4H662.0V403.4H661.0V403.4H660.0V402.7H659.0V402.7H658.0V402.7H657.0V401.0H656.0V400.2H655.0V399.0H654.0V398.2H653.0V398.2H652.0V398.2H651.0V398.8H650.0V399.4H649.0V399.8H648.0V399.8H647.0V399.8H646.0V399.8H645.0V399.8H644.0V399.7H643.0V399.0H642.0V399.0H641.0V401.7H640.0V401.7H639.0V401.7H638.0V401.7H637.0V401.7H636.0V399.6H635.0V396.5H634.0V396.7H633.0V397.9H632.0V400.1H631.0V400.1H630.0V400.1H629.0V400.1H628.0V398.5H627.0V398.5H626.0V398.5H625.0V398.5H624.0V395.3H623.0V395.3H622.0V402.0H621.0V402.0H620.0V402.0H619.0V402.0H618.0V402.0H617.0V397.4H616.0V397.4H615.0V400.4H614.0V400.4H613.0V400.4H612.0V400.4H611.0V397.6H610.0V395.7H609.0V395.7H608.0V394.2H607.0V391.2H606.0V392.5H605.0V392.5H604.0V392.5H603.0V392.5H602.0V395.3H601.0V395.3H600.0V395.3H599.0V395.3H598.0V395.3H597.0V393.2H596.0V390.9H595.0V390.0H594.0V390.0H593.0V392.0H592.0V392.0H591.0V392.0H590.0V392.0H589.0V389.6H588.0V389.6H587.0V387.6H586.0V387.1H585.0V387.7H584.0V389.0H583.0V389.0H582.0V389.0H581.0V389.0H580.0V389.0H579.0V389.7H578.0V389.7H577.0V389.7H576.0V389.7H575.0V389.0H574.0V389.0H573.0V389.0H572.0V386.2H571.0V385.2H570.0V385.7H569.0V386.6H568.0V386.6H567.0V386.6H566.0V386.6H565.0V385.3H564.0V385.3H563.0V386.4H562.0V386.4H561.0V386.4H560.0V386.4H559.0V387.6H558.0V387.6H557.0V387.6H556.0V387.6H555.0V384.1H554.0V384.1H553.0V384.1H552.0V384.1H551.0V382.3H550.0V382.3H549.0V382.3H548.0V381.5H547.0V381.5H546.0V381.1H545.0V379.8H544.0V379.8H543.0V377.8H542.0V378.0H541.0V378.0H540.0V378.0H539.0V378.3H538.0V380.1H537.0V380.1H536.0V380.1H535.0V380.1H534.0V380.1H533.0V378.3H532.0V376.0H531.0V378.2H530.0V378.2H529.0V378.2H528.0V378.2H527.0V378.2H526.0V375.5H525.0V375.5H524.0V375.5H523.0V375.5H522.0V372.5H521.0V376.0H520.0V376.0H519.0V376.0H518.0V376.0H517.0V373.9H516.0V373.9H515.0V373.9H514.0V371.5H513.0V371.5H512.0V371.5H511.0V368.5H510.0V368.5H509.0V366.6H508.0V366.6H507.0V366.6H506.0V364.9H505.0V363.1H504.0V362.8H503.0V363.9H502.0V363.9H501.0V363.9H500.0V363.9H499.0V360.3H498.0V360.3H497.0V360.3H496.0V353.7H495.0V353.7H494.0V349.0H493.0V348.6H492.0V348.6H491.0V348.6H490.0V349.2H489.0V349.2H488.0V349.2H487.0V349.2H486.0V337.8H485.0V334.7H484.0V316.2H483.0V307.5H482.0V312.7H481.0V321.1H480.0V323.9H479.0V323.9H478.0V324.5H477.0V328.0H476.0V328.0H475.0V328.9H474.0V333.9H473.0V333.9H472.0V333.9H471.0V333.9H470.0V333.9H469.0V330.6H468.0V330.6H467.0V330.6H466.0V328.1H465.0V329.1H464.0V329.1H463.0V329.5H462.0V329.5H461.0V335.7H460.0V335.7H459.0V335.7H458.0V335.7H457.0V333.5H456.0V333.5H455.0V333.5H454.0V332.4H453.0V332.4H452.0V332.4H451.0V332.4H450.0V333.9H449.0V338.3H448.0V340.6H447.0V340.6H446.0V340.6H445.0V340.6H444.0V340.6H443.0V334.1H442.0V334.1H441.0V338.4H440.0V338.4H439.0V338.4H438.0V338.4H437.0V343.6H436.0V343.6H435.0V343.6H434.0V343.6H433.0V343.6H432.0V343.6H431.0V343.6H430.0V343.6H429.0V343.6H428.0V345.7H427.0V345.7H426.0V349.1H425.0V349.1H424.0V349.1H423.0V349.1H422.0V349.1H421.0V349.1H420.0V347.9H419.0V347.9H418.0V347.9H417.0V347.7H416.0V347.7H415.0V347.7H414.0V347.7H413.0V347.3H412.0V347.0H411.0V347.0H410.0V347.2H409.0V347.8H408.0V356.3H407.0V356.3H406.0V356.3H405.0V356.3H404.0V356.9H403.0V356.9H402.0V356.9H401.0V356.9H400.0V356.9H399.0V356.3H398.0V356.3H397.0V356.3H396.0V356.3H395.0V356.2H394.0V356.2H393.0V353.4H392.0V356.1H391.0V363.2H390.0V363.2H389.0V363.2H388.0V363.2H387.0V357.2H386.0V357.2H385.0V357.2H384.0V357.2H383.0V354.7H382.0V353.3H381.0V357.4H380.0V357.4H379.0V357.4H378.0V363.7H377.0V363.7H376.0V363.7H375.0V363.7H374.0V354.5H373.0V354.5H372.0V354.5H371.0V354.5H370.0V354.5H369.0V350.4H368.0V349.3H367.0V348.4H366.0V351.1H365.0V351.1H364.0V351.1H363.0V351.1H362.0V351.1H361.0V350.6H360.0V349.4H359.0V349.4H358.0V346.6H357.0V345.2H356.0V345.2H355.0V345.2H354.0V345.2H353.0V346.6H352.0V346.6H351.0V346.6H350.0V346.6H349.0V336.6H348.0V336.6H347.0V333.6H346.0V335.0H345.0V339.6H344.0V340.7H343.0V341.6H342.0V341.6H341.0V341.6H340.0V341.6H339.0V340.1H338.0V340.1H337.0V334.0H336.0V329.8H335.0V329.8H334.0V328.0H333.0V330.1H332.0V330.1H331.0V330.1H330.0V330.1H329.0V329.6H328.0V329.6H327.0V326.9H326.0V326.9H325.0V326.9H324.0V326.9H323.0V323.8H322.0V323.8H321.0V323.8H320.0V323.8H319.0V312.4H318.0V312.4H317.0V312.4H316.0V315.9H315.0V315.9H314.0V315.9H313.0V315.9H312.0V315.9H311.0V315.0H310.0V309.8H309.0V309.7H308.0V309.7H307.0V308.7H306.0V307.6H305.0V307.6H304.0V312.5H303.0V312.5H302.0V312.5H301.0V312.5H300.0V304.1H299.0V304.1H298.0V305.0H297.0V305.0H296.0V305.0H295.0V305.0H294.0V305.0H293.0V299.9H292.0V299.9H291.0V299.9H290.0V299.9H289.0V291.1H288.0V291.1H287.0V286.5H286.0V286.5H285.0V294.3H284.0V294.3H283.0V294.3H282.0V294.3H281.0V285.6H280.0V285.4H279.0V285.4H278.0V282.1H277.0V282.1H276.0V276.6H275.0V276.9H274.0V276.9H273.0V276.9H272.0V276.9H271.0V274.7H270.0V271.4H269.0V271.4H268.0V271.4H267.0V271.4H266.0V269.4H265.0V269.4H264.0V269.4H263.0V269.4H262.0V265.2H261.0V265.2H260.0V260.9H259.0V260.9H258.0V260.9H257.0V260.9H256.0V259.6H255.0V259.0H254.0V258.2H253.0V256.6H252.0V256.6H251.0V256.8H250.0V256.8H249.0V256.8H248.0V256.8H247.0V252.9H246.0V252.9H245.0V253.9H244.0V256.6H243.0V261.3H242.0V261.3H241.0V261.3H240.0V261.3H239.0V258.9H238.0V258.9H237.0V258.9H236.0V248.7H235.0V247.6H234.0V247.6H233.0V247.6H232.0V246.3H231.0V246.3H230.0V246.3H229.0V246.3H228.0V241.2H227.0V237.9H226.0V237.9H225.0V237.9H224.0V234.3H223.0V218.7H222.0V189.0H221.0V172.3H220.0V183.5H219.0V187.1H218.0V206.0H217.0V206.0H216.0V208.1H215.0V212.6H214.0V217.7H213.0V228.9H212.0V228.9H211.0V228.9H210.0V228.9H209.0V228.9H208.0V234.1H207.0V234.1H206.0V234.1H205.0V234.1H204.0V241.4H203.0V241.4H202.0V241.4H201.0V241.4H200.0V241.4H199.0V246.3H198.0V252.1H197.0V252.1H196.0V252.1H195.0V252.1H194.0V252.1H193.0V244.2H192.0V244.2H191.0V241.4H190.0V242.7H189.0V242.7H188.0V242.7H187.0V245.7H186.0V245.7H185.0V245.7H184.0V245.7H183.0V245.7H182.0V244.8H181.0V244.8H180.0V240.9H179.0V240.9H178.0V246.0H177.0V246.0H176.0V250.1H175.0V250.1H174.0V250.1H173.0V250.1H172.0V244.1H171.0V247.1H170.0V247.1H169.0V255.4H168.0V255.4H167.0V255.4H166.0V255.4H165.0V256.9H164.0V256.9H163.0V256.9H162.0V262.8H161.0V262.8H160.0V262.8H159.0V262.8H158.0V253.3H157.0V253.3H156.0V250.8H155.0V250.8H154.0V251.3H153.0V251.3H152.0V251.3H151.0V251.3H150.0V248.2H149.0V248.4H148.0V248.4H147.0V248.4H146.0V250.3H145.0V263.0H144.0V263.0H143.0V263.0H142.0V263.0H141.0V263.0H140.0V254.7H139.0V254.7H138.0V251.9H137.0V251.9H136.0V251.3H135.0V251.4H134.0V251.4H133.0V251.4H132.0V251.4H131.0V250.8H130.0V250.8H129.0V244.8H128.0V244.7H127.0Z"/>
<path fill="#ef4040" d="M1386.0 165.6V165.6H1387.0V154.7H1388.0V154.7H1389.0V154.7H1390.0V154.7H1391.0V163.2H1392.0V163.2H1393.0V169.6H1394.0V169.6H1395.0V167.4H1396.0V167.4H1397.0V167.4H1398.0V161.6H1399.0V161.4H1400.0V161.4H1401.0V161.4H1402.0V161.4H1403.0V162.8H1404.0V163.4H1405.0V161.0H1406.0V155.2H1407.0V155.2H1408.0V155.2H1409.0V155.2H1410.0V161.3H1411.0V165.7H1412.0V170.0H1413.0V164.4H1414.0V159.9H1415.0V159.9H1416.0V159.9H1417.0V159.9H1418.0V162.6H1419.0V166.3H1420.0V166.3H1421.0V166.3H1422.0V166.3H1423.0V184.6H1424.0V183.4H1425.0V177.4H1426.0V177.4H1427.0V177.4H1428.0V177.4H1429.0V178.0H1430.0V178.0H1431.0V183.8H1432.0V183.8H1433.0V196.0H1434.0V196.0H1435.0V194.1H1436.0V191.7H1437.0V191.7H1438.0V191.7H1439.0V191.7H1440.0V196.3H1441.0V196.3H1442.0V191.6H1443.0V191.6H1444.0V191.6H1445.0V191.6H1446.0V198.4H1447.0V198.5H1448.0V205.4H1449.0V206.2H1450.0V206.4H1451.0V210.9H1452.0V206.4H1453.0V204.4H1454.0V204.4H1455.0V202.5H1456.0V202.4H1457.0V202.4H1458.0V202.4H1459.0V202.4H1460.0V206.3H1461.0V208.7H1462.0V208.7H1463.0V204.0H1464.0V204.0H1465.0V204.0H1466.0V204.0H1467.0V209.0H1468.0V209.0H1469.0V209.0H1470.0V213.4H1471.0V215.0H1472.0V215.0H1473.0V215.0H1474.0V215.2H1475.0V215.2H1476.0V215.2H1477.0V222.7H1478.0V218.7H1479.0V214.7H1480.0V214.1H1481.0V214.1H1482.0V214.1H1483.0V214.1H1484.0V215.8H1485.0V215.8H1486.0V215.5H1487.0V215.5H1488.0V215.5H1489.0V215.5H1490.0V218.6H1491.0V220.7H1492.0V223.0H1493.0V222.3H1494.0V222.3H1495.0V222.3H1496.0V222.3H1497.0V216.9H1498.0V216.9H1499.0V215.7H1500.0V210.1H1501.0V207.9H1502.0V207.9H1503.0V207.9H1504.0V207.9H1505.0V208.3H1506.0V214.2H1507.0V214.1H1508.0V214.1H1509.0V214.1H1510.0V209.1H1511.0V209.1H1512.0V209.1H1513.0V212.1H1514.0V203.5H1515.0V203.5H1516.0V203.5H1517.0V203.5H1518.0V204.4H1519.0V204.4H1520.0V204.4H1521.0V204.4H1522.0V208.3H1523.0V208.0H1524.0V208.0H1525.0V208.0H1526.0V208.0H1527.0V210.8H1528.0V203.4H1529.0V203.4H1530.0V203.4H1531.0V203.4H1532.0V204.4H1533.0V204.4H1534.0V204.4H1535.0V204.4H1536.0V203.9H1537.0V203.9H1538.0V201.8H1539.0V201.8H1540.0V201.8H1541.0V201.8H1542.0V204.2H1543.0V199.2H1544.0V199.2H1545.0V199.2H1546.0V206.7H1547.0V206.7H1548.0V205.3H1549.0V205.3H1550.0V205.3H1551.0V202.9H1552.0V198.1H1553.0V198.1H1554.0V198.1H1555.0V201.2H1556.0V201.2H1557.0V206.3H1558.0V206.7H1559.0V202.7H1560.0V202.7H1561.0V202.7H1562.0V202.7H1563.0V206.6H1564.0V206.6H1565.0V206.6H1566.0V213.2H1567.0V216.6H1568.0V219.5H1569.0V214.4H1570.0V206.6H1571.0V206.6H1572.0V206.6H1573.0V206.6H1574.0V212.0H1575.0V206.5H1576.0V206.5H1577.0V206.5H1578.0V206.5H1579.0V216.3H1580.0V216.3H1581.0V214.0H1582.0V214.0H1583.0V214.0H1584.0V214.0H1585.0V218.2H1586.0V217.5H1587.0V217.5H1588.0V217.5H1589.0V217.5H1590.0V220.1H1591.0V212.2H1592.0V212.2H1593.0V212.2H1594.0V212.2H1595.0V214.9H1596.0V212.7H1597.0V212.7H1598.0V212.7H1599.0V212.7H1600.0V213.6H1601.0V213.6H1602.0V213.6H1603.0V227.7H1604.0V229.0H1605.0V226.6H1606.0V226.6H1607.0V226.6H1608.0V226.6H1609.0V232.8H1610.0V232.8H1611.0V234.6H1612.0V235.3H1613.0V235.3H1614.0V235.4H1615.0V235.4H1616.0V240.1H1617.0V239.1H1618.0V239.1H1619.0V239.1H1620.0V239.1H1621.0V243.0H1622.0V244.6H1623.0V244.6H1624.0V244.6H1625.0V246.0H1626.0V250.8H1627.0V250.8H1628.0V250.8H1629.0V253.7H1630.0V253.7H1631.0V262.0H1632.0V262.0H1633.0V262.0H1634.0V263.5H1635.0V263.5H1636.0V264.8H1637.0V264.8H1638.0V272.0H1639.0V272.0H1640.0V272.0H1641.0V267.6H1642.0V267.6H1643.0V267.6H1644.0V269.9H1645.0V284.6H1646.0V285.8H1647.0V287.0H1648.0V289.0H1649.0V289.2H1650.0V291.0H1651.0V294.8H1652.0V296.8H1653.0V298.4H1654.0V298.4H1655.0V300.1H1656.0V298.2H1657.0V298.2H1658.0V298.2H1659.0V298.2H1660.0V304.7H1661.0V304.7H1662.0V306.8H1663.0V306.8H1664.0V308.6H1665.0V314.7H1666.0V319.1H1667.0V318.3H1668.0V318.3H1669.0V317.6H1670.0V317.6H1671.0V314.7H1672.0V314.7H1673.0V314.7H1674.0V314.7H1675.0V318.0H1676.0V323.7H1677.0V320.5H1678.0V320.5H1679.0V320.5H1680.0V320.5H1681.0V323.0H1682.0V325.2H1683.0V328.2H1684.0V328.5H1685.0V328.8H1686.0V328.8H1687.0V328.8H1688.0V328.8H1689.0V336.1H1690.0V334.4H1691.0V333.3H1692.0V333.3H1693.0V333.3H1694.0V333.3H1695.0V336.8H1696.0V337.9H1697.0V337.9H1698.0V334.1H1699.0V334.1H1700.0V334.1H1701.0V334.1H1702.0V328.9H1703.0V328.9H1704.0V328.9H1705.0V328.9H1706.0V336.3H1707.0V336.3H1708.0V336.3H1709.0V343.0H1710.0V338.1H1711.0V338.1H1712.0V338.1H1713.0V338.1H1714.0V344.7H1715.0V344.7H1716.0V345.9H1717.0V345.9H1718.0V341.4H1719.0V341.4H1720.0V341.4H1721.0V340.5H1722.0V340.5H1723.0V340.5H1724.0V340.5H1725.0V340.5H1726.0V343.9H1727.0V344.1H1728.0V344.1H1729.0V344.1H1730.0V346.8H1731.0V340.2H1732.0V340.2H1733.0V340.2H1734.0V340.2H1735.0V348.9H1736.0V341.3H1737.0V338.9H1738.0V338.9H1739.0V338.9H1740.0V338.9H1741.0V342.1H1742.0V335.5H1743.0V335.5H1744.0V335.5H1745.0V335.5H1746.0V343.5H1747.0V343.5H1748.0V345.8H1749.0V346.1H1750.0V346.1H1751.0V346.1H1752.0V343.6H1753.0V339.6H1754.0V339.6H1755.0V339.6H1756.0V339.6H1757.0V341.9H1758.0V333.0H1759.0V333.0H1760.0V333.0H1761.0V337.7H1762.0V339.2H1763.0V339.8H1764.0V340.1H1765.0V340.1H1766.0V331.4H1767.0V331.4H1768.0V331.4H1769.0V331.4H1770.0V336.4H1771.0V335.6H1772.0V333.8H1773.0V333.8H1774.0V332.5H1775.0V328.8H1776.0V328.8H1777.0V328.8H1778.0V328.8H1779.0V332.9H1780.0V327.4H1781.0V327.4H1782.0V327.4H1783.0V327.4H1784.0V327.4H1785.0V327.4H1786.0V332.7H1787.0V332.7H1788.0V334.2H1789.0V334.2H1790.0V334.4H1791.0V329.9H1792.0V329.9H1793.0V329.9H1794.0V329.9H1795.0V331.5H1796.0V333.0H1797.0V331.3H1798.0V331.3H1799.0V331.3H1800.0V336.1H1801.0V336.7H1802.0V335.6H1803.0V335.6H1804.0V335.6H1805.0V339.4H1806.0V341.3H1807.0V340.6H1808.0V340.6H1809.0V340.6H1810.0V341.0H1811.0V341.0H1812.0V340.1H1813.0V340.1H1814.0V340.1H1815.0V340.1H1816.0V348.4H1817.0V348.4H1818.0V348.4H1819.0V349.0H1820.0V349.0H1821.0V349.0H1822.0V349.0H1823.0V353.4H1824.0V353.4H1825.0V351.8H1826.0V351.8H1827.0V351.8H1828.0V351.8H1829.0V357.7H1830.0V359.2H1831.0V359.2H1832.0V359.2H1833.0V362.0H1834.0V362.0H1835.0V362.0H1836.0V362.0H1837.0V370.1H1838.0V367.7H1839.0V367.7H1840.0V367.7H1841.0V366.3H1842.0V366.3H1843.0V366.3H1844.0V366.3H1845.0V372.2H1846.0V373.3H1847.0V373.3H1848.0V374.0H1849.0V374.0H1850.0V374.6H1851.0V380.3H1852.0V381.9H1853.0V381.9H1854.0V383.4H1855.0V380.0H1856.0V380.0H1857.0V380.0H1858.0V380.0H1859.0V384.1H1860.0V384.1H1861.0V384.1H1862.0V384.1H1863.0V387.2H1864.0V387.2H1865.0V383.4H1866.0V383.4H1867.0V383.4H1868.0V383.4H1869.0V385.6H1870.0V392.1H1871.0V395.6H1872.0V395.6H1873.0V396.6H1874.0V395.7H1875.0V395.7H1876.0V395.7H1877.0V395.7H1878.0V398.9H1879.0V397.8H1880.0V395.1H1881.0V395.1H1882.0V395.1H1883.0V395.1H1884.0V399.6H1885.0V400.9H1886.0V401.0H1887.0V400.9H1888.0V397.4H1889.0V395.3H1890.0V395.3H1891.0V395.1H1892.0V395.1H1893.0V395.1H1894.0V395.4H1895.0V399.7H1896.0V404.0H1897.0V404.5H1898.0V407.6H1899.0V407.6H1900.0V404.0H1901.0V404.0H1902.0V404.0H1903.0V404.0H1904.0V407.2H1905.0V406.9H1906.0V406.9H1907.0V406.9H1908.0V406.9H1909.0V407.7H1910.0V407.7H1911.0V407.7H1912.0V407.7H1913.0V410.1H1914.0V407.3H1915.0V407.3H1916.0V407.3H1917.0V410.0H1918.0V410.0H1919.0V410.0H1920.0V410.2H1921.0V412.5H1922.0V412.1H1923.0V410.6H1924.0V410.6H1925.0V410.6H1926.0V410.6H1927.0V410.8H1928.0V410.8H1929.0V410.8H1930.0V410.8H1931.0V413.0H1932.0V413.7H1933.0V413.7H1934.0V413.8H1935.0V413.8H1936.0V413.8H1937.0V414.5H1938.0V414.5H1939.0V414.5H1940.0V414.5H1941.0V418.8H1942.0V418.8H1943.0V417.9H1944.0V413.1H1945.0V413.1H1946.0V413.1H1947.0V413.1H1948.0V415.0H1949.0V413.8H1950.0V413.8H1951.0V413.8H1952.0V413.8H1953.0V418.7H1954.0V418.7H1955.0V418.7H1956.0V418.7H1957.0V418.7H1958.0V420.6H1959.0V420.6H1960.0V422.2H1961.0V420.5H1962.0V420.5H1963.0V417.9H1964.0V417.9H1965.0V417.9H1966.0V416.6H1967.0V416.6H1968.0V416.6H1969.0V416.6H1970.0V421.3H1971.0V422.2H1972.0V422.2H1973.0V423.0H1974.0V424.8H1975.0V425.9H1976.0V425.9H1977.0V425.9H1978.0V422.1H1979.0V422.1H1980.0V422.1H1981.0V422.1H1982.0V424.8H1983.0V422.7H1984.0V422.7H1985.0V422.7H1986.0V425.6H1987.0V425.6H1988.0V425.4H1989.0V424.3H1990.0V424.3H1991.0V424.3H1992.0V424.3H1993.0V425.2H1994.0V425.2H1995.0V425.2H1996.0V425.0H1997.0V425.0H1998.0V425.0H1999.0V426.9H2000.0V426.9H2001.0V426.9H2002.0V431.1H2003.0V430.4H2004.0V430.4H2005.0V430.4H2006.0V430.4H2007.0V428.8H2008.0V428.8H2009.0V428.2H2010.0V428.2H2011.0V428.2H2012.0V432.3H2013.0V432.8H2014.0V434.6H2015.0V433.4H2016.0V430.3H2017.0V430.3H2018.0V430.3H2019.0V430.3H2020.0V430.7H2021.0V430.7H2022.0V433.1H2023.0V434.8H2024.0V433.8H2025.0V433.8H2026.0V433.2H2027.0V433.2H2028.0V433.2H2029.0V433.2H2030.0V432.5H2031.0V432.5H2032.0V432.5H2033.0V432.5H2034.0V433.7H2035.0V435.4H2036.0V435.4H2037.0V434.7H2038.0V433.6H2039.0V433.6H2040.0V433.6H2041.0V435.3H2042.0V435.5H2043.0V435.5H2044.0V436.0H2045.0V436.0H2046.0V436.0H2047.0V432.4H2048.0V432.4H2049.0V432.4H2050.0V432.4H2051.0V433.1H2052.0V435.3H2053.0V432.9H2054.0V432.9H2055.0V432.9H2056.0V432.9H2057.0V432.8H2058.0V432.8H2059.0V432.8H2060.0V432.8H2061.0V436.5H2062.0V436.5H2063.0V436.5H2064.0V436.5H2065.0V438.9H2066.0V436.4H2067.0V436.4H2068.0V436.4H2069.0V436.4H2070.0V438.1H2071.0V438.1H2072.0V438.1H2073.0V437.8H2074.0V437.7H2075.0V437.7H2076.0V437.7H2077.0V437.1H2078.0V437.1H2079.0V437.1H2080.0V439.1H2081.0V441.5H2082.0V441.3H2083.0V441.3H2084.0V440.4H2085.0V440.4H2086.0V440.1H2087.0V440.1H2088.0V439.7H2089.0V439.7H2090.0V437.9H2091.0V437.9H2092.0V437.9H2093.0V437.9H2094.0V439.6H2095.0V439.6H2096.0V439.6H2097.0V440.4H2098.0V442.3H2099.0V441.9H2100.0V441.9H2101.0V441.9H2102.0V441.9H2103.0V443.2H2104.0V442.4H2105.0V442.4H2106.0V442.4H2107.0V442.4H2108.0V441.2H2109.0V441.2H2110.0V441.2H2111.0V443.8H2112.0V443.8H2113.0V444.4H2114.0V444.4H2115.0V444.9H2116.0V444.9H2117.0V444.2H2118.0V444.2H2119.0V442.4H2120.0V442.4H2121.0V442.4H2122.0V442.4H2123.0V442.6H2124.0V442.6H2125.0V443.5H2126.0V443.5H2127.0V441.1H2128.0V441.1H2129.0V441.1H2130.0V441.1H2131.0V442.6H2132.0V443.5H2133.0V444.5H2134.0V445.2H2135.0V445.2H2136.0V444.8H2137.0V444.1H2138.0V443.3H2139.0V440.6H2140.0V440.6H2141.0V440.6H2142.0V440.6H2143.0V443.2H2144.0V443.2H2145.0V441.6H2146.0V441.6H2147.0V441.6H2148.0V443.1H2149.0V443.1H2150.0V443.1H2151.0V444.6H2152.0V444.6H2153.0V442.9H2154.0V442.9H2155.0V442.9H2156.0V442.9H2157.0V445.0H2158.0V445.0H2159.0V445.8H2160.0V445.8H2161.0V446.4H2162.0V447.5H2163.0V446.8H2164.0V446.8H2165.0V446.8H2166.0V445.2H2167.0V445.2H2168.0V445.2H2169.0V445.2H2170.0V446.7H2171.0V446.7H2172.0V446.7H2173.0V446.7H2174.0V446.7H2175.0V446.9H2176.0V447.4H2177.0V445.6H2178.0V445.6H2179.0V445.6H2180.0V445.6H2181.0V446.6H2182.0V446.6H2183.0V446.6H2184.0V447.5H2185.0V447.5H2186.0V447.5H2187.0V447.5H2188.0V447.7H2189.0V447.7H2190.0V448.2H2191.0V448.7H2192.0V448.7H2193.0V449.4H2194.0V449.4H2195.0V449.5H2196.0V447.8H2197.0V447.8H2198.0V447.8H2199.0V445.6H2200.0V445.6H2201.0V445.6H2202.0V445.6H2203.0V446.4H2204.0V448.0H2205.0V448.0H2206.0V451.3H2207.0V451.3H2208.0V450.6H2209.0V450.0H2210.0V449.1H2211.0V449.1H2212.0V449.1H2213.0V449.1H2214.0V449.6H2215.0V449.6H2216.0V449.6H2217.0V449.6H2218.0V445.4H2219.0V445.4H2220.0V445.4H2221.0V445.4H2222.0V445.9H2223.0V445.9H2224.0V445.9H2225.0V445.9H2226.0V449.8H2227.0V449.8H2228.0V449.8H2229.0V449.5H2230.0V448.5H2231.0V447.0H2232.0V447.0H2233.0V447.0H2234.0V447.0H2235.0V448.3H2236.0V448.3H2237.0V448.1H2238.0V448.1H2239.0V448.1H2240.0V445.8H2241.0V445.8H2242.0V445.8H2243.0V445.8H2244.0V447.0H2245.0V447.0H2246.0V449.5H2247.0V450.4H2248.0V451.4H2249.0V451.4H2250.0V446.9H2251.0V446.9H2252.0V446.9H2253.0V448.1H2254.0V448.1H2255.0V448.1H2256.0V448.1H2257.0V451.7H2258.0V449.8H2259.0V449.8H2260.0V449.8H2261.0V449.8H2262.0V449.5H2263.0V449.5H2264.0V449.5H2265.0V449.5H2266.0V450.0H2267.0V450.0H2268.0V450.0H2269.0V450.8H2270.0V449.0H2271.0V449.0H2272.0V449.0H2273.0V449.0H2274.0V450.4H2275.0V450.4H2276.0V449.0H2277.0V447.9H2278.0V447.9H2279.0V447.9H2280.0V447.9H2281.0V448.3H2282.0V448.3H2283.0V449.6H2284.0V448.9H2285.0V448.9H2286.0V448.9H2287.0V448.9H2288.0V449.7H2289.0V451.3H2290.0V450.0H2291.0V450.0H2292.0V449.3H2293.0V449.3H2294.0V449.3H2295.0V448.5H2296.0V448.5H2297.0V448.5H2298.0V449.5H2299.0V449.5H2300.0V450.3H2301.0V450.3H2302.0V448.6H2303.0V444.2H2304.0V444.2H2305.0V444.2H2306.0V444.2H2307.0V446.6H2308.0V448.2H2309.0V448.7H2310.0V448.7H2311.0V448.7H2312.0V449.5H2313.0V448.0H2314.0V448.0H2315.0V448.0H2316.0V448.5H2317.0V448.5H2318.0V447.8H2319.0V447.8H2320.0V447.1H2321.0V447.1H2322.0V447.1H2323.0V447.1H2324.0V448.1H2325.0V449.5H2326.0V449.5H2327.0V449.9H2328.0V449.9H2329.0V451.7H2330.0V448.6H2331.0V448.6H2332.0V448.6H2333.0V448.6H2334.0V447.8H2335.0V447.8H2336.0V447.1H2337.0V447.1H2338.0V447.1H2339.0V447.1H2340.0V447.5H2341.0V446.8H2342.0V446.8H2343.0V446.8H2344.0V446.8H2344.0V456.1H2344.0V456.1H2343.0V456.1H2342.0V455.5H2341.0V455.5H2340.0V454.9H2339.0V456.5H2338.0V456.5H2337.0V456.5H2336.0V459.3H2335.0V459.3H2334.0V459.3H2333.0V458.4H2332.0V458.4H2331.0V458.6H2330.0V458.6H2329.0V458.6H2328.0V457.7H2327.0V460.5H2326.0V460.5H2325.0V460.5H2324.0V460.5H2323.0V457.1H2322.0V457.0H2321.0V457.0H2320.0V456.2H2319.0V456.2H2318.0V456.8H2317.0V457.3H2316.0V460.6H2315.0V460.6H2314.0V460.6H2313.0V460.6H2312.0V460.1H2311.0V460.0H2310.0V460.0H2309.0V458.3H2308.0V458.3H2307.0V455.7H2306.0V454.8H2305.0V457.9H2304.0V460.7H2303.0V460.7H2302.0V460.7H2301.0V460.7H2300.0V458.2H2299.0V458.2H2298.0V457.4H2297.0V457.4H2296.0V457.6H2295.0V457.6H2294.0V457.6H2293.0V457.6H2292.0V457.4H2291.0V458.3H2290.0V458.3H2289.0V458.9H2288.0V458.9H2287.0V459.1H2286.0V459.1H2285.0V459.1H2284.0V460.0H2283.0V460.0H2282.0V460.0H2281.0V462.7H2280.0V462.7H2279.0V462.7H2278.0V462.7H2277.0V460.0H2276.0V460.2H2275.0V460.2H2274.0V460.2H2273.0V461.8H2272.0V461.8H2271.0V461.8H2270.0V461.8H2269.0V460.2H2268.0V458.1H2267.0V458.1H2266.0V459.6H2265.0V459.6H2264.0V459.7H2263.0V459.7H2262.0V460.4H2261.0V460.4H2260.0V460.4H2259.0V460.4H2258.0V460.4H2257.0V460.4H2256.0V459.6H2255.0V459.6H2254.0V458.8H2253.0V458.8H2252.0V459.2H2251.0V459.2H2250.0V459.2H2249.0V459.2H2248.0V459.2H2247.0V458.8H2246.0V458.3H2245.0V458.7H2244.0V458.7H2243.0V458.7H2242.0V458.7H2241.0V456.9H2240.0V456.3H2239.0V456.5H2238.0V459.1H2237.0V459.1H2236.0V459.1H2235.0V459.1H2234.0V457.9H2233.0V459.8H2232.0V459.8H2231.0V459.8H2230.0V459.8H2229.0V459.0H2228.0V459.0H2227.0V459.0H2226.0V457.7H2225.0V460.1H2224.0V460.7H2223.0V460.7H2222.0V460.7H2221.0V460.7H2220.0V456.8H2219.0V456.8H2218.0V458.5H2217.0V458.5H2216.0V458.5H2215.0V458.5H2214.0V458.1H2213.0V458.6H2212.0V458.9H2211.0V460.4H2210.0V461.3H2209.0V461.3H2208.0V461.3H2207.0V461.3H2206.0V460.8H2205.0V458.7H2204.0V458.7H2203.0V458.7H2202.0V458.1H2201.0V458.5H2200.0V458.5H2199.0V458.5H2198.0V458.5H2197.0V456.9H2196.0V456.8H2195.0V456.9H2194.0V456.9H2193.0V456.9H2192.0V456.9H2191.0V458.0H2190.0V458.0H2189.0V458.0H2188.0V458.0H2187.0V457.2H2186.0V457.2H2185.0V457.2H2184.0V457.2H2183.0V454.7H2182.0V456.9H2181.0V456.9H2180.0V456.9H2179.0V455.1H2178.0V458.6H2177.0V458.6H2176.0V458.6H2175.0V458.6H2174.0V457.6H2173.0V457.6H2172.0V457.6H2171.0V457.6H2170.0V455.2H2169.0V455.2H2168.0V455.4H2167.0V455.4H2166.0V455.4H2165.0V455.4H2164.0V455.8H2163.0V456.1H2162.0V456.1H2161.0V456.1H2160.0V456.1H2159.0V452.0H2158.0V452.9H2157.0V452.9H2156.0V452.9H2155.0V453.1H2154.0V453.1H2153.0V453.1H2152.0V453.1H2151.0V452.9H2150.0V452.9H2149.0V452.0H2148.0V453.1H2147.0V453.4H2146.0V453.4H2145.0V453.4H2144.0V453.4H2143.0V453.2H2142.0V453.2H2141.0V453.2H2140.0V452.2H2139.0V452.7H2138.0V453.0H2137.0V455.2H2136.0V455.2H2135.0V455.2H2134.0V455.2H2133.0V455.0H2132.0V455.0H2131.0V455.0H2130.0V455.0H2129.0V451.9H2128.0V451.9H2127.0V451.9H2126.0V451.6H2125.0V452.3H2124.0V452.3H2123.0V452.3H2122.0V456.0H2121.0V456.0H2120.0V456.0H2119.0V456.0H2118.0V452.6H2117.0V452.4H2116.0V452.9H2115.0V452.9H2114.0V453.3H2113.0V453.3H2112.0V453.4H2111.0V453.4H2110.0V453.4H2109.0V453.4H2108.0V451.3H2107.0V450.6H2106.0V451.8H2105.0V451.8H2104.0V452.8H2103.0V452.8H2102.0V452.8H2101.0V452.8H2100.0V451.5H2099.0V451.5H2098.0V451.5H2097.0V452.9H2096.0V452.9H2095.0V452.9H2094.0V450.7H2093.0V451.4H2092.0V451.4H2091.0V451.4H2090.0V451.4H2089.0V449.4H2088.0V449.4H2087.0V448.3H2086.0V449.7H2085.0V449.7H2084.0V450.4H2083.0V450.4H2082.0V450.6H2081.0V450.6H2080.0V450.6H2079.0V450.6H2078.0V448.6H2077.0V448.6H2076.0V448.6H2075.0V448.2H2074.0V448.2H2073.0V448.2H2072.0V448.2H2071.0V447.0H2070.0V447.0H2069.0V446.5H2068.0V448.6H2067.0V448.6H2066.0V448.6H2065.0V448.6H2064.0V448.5H2063.0V446.2H2062.0V446.1H2061.0V445.5H2060.0V445.3H2059.0V443.9H2058.0V443.9H2057.0V443.9H2056.0V443.9H2055.0V443.8H2054.0V443.8H2053.0V445.1H2052.0V445.1H2051.0V445.2H2050.0V445.2H2049.0V445.2H2048.0V445.2H2047.0V445.1H2046.0V446.3H2045.0V446.3H2044.0V446.3H2043.0V446.3H2042.0V445.5H2041.0V443.8H2040.0V443.8H2039.0V442.8H2038.0V443.8H2037.0V444.2H2036.0V444.2H2035.0V444.2H2034.0V444.2H2033.0V443.8H2032.0V443.8H2031.0V444.2H2030.0V444.2H2029.0V444.2H2028.0V444.2H2027.0V442.4H2026.0V442.5H2025.0V442.5H2024.0V442.5H2023.0V441.7H2022.0V441.7H2021.0V441.7H2020.0V441.7H2019.0V441.9H2018.0V443.0H2017.0V443.0H2016.0V443.0H2015.0V443.0H2014.0V442.7H2013.0V442.7H2012.0V442.1H2011.0V442.1H2010.0V438.5H2009.0V437.8H2008.0V438.0H2007.0V438.0H2006.0V438.0H2005.0V438.4H2004.0V438.4H2003.0V438.4H2002.0V438.4H2001.0V437.8H2000.0V437.8H1999.0V435.5H1998.0V435.5H1997.0V435.5H1996.0V437.7H1995.0V437.7H1994.0V437.7H1993.0V437.7H1992.0V436.2H1991.0V436.2H1990.0V434.9H1989.0V434.9H1988.0V434.9H1987.0V434.9H1986.0V433.6H1985.0V433.6H1984.0V433.6H1983.0V433.2H1982.0V433.2H1981.0V433.8H1980.0V433.8H1979.0V433.8H1978.0V433.7H1977.0V435.2H1976.0V435.2H1975.0V435.2H1974.0V435.2H1973.0V433.2H1972.0V432.3H1971.0V430.2H1970.0V430.2H1969.0V430.2H1968.0V430.0H1967.0V430.9H1966.0V430.9H1965.0V430.9H1964.0V431.9H1963.0V431.9H1962.0V431.9H1961.0V431.9H1960.0V429.4H1959.0V430.1H1958.0V430.1H1957.0V431.7H1956.0V431.7H1955.0V431.7H1954.0V431.7H1953.0V428.1H1952.0V428.1H1951.0V426.9H1950.0V426.9H1949.0V426.9H1948.0V428.3H1947.0V428.3H1946.0V428.3H1945.0V428.3H1944.0V426.1H1943.0V428.5H1942.0V428.5H1941.0V428.5H1940.0V427.1H1939.0V426.8H1938.0V428.1H1937.0V428.1H1936.0V428.1H1935.0V428.1H1934.0V424.0H1933.0V424.0H1932.0V424.0H1931.0V427.1H1930.0V429.2H1929.0V429.2H1928.0V429.2H1927.0V429.2H1926.0V427.1H1925.0V427.1H1924.0V420.6H1923.0V422.1H1922.0V422.1H1921.0V422.1H1920.0V422.1H1919.0V421.2H1918.0V421.2H1917.0V425.0H1916.0V425.0H1915.0V425.0H1914.0V425.0H1913.0V421.9H1912.0V422.1H1911.0V422.1H1910.0V422.1H1909.0V422.1H1908.0V420.3H1907.0V420.3H1906.0V418.6H1905.0V417.5H1904.0V417.5H1903.0V417.8H1902.0V417.8H1901.0V417.8H1900.0V417.8H1899.0V417.6H1898.0V417.6H1897.0V417.6H1896.0V417.6H1895.0V410.9H1894.0V409.4H1893.0V407.4H1892.0V408.9H1891.0V411.6H1890.0V411.6H1889.0V411.9H1888.0V411.9H1887.0V411.9H1886.0V411.9H1885.0V410.5H1884.0V410.5H1883.0V410.5H1882.0V413.7H1881.0V413.7H1880.0V413.7H1879.0V413.7H1878.0V407.7H1877.0V407.8H1876.0V407.8H1875.0V407.8H1874.0V407.8H1873.0V406.5H1872.0V408.7H1871.0V408.7H1870.0V408.7H1869.0V402.5H1868.0V402.5H1867.0V400.2H1866.0V397.9H1865.0V399.2H1864.0V399.2H1863.0V399.2H1862.0V399.2H1861.0V400.5H1860.0V400.5H1859.0V400.5H1858.0V400.5H1857.0V398.7H1856.0V398.7H1855.0V398.7H1854.0V397.6H1853.0V397.6H1852.0V393.2H1851.0V392.6H1850.0V391.7H1849.0V391.7H1848.0V387.7H1847.0V388.4H1846.0V388.4H1845.0V388.4H1844.0V388.4H1843.0V384.0H1842.0V384.0H1841.0V381.8H1840.0V380.1H1839.0V379.8H1838.0V379.8H1837.0V379.8H1836.0V379.8H1835.0V379.8H1834.0V376.3H1833.0V374.3H1832.0V373.1H1831.0V373.1H1830.0V370.7H1829.0V370.7H1828.0V370.7H1827.0V368.5H1826.0V366.0H1825.0V366.0H1824.0V370.9H1823.0V370.9H1822.0V370.9H1821.0V370.9H1820.0V366.4H1819.0V364.4H1818.0V364.4H1817.0V364.4H1816.0V362.5H1815.0V362.5H1814.0V360.3H1813.0V356.6H1812.0V359.1H1811.0V359.1H1810.0V359.1H1809.0V359.1H1808.0V355.4H1807.0V355.4H1806.0V355.4H1805.0V351.2H1804.0V350.4H1803.0V349.4H1802.0V349.4H1801.0V347.9H1800.0V346.5H1799.0V345.6H1798.0V343.6H1797.0V343.6H1796.0V343.6H1795.0V343.6H1794.0V343.6H1793.0V341.8H1792.0V341.6H1791.0V348.4H1790.0V348.4H1789.0V350.4H1788.0V350.4H1787.0V350.4H1786.0V350.4H1785.0V345.0H1784.0V345.0H1783.0V345.0H1782.0V343.6H1781.0V343.6H1780.0V343.7H1779.0V343.7H1778.0V345.0H1777.0V345.0H1776.0V346.3H1775.0V347.7H1774.0V347.7H1773.0V347.7H1772.0V347.7H1771.0V347.6H1770.0V348.4H1769.0V356.6H1768.0V356.6H1767.0V356.6H1766.0V356.6H1765.0V354.5H1764.0V354.5H1763.0V354.5H1762.0V354.9H1761.0V354.9H1760.0V354.9H1759.0V354.9H1758.0V352.2H1757.0V352.2H1756.0V360.5H1755.0V360.5H1754.0V360.5H1753.0V360.5H1752.0V359.2H1751.0V358.7H1750.0V358.7H1749.0V358.7H1748.0V357.4H1747.0V357.4H1746.0V356.5H1745.0V356.5H1744.0V356.5H1743.0V355.6H1742.0V355.6H1741.0V355.6H1740.0V356.6H1739.0V364.4H1738.0V364.4H1737.0V364.4H1736.0V364.4H1735.0V363.0H1734.0V362.8H1733.0V362.8H1732.0V362.8H1731.0V362.8H1730.0V360.7H1729.0V357.9H1728.0V358.2H1727.0V358.3H1726.0V358.3H1725.0V358.3H1724.0V358.3H1723.0V355.6H1722.0V355.6H1721.0V358.2H1720.0V362.9H1719.0V362.9H1718.0V362.9H1717.0V361.0H1716.0V361.6H1715.0V361.6H1714.0V361.6H1713.0V361.6H1712.0V355.7H1711.0V355.7H1710.0V356.3H1709.0V356.3H1708.0V356.3H1707.0V356.3H1706.0V348.1H1705.0V349.4H1704.0V350.4H1703.0V350.4H1702.0V350.4H1701.0V350.4H1700.0V357.5H1699.0V357.5H1698.0V357.5H1697.0V355.1H1696.0V349.9H1695.0V348.8H1694.0V346.5H1693.0V346.5H1692.0V347.1H1691.0V353.8H1690.0V353.8H1689.0V353.8H1688.0V353.8H1687.0V348.0H1686.0V348.0H1685.0V346.0H1684.0V346.0H1683.0V346.0H1682.0V338.8H1681.0V343.8H1680.0V343.8H1679.0V343.8H1678.0V343.8H1677.0V340.1H1676.0V340.1H1675.0V338.0H1674.0V336.9H1673.0V336.9H1672.0V336.9H1671.0V337.7H1670.0V337.7H1669.0V337.7H1668.0V337.7H1667.0V337.2H1666.0V337.2H1665.0V334.2H1664.0V330.1H1663.0V325.4H1662.0V320.8H1661.0V320.8H1660.0V320.8H1659.0V319.8H1658.0V319.8H1657.0V319.8H1656.0V316.1H1655.0V311.8H1654.0V311.1H1653.0V311.1H1652.0V311.1H1651.0V309.2H1650.0V309.2H1649.0V309.2H1648.0V306.0H1647.0V299.5H1646.0V299.5H1645.0V299.5H1644.0V299.5H1643.0V292.8H1642.0V291.5H1641.0V291.5H1640.0V286.5H1639.0V288.5H1638.0V288.5H1637.0V288.5H1636.0V288.5H1635.0V281.9H1634.0V281.9H1633.0V283.1H1632.0V283.1H1631.0V283.1H1630.0V283.1H1629.0V273.6H1628.0V269.5H1627.0V269.5H1626.0V264.0H1625.0V262.6H1624.0V265.0H1623.0V265.0H1622.0V265.0H1621.0V265.0H1620.0V261.9H1619.0V254.9H1618.0V254.3H1617.0V256.6H1616.0V256.6H1615.0V261.8H1614.0V261.8H1613.0V261.8H1612.0V261.8H1611.0V255.7H1610.0V249.9H1609.0V251.4H1608.0V251.4H1607.0V251.4H1606.0V251.4H1605.0V244.2H1604.0V244.3H1603.0V244.3H1602.0V244.3H1601.0V244.3H1600.0V234.7H1599.0V239.8H1598.0V239.8H1597.0V239.8H1596.0V239.8H1595.0V235.6H1594.0V235.6H1593.0V235.6H1592.0V241.6H1591.0V241.6H1590.0V241.6H1589.0V241.6H1588.0V233.7H1587.0V233.7H1586.0V229.4H1585.0V237.7H1584.0V244.3H1583.0V244.3H1582.0V244.3H1581.0V235.4H1580.0V236.0H1579.0V236.0H1578.0V236.0H1577.0V228.0H1576.0V228.0H1575.0V233.8H1574.0V233.8H1573.0V233.8H1572.0V233.8H1571.0V233.9H1570.0V233.9H1569.0V233.9H1568.0V233.9H1567.0V232.0H1566.0V232.0H1565.0V231.5H1564.0V228.3H1563.0V228.3H1562.0V228.3H1561.0V225.7H1560.0V225.7H1559.0V230.4H1558.0V230.4H1557.0V230.4H1556.0V230.4H1555.0V226.7H1554.0V226.7H1553.0V226.7H1552.0V226.7H1551.0V223.2H1550.0V223.2H1549.0V223.2H1548.0V223.2H1547.0V222.7H1546.0V222.7H1545.0V222.7H1544.0V217.9H1543.0V224.5H1542.0V226.0H1541.0V226.0H1540.0V226.0H1539.0V226.0H1538.0V225.8H1537.0V225.8H1536.0V225.8H1535.0V223.2H1534.0V223.2H1533.0V223.2H1532.0V231.1H1531.0V231.1H1530.0V231.1H1529.0V231.1H1528.0V230.2H1527.0V230.2H1526.0V234.2H1525.0V234.2H1524.0V234.2H1523.0V229.7H1522.0V224.2H1521.0V224.2H1520.0V230.6H1519.0V235.9H1518.0V235.9H1517.0V235.9H1516.0V230.3H1515.0V232.3H1514.0V235.2H1513.0V237.2H1512.0V238.8H1511.0V238.8H1510.0V238.8H1509.0V238.8H1508.0V228.4H1507.0V225.7H1506.0V225.7H1505.0V225.7H1504.0V234.9H1503.0V234.9H1502.0V234.9H1501.0V234.2H1500.0V235.5H1499.0V235.5H1498.0V236.9H1497.0V237.4H1496.0V237.4H1495.0V237.9H1494.0V239.6H1493.0V239.6H1492.0V239.6H1491.0V239.6H1490.0V233.9H1489.0V233.9H1488.0V240.2H1487.0V250.9H1486.0V250.9H1485.0V250.9H1484.0V250.9H1483.0V236.6H1482.0V242.0H1481.0V242.0H1480.0V242.0H1479.0V242.0H1478.0V240.3H1477.0V243.5H1476.0V243.5H1475.0V247.0H1474.0V247.0H1473.0V247.0H1472.0V247.0H1471.0V239.6H1470.0V239.5H1469.0V232.9H1468.0V234.5H1467.0V234.5H1466.0V234.5H1465.0V234.5H1464.0V234.3H1463.0V234.3H1462.0V234.3H1461.0V231.9H1460.0V231.9H1459.0V231.7H1458.0V221.7H1457.0V225.3H1456.0V225.3H1455.0V225.3H1454.0V232.2H1453.0V232.2H1452.0V232.2H1451.0V233.0H1450.0V233.0H1449.0V233.0H1448.0V233.0H1447.0V222.3H1446.0V222.3H1445.0V220.6H1444.0V220.6H1443.0V220.6H1442.0V220.6H1441.0V213.9H1440.0V213.9H1439.0V213.4H1438.0V213.4H1437.0V210.9H1436.0V214.0H1435.0V215.2H1434.0V215.2H1433.0V215.2H1432.0V215.2H1431.0V214.1H1430.0V210.9H1429.0V203.6H1428.0V203.6H1427.0V203.6H1426.0V199.0H1425.0V199.0H1424.0V199.0H1423.0V199.0H1422.0V198.1H1421.0V192.6H1420.0V192.6H1419.0V189.3H1418.0V189.3H1417.0V189.3H1416.0V189.3H1415.0V182.3H1414.0V195.5H1413.0V195.5H1412.0V195.5H1411.0V195.5H1410.0V191.8H1409.0V177.9H1408.0V191.2H1407.0V191.2H1406.0V191.2H1405.0V191.2H1404.0V181.7H1403.0V181.7H1402.0V181.7H1401.0V178.4H1400.0V195.8H1399.0V195.8H1398.0V195.8H1397.0V198.7H1396.0V199.1H1395.0V199.1H1394.0V199.1H1393.0V199.1H1392.0V188.4H1391.0V188.4H1390.0V186.3H1389.0V180.9H1388.0V180.9H1387.0V180.9H1386.0Z"/>
<path fill="#1f6fdd" d="M1386.0 376.4V376.4H1387.0V376.4H1388.0V376.4H1389.0V376.4H1390.0V376.8H1391.0V366.1H1392.0V366.1H1393.0V366.1H1394.0V366.1H1395.0V372.0H1396.0V379.0H1397.0V379.0H1398.0V379.2H1399.0V366.3H1400.0V366.3H1401.0V366.3H1402.0V360.8H1403.0V360.8H1404.0V360.8H1405.0V360.8H1406.0V361.2H1407.0V361.2H1408.0V366.2H1409.0V366.2H1410.0V366.2H1411.0V366.2H1412.0V376.3H1413.0V376.3H1414.0V377.1H1415.0V376.3H1416.0V376.3H1417.0V370.9H1418.0V370.9H1419.0V370.9H1420.0V370.4H1421.0V370.4H1422.0V370.4H1423.0V382.9H1424.0V382.9H1425.0V382.9H1426.0V386.7H1427.0V384.1H1428.0V373.4H1429.0V373.4H1430.0V373.4H1431.0V373.4H1432.0V382.0H1433.0V382.0H1434.0V387.2H1435.0V393.8H1436.0V393.8H1437.0V391.0H1438.0V391.0H1439.0V391.0H1440.0V391.0H1441.0V399.1H1442.0V397.2H1443.0V393.4H1444.0V393.4H1445.0V393.4H1446.0V395.8H1447.0V395.8H1448.0V395.8H1449.0V395.8H1450.0V406.0H1451.0V408.9H1452.0V402.0H1453.0V402.0H1454.0V399.8H1455.0V399.2H1456.0V398.4H1457.0V397.5H1458.0V397.5H1459.0V397.5H1460.0V397.5H1461.0V404.6H1462.0V404.6H1463.0V407.8H1464.0V410.1H1465.0V412.0H1466.0V412.6H1467.0V411.9H1468.0V396.3H1469.0V396.3H1470.0V396.3H1471.0V396.3H1472.0V409.1H1473.0V409.1H1474.0V409.1H1475.0V408.1H1476.0V408.1H1477.0V408.1H1478.0V408.1H1479.0V417.0H1480.0V417.0H1481.0V417.0H1482.0V417.0H1483.0V418.6H1484.0V418.6H1485.0V413.6H1486.0V413.6H1487.0V409.1H1488.0V409.1H1489.0V409.1H1490.0V407.1H1491.0V407.1H1492.0V407.1H1493.0V407.1H1494.0V411.6H1495.0V415.7H1496.0V415.7H1497.0V420.8H1498.0V419.4H1499.0V419.4H1500.0V419.4H1501.0V419.4H1502.0V428.2H1503.0V427.4H1504.0V426.5H1505.0V425.3H1506.0V425.3H1507.0V420.4H1508.0V420.4H1509.0V420.4H1510.0V420.9H1511.0V420.9H1512.0V420.9H1513.0V415.1H1514.0V415.1H1515.0V415.1H1516.0V415.1H1517.0V426.3H1518.0V426.9H1519.0V425.8H1520.0V418.4H1521.0V410.2H1522.0V410.2H1523.0V410.2H1524.0V415.1H1525.0V413.9H1526.0V413.9H1527.0V413.9H1528.0V413.9H1529.0V416.0H1530.0V416.0H1531.0V415.1H1532.0V413.0H1533.0V412.6H1534.0V408.8H1535.0V408.8H1536.0V408.8H1537.0V408.8H1538.0V416.4H1539.0V416.4H1540.0V416.4H1541.0V416.4H1542.0V418.6H1543.0V408.3H1544.0V408.3H1545.0V408.3H1546.0V408.3H1547.0V416.5H1548.0V416.5H1549.0V414.9H1550.0V414.9H1551.0V414.9H1552.0V409.3H1553.0V409.3H1554.0V409.3H1555.0V412.0H1556.0V412.0H1557.0V412.0H1558.0V415.3H1559.0V412.2H1560.0V409.8H1561.0V409.8H1562.0V409.8H1563.0V409.8H1564.0V414.3H1565.0V414.3H1566.0V415.6H1567.0V415.6H1568.0V409.1H1569.0V409.1H1570.0V409.1H1571.0V409.1H1572.0V409.9H1573.0V409.9H1574.0V409.5H1575.0V409.5H1576.0V409.2H1577.0V409.2H1578.0V407.2H1579.0V407.2H1580.0V407.2H1581.0V407.2H1582.0V416.4H1583.0V416.4H1584.0V419.0H1585.0V419.0H1586.0V419.0H1587.0V422.1H1588.0V422.4H1589.0V416.4H1590.0V414.9H1591.0V414.9H1592.0V414.9H1593.0V414.9H1594.0V415.1H1595.0V415.1H1596.0V420.5H1597.0V422.1H1598.0V422.1H1599.0V424.4H1600.0V429.3H1601.0V429.5H1602.0V425.9H1603.0V425.9H1604.0V425.9H1605.0V425.9H1606.0V428.8H1607.0V428.8H1608.0V428.8H1609.0V431.5H1610.0V431.5H1611.0V436.2H1612.0V436.2H1613.0V436.3H1614.0V436.3H1615.0V434.7H1616.0V434.7H1617.0V434.7H1618.0V434.7H1619.0V437.6H1620.0V437.6H1621.0V439.7H1622.0V443.1H1623.0V443.1H1624.0V444.9H1625.0V444.9H1626.0V454.9H1627.0V454.0H1628.0V454.0H1629.0V454.0H1630.0V454.0H1631.0V454.4H1632.0V454.4H1633.0V454.4H1634.0V456.0H1635.0V457.3H1636.0V458.1H1637.0V458.1H1638.0V464.9H1639.0V464.9H1640.0V470.1H1641.0V470.1H1642.0V463.6H1643.0V463.6H1644.0V463.6H1645.0V463.6H1646.0V466.6H1647.0V467.8H1648.0V473.6H1649.0V474.6H1650.0V477.4H1651.0V477.4H1652.0V477.4H1653.0V477.4H1654.0V481.1H1655.0V480.9H1656.0V480.9H1657.0V476.5H1658.0V476.5H1659.0V476.5H1660.0V476.5H1661.0V487.6H1662.0V486.8H1663.0V486.8H1664.0V486.8H1665.0V486.8H1666.0V489.9H1667.0V490.9H1668.0V491.6H1669.0V496.2H1670.0V496.2H1671.0V499.5H1672.0V500.9H1673.0V501.3H1674.0V501.3H1675.0V501.3H1676.0V501.3H1677.0V503.4H1678.0V503.4H1679.0V510.2H1680.0V514.3H1681.0V514.3H1682.0V509.4H1683.0V509.4H1684.0V509.4H1685.0V509.4H1686.0V516.8H1687.0V516.8H1688.0V518.5H1689.0V518.5H1690.0V514.6H1691.0V514.6H1692.0V514.6H1693.0V514.6H1694.0V519.0H1695.0V519.0H1696.0V519.0H1697.0V524.6H1698.0V527.5H1699.0V527.9H1700.0V528.1H1701.0V525.5H1702.0V522.4H1703.0V522.4H1704.0V522.4H1705.0V522.4H1706.0V528.4H1707.0V531.1H1708.0V531.1H1709.0V531.1H1710.0V534.5H1711.0V529.7H1712.0V529.7H1713.0V528.8H1714.0V528.8H1715.0V522.4H1716.0V522.4H1717.0V522.4H1718.0V522.4H1719.0V524.4H1720.0V531.4H1721.0V533.1H1722.0V533.1H1723.0V534.3H1724.0V529.8H1725.0V526.8H1726.0V526.8H1727.0V526.8H1728.0V526.8H1729.0V529.6H1730.0V529.6H1731.0V529.6H1732.0V530.2H1733.0V528.6H1734.0V528.6H1735.0V528.6H1736.0V529.5H1737.0V529.5H1738.0V529.7H1739.0V529.7H1740.0V529.7H1741.0V529.7H1742.0V532.0H1743.0V532.0H1744.0V528.5H1745.0V528.5H1746.0V528.5H1747.0V528.5H1748.0V530.5H1749.0V525.7H1750.0V525.0H1751.0V525.0H1752.0V525.0H1753.0V525.0H1754.0V523.1H1755.0V523.1H1756.0V523.1H1757.0V523.1H1758.0V522.2H1759.0V522.2H1760.0V522.2H1761.0V521.6H1762.0V521.6H1763.0V521.6H1764.0V521.6H1765.0V523.8H1766.0V523.8H1767.0V523.8H1768.0V526.2H1769.0V526.2H1770.0V527.4H1771.0V526.7H1772.0V522.5H1773.0V518.1H1774.0V518.1H1775.0V518.1H1776.0V518.1H1777.0V520.5H1778.0V515.1H1779.0V515.1H1780.0V515.1H1781.0V515.1H1782.0V515.5H1783.0V513.5H1784.0V513.5H1785.0V513.5H1786.0V510.6H1787.0V510.6H1788.0V510.6H1789.0V510.6H1790.0V511.9H1791.0V513.4H1792.0V515.9H1793.0V515.9H1794.0V516.7H1795.0V516.7H1796.0V518.1H1797.0V514.7H1798.0V514.7H1799.0V514.7H1800.0V514.7H1801.0V519.6H1802.0V519.4H1803.0V519.4H1804.0V519.4H1805.0V523.3H1806.0V526.5H1807.0V526.8H1808.0V523.9H1809.0V523.9H1810.0V523.9H1811.0V523.9H1812.0V526.1H1813.0V530.5H1814.0V530.5H1815.0V532.3H1816.0V532.5H1817.0V532.1H1818.0V532.1H1819.0V532.1H1820.0V532.1H1821.0V535.2H1822.0V534.6H1823.0V534.6H1824.0V534.6H1825.0V534.6H1826.0V537.1H1827.0V540.2H1828.0V540.2H1829.0V540.5H1830.0V540.5H1831.0V538.9H1832.0V538.9H1833.0V538.9H1834.0V541.9H1835.0V544.8H1836.0V541.7H1837.0V541.7H1838.0V541.7H1839.0V541.7H1840.0V544.8H1841.0V549.0H1842.0V549.0H1843.0V547.9H1844.0V547.9H1845.0V547.9H1846.0V547.9H1847.0V548.6H1848.0V548.6H1849.0V553.9H1850.0V556.2H1851.0V556.2H1852.0V556.2H1853.0V553.1H1854.0V553.1H1855.0V553.1H1856.0V558.7H1857.0V559.1H1858.0V559.1H1859.0V562.5H1860.0V561.2H1861.0V561.2H1862.0V561.2H1863.0V562.6H1864.0V561.7H1865.0V561.6H1866.0V561.6H1867.0V561.6H1868.0V561.6H1869.0V565.1H1870.0V568.6H1871.0V568.6H1872.0V569.1H1873.0V564.7H1874.0V564.7H1875.0V564.7H1876.0V566.7H1877.0V568.9H1878.0V568.9H1879.0V568.9H1880.0V568.9H1881.0V569.9H1882.0V569.9H1883.0V569.9H1884.0V569.9H1885.0V572.2H1886.0V572.2H1887.0V572.2H1888.0V572.2H1889.0V574.9H1890.0V575.5H1891.0V575.2H1892.0V575.2H1893.0V575.2H1894.0V576.6H1895.0V576.5H1896.0V576.5H1897.0V575.6H1898.0V575.5H1899.0V571.9H1900.0V571.9H1901.0V571.9H1902.0V571.9H1903.0V579.9H1904.0V580.3H1905.0V580.3H1906.0V580.3H1907.0V583.3H1908.0V579.0H1909.0V579.0H1910.0V579.0H1911.0V579.0H1912.0V582.6H1913.0V580.0H1914.0V580.0H1915.0V580.0H1916.0V579.8H1917.0V579.8H1918.0V579.8H1919.0V579.8H1920.0V580.8H1921.0V580.8H1922.0V582.6H1923.0V582.6H1924.0V582.6H1925.0V583.3H1926.0V585.3H1927.0V585.3H1928.0V585.5H1929.0V585.5H1930.0V586.4H1931.0V587.7H1932.0V588.4H1933.0V586.6H1934.0V586.6H1935.0V586.6H1936.0V586.6H1937.0V588.0H1938.0V588.0H1939.0V588.8H1940.0V587.5H1941.0V587.5H1942.0V587.5H1943.0V590.1H1944.0V590.5H1945.0V593.0H1946.0V593.0H1947.0V590.1H1948.0V589.8H1949.0V589.8H1950.0V589.8H1951.0V589.8H1952.0V592.8H1953.0V593.0H1954.0V593.3H1955.0V593.3H1956.0V593.3H1957.0V593.3H1958.0V596.1H1959.0V596.3H1960.0V596.7H1961.0V596.7H1962.0V596.7H1963.0V597.9H1964.0V597.5H1965.0V597.5H1966.0V597.5H1967.0V597.4H1968.0V597.4H1969.0V597.4H1970.0V597.4H1971.0V596.6H1972.0V596.6H1973.0V596.6H1974.0V596.6H1975.0V599.2H1976.0V599.2H1977.0V599.2H1978.0V598.3H1979.0V598.3H1980.0V598.3H1981.0V596.1H1982.0V596.1H1983.0V596.1H1984.0V596.1H1985.0V596.1H1986.0V597.3H1987.0V597.3H1988.0V597.3H1989.0V597.3H1990.0V600.0H1991.0V600.0H1992.0V600.0H1993.0V600.0H1994.0V601.6H1995.0V601.6H1996.0V602.7H1997.0V602.7H1998.0V602.7H1999.0V602.7H2000.0V604.1H2001.0V604.0H2002.0V603.7H2003.0V603.7H2004.0V602.8H2005.0V602.8H2006.0V600.2H2007.0V600.2H2008.0V600.2H2009.0V600.2H2010.0V602.1H2011.0V603.4H2012.0V601.3H2013.0V601.3H2014.0V601.3H2015.0V601.3H2016.0V601.7H2017.0V601.7H2018.0V601.7H2019.0V605.6H2020.0V606.0H2021.0V608.2H2022.0V608.5H2023.0V608.7H2024.0V608.4H2025.0V608.4H2026.0V608.4H2027.0V608.1H2028.0V608.1H2029.0V607.8H2030.0V607.8H2031.0V607.8H2032.0V607.8H2033.0V606.7H2034.0V605.8H2035.0V605.8H2036.0V605.8H2037.0V605.8H2038.0V607.1H2039.0V607.1H2040.0V606.6H2041.0V606.6H2042.0V606.6H2043.0V606.6H2044.0V607.2H2045.0V607.2H2046.0V607.3H2047.0V609.2H2048.0V609.2H2049.0V607.7H2050.0V607.7H2051.0V607.7H2052.0V607.7H2053.0V608.2H2054.0V608.2H2055.0V608.2H2056.0V608.2H2057.0V609.2H2058.0V609.2H2059.0V609.2H2060.0V611.6H2061.0V611.6H2062.0V611.6H2063.0V611.2H2064.0V611.2H2065.0V611.2H2066.0V611.2H2067.0V611.6H2068.0V610.7H2069.0V609.8H2070.0V608.2H2071.0V608.2H2072.0V608.2H2073.0V608.2H2074.0V609.3H2075.0V609.3H2076.0V609.3H2077.0V612.8H2078.0V612.8H2079.0V612.3H2080.0V612.3H2081.0V612.3H2082.0V612.3H2083.0V613.8H2084.0V614.6H2085.0V613.4H2086.0V613.4H2087.0V613.4H2088.0V611.2H2089.0V611.2H2090.0V611.2H2091.0V611.2H2092.0V614.0H2093.0V614.4H2094.0V613.4H2095.0V613.3H2096.0V613.3H2097.0V613.3H2098.0V613.3H2099.0V615.8H2100.0V616.8H2101.0V615.3H2102.0V614.8H2103.0V614.8H2104.0V614.8H2105.0V614.8H2106.0V614.7H2107.0V614.7H2108.0V614.7H2109.0V614.7H2110.0V616.2H2111.0V618.0H2112.0V618.0H2113.0V618.8H2114.0V618.8H2115.0V618.0H2116.0V618.0H2117.0V618.0H2118.0V618.0H2119.0V616.9H2120.0V616.9H2121.0V616.9H2122.0V618.0H2123.0V619.5H2124.0V619.9H2125.0V619.9H2126.0V615.9H2127.0V615.9H2128.0V615.9H2129.0V615.4H2130.0V615.0H2131.0V615.0H2132.0V615.0H2133.0V615.0H2134.0V618.1H2135.0V619.9H2136.0V619.9H2137.0V619.9H2138.0V622.1H2139.0V621.0H2140.0V621.0H2141.0V621.0H2142.0V621.0H2143.0V621.2H2144.0V620.9H2145.0V620.9H2146.0V620.9H2147.0V619.6H2148.0V619.6H2149.0V617.8H2150.0V617.8H2151.0V617.8H2152.0V617.8H2153.0V618.9H2154.0V617.2H2155.0V617.2H2156.0V617.2H2157.0V618.6H2158.0V618.6H2159.0V616.4H2160.0V616.4H2161.0V616.4H2162.0V616.4H2163.0V618.3H2164.0V618.9H2165.0V619.7H2166.0V619.7H2167.0V620.7H2168.0V620.7H2169.0V620.7H2170.0V620.7H2171.0V621.0H2172.0V621.7H2173.0V621.7H2174.0V621.7H2175.0V621.1H2176.0V620.9H2177.0V620.5H2178.0V619.0H2179.0V619.0H2180.0V619.0H2181.0V619.0H2182.0V620.5H2183.0V620.5H2184.0V620.0H2185.0V620.0H2186.0V620.0H2187.0V620.0H2188.0V622.7H2189.0V622.7H2190.0V621.2H2191.0V619.3H2192.0V619.3H2193.0V619.3H2194.0V619.3H2195.0V621.4H2196.0V621.0H2197.0V621.0H2198.0V621.0H2199.0V621.0H2200.0V622.3H2201.0V620.9H2202.0V620.9H2203.0V620.9H2204.0V620.9H2205.0V621.5H2206.0V621.5H2207.0V622.7H2208.0V623.0H2209.0V623.2H2210.0V623.2H2211.0V622.1H2212.0V622.1H2213.0V618.8H2214.0V618.8H2215.0V618.8H2216.0V618.8H2217.0V619.5H2218.0V621.1H2219.0V621.1H2220.0V624.9H2221.0V623.0H2222.0V623.0H2223.0V622.9H2224.0V622.9H2225.0V620.2H2226.0V620.2H2227.0V620.2H2228.0V620.2H2229.0V622.2H2230.0V622.2H2231.0V621.7H2232.0V621.7H2233.0V621.7H2234.0V621.7H2235.0V623.3H2236.0V623.3H2237.0V623.3H2238.0V625.0H2239.0V624.4H2240.0V622.7H2241.0V622.7H2242.0V622.7H2243.0V622.3H2244.0V622.3H2245.0V622.3H2246.0V622.3H2247.0V623.9H2248.0V627.0H2249.0V625.3H2250.0V624.1H2251.0V624.1H2252.0V623.2H2253.0V623.2H2254.0V623.2H2255.0V625.3H2256.0V623.8H2257.0V623.8H2258.0V623.8H2259.0V622.5H2260.0V622.5H2261.0V622.5H2262.0V622.9H2263.0V621.0H2264.0V621.0H2265.0V621.0H2266.0V621.0H2267.0V625.3H2268.0V625.3H2269.0V625.3H2270.0V626.5H2271.0V625.0H2272.0V625.0H2273.0V625.0H2274.0V625.0H2275.0V625.7H2276.0V625.7H2277.0V622.7H2278.0V622.7H2279.0V622.7H2280.0V622.7H2281.0V625.8H2282.0V625.8H2283.0V625.8H2284.0V623.9H2285.0V623.9H2286.0V623.9H2287.0V623.9H2288.0V626.1H2289.0V626.1H2290.0V626.6H2291.0V626.4H2292.0V625.5H2293.0V625.5H2294.0V625.5H2295.0V625.0H2296.0V625.0H2297.0V625.0H2298.0V622.5H2299.0V622.5H2300.0V622.5H2301.0V622.5H2302.0V622.2H2303.0V622.2H2304.0V621.5H2305.0V621.5H2306.0V621.5H2307.0V621.5H2308.0V621.5H2309.0V621.5H2310.0V622.7H2311.0V623.1H2312.0V621.9H2313.0V621.3H2314.0V621.3H2315.0V621.3H2316.0V621.3H2317.0V623.2H2318.0V623.9H2319.0V621.4H2320.0V621.4H2321.0V621.4H2322.0V622.3H2323.0V621.2H2324.0V621.2H2325.0V621.1H2326.0V620.7H2327.0V620.7H2328.0V620.7H2329.0V620.7H2330.0V621.7H2331.0V621.7H2332.0V623.4H2333.0V623.2H2334.0V623.2H2335.0V621.3H2336.0V620.0H2337.0V620.0H2338.0V620.0H2339.0V620.0H2340.0V618.9H2341.0V618.9H2342.0V618.5H2343.0V618.5H2344.0V618.5H2344.0V627.2H2344.0V628.2H2343.0V628.2H2342.0V628.9H2341.0V629.9H2340.0V629.9H2339.0V629.9H2338.0V632.8H2337.0V632.8H2336.0V632.8H2335.0V632.8H2334.0V634.6H2333.0V634.6H2332.0V634.6H2331.0V634.6H2330.0V633.7H2329.0V632.4H2328.0V628.6H2327.0V629.2H2326.0V630.8H2325.0V633.5H2324.0V633.5H2323.0V633.5H2322.0V633.5H2321.0V632.5H2320.0V630.1H2319.0V633.8H2318.0V633.8H2317.0V633.8H2316.0V633.8H2315.0V630.5H2314.0V632.7H2313.0V632.7H2312.0V632.7H2311.0V632.7H2310.0V631.5H2309.0V631.9H2308.0V631.9H2307.0V631.9H2306.0V631.9H2305.0V631.8H2304.0V631.8H2303.0V631.8H2302.0V631.8H2301.0V633.1H2300.0V633.3H2299.0V633.7H2298.0V633.7H2297.0V633.7H2296.0V633.7H2295.0V633.6H2294.0V636.2H2293.0V636.2H2292.0V636.2H2291.0V636.2H2290.0V634.2H2289.0V633.0H2288.0V633.0H2287.0V633.6H2286.0V633.6H2285.0V637.3H2284.0V637.3H2283.0V637.3H2282.0V637.3H2281.0V635.7H2280.0V635.7H2279.0V635.7H2278.0V635.7H2277.0V635.3H2276.0V634.9H2275.0V635.8H2274.0V635.8H2273.0V635.8H2272.0V635.8H2271.0V633.8H2270.0V633.8H2269.0V634.8H2268.0V634.8H2267.0V634.8H2266.0V633.2H2265.0V633.2H2264.0V634.7H2263.0V634.7H2262.0V634.7H2261.0V634.3H2260.0V634.3H2259.0V635.0H2258.0V635.0H2257.0V635.0H2256.0V635.0H2255.0V632.7H2254.0V632.7H2253.0V635.2H2252.0V637.0H2251.0V637.0H2250.0V637.0H2249.0V637.0H2248.0V635.1H2247.0V635.1H2246.0V635.1H2245.0V631.6H2244.0V636.0H2243.0V636.0H2242.0V636.0H2241.0V636.0H2240.0V633.7H2239.0V633.7H2238.0V633.7H2237.0V633.4H2236.0V633.4H2235.0V633.3H2234.0V633.3H2233.0V633.3H2232.0V633.3H2231.0V632.9H2230.0V632.9H2229.0V633.7H2228.0V633.7H2227.0V633.7H2226.0V632.9H2225.0V632.9H2224.0V633.5H2223.0V633.5H2222.0V633.5H2221.0V633.5H2220.0V632.4H2219.0V631.2H2218.0V631.2H2217.0V631.1H2216.0V631.1H2215.0V630.1H2214.0V630.4H2213.0V632.3H2212.0V632.3H2211.0V632.3H2210.0V633.0H2209.0V633.0H2208.0V633.0H2207.0V633.0H2206.0V632.9H2205.0V632.4H2204.0V634.1H2203.0V634.1H2202.0V634.1H2201.0V634.1H2200.0V633.4H2199.0V633.4H2198.0V633.1H2197.0V633.1H2196.0V633.1H2195.0V633.1H2194.0V632.2H2193.0V632.2H2192.0V632.2H2191.0V633.6H2190.0V633.6H2189.0V633.6H2188.0V633.6H2187.0V632.0H2186.0V633.8H2185.0V633.8H2184.0V633.8H2183.0V633.8H2182.0V633.0H2181.0V629.7H2180.0V629.7H2179.0V629.7H2178.0V631.3H2177.0V631.3H2176.0V631.3H2175.0V631.3H2174.0V631.7H2173.0V631.8H2172.0V631.8H2171.0V632.2H2170.0V632.2H2169.0V632.2H2168.0V632.2H2167.0V631.4H2166.0V629.4H2165.0V629.4H2164.0V630.8H2163.0V630.8H2162.0V630.8H2161.0V630.8H2160.0V629.2H2159.0V629.2H2158.0V629.2H2157.0V627.2H2156.0V627.8H2155.0V627.8H2154.0V627.8H2153.0V628.4H2152.0V628.4H2151.0V628.8H2150.0V630.1H2149.0V630.1H2148.0V630.1H2147.0V633.1H2146.0V633.1H2145.0V633.1H2144.0V629.5H2143.0V629.5H2142.0V631.6H2141.0V631.6H2140.0V631.6H2139.0V631.6H2138.0V629.1H2137.0V629.1H2136.0V629.1H2135.0V628.2H2134.0V628.1H2133.0V626.8H2132.0V627.1H2131.0V629.7H2130.0V629.7H2129.0V629.7H2128.0V627.3H2127.0V628.0H2126.0V629.8H2125.0V629.8H2124.0V629.8H2123.0V629.8H2122.0V628.3H2121.0V628.3H2120.0V627.4H2119.0V627.4H2118.0V627.4H2117.0V627.4H2116.0V627.2H2115.0V628.4H2114.0V629.3H2113.0V629.3H2112.0V629.3H2111.0V629.3H2110.0V624.8H2109.0V626.9H2108.0V626.9H2107.0V626.9H2106.0V628.0H2105.0V628.0H2104.0V628.0H2103.0V628.9H2102.0V628.9H2101.0V628.9H2100.0V628.9H2099.0V626.4H2098.0V626.4H2097.0V627.4H2096.0V627.4H2095.0V627.4H2094.0V627.4H2093.0V625.2H2092.0V622.3H2091.0V620.5H2090.0V622.2H2089.0V622.2H2088.0V622.2H2087.0V622.9H2086.0V622.9H2085.0V623.1H2084.0V623.1H2083.0V623.1H2082.0V623.1H2081.0V622.6H2080.0V622.6H2079.0V622.6H2078.0V622.6H2077.0V621.9H2076.0V621.9H2075.0V621.9H2074.0V621.9H2073.0V620.9H2072.0V620.2H2071.0V620.2H2070.0V620.2H2069.0V620.2H2068.0V620.0H2067.0V620.0H2066.0V620.3H2065.0V620.3H2064.0V620.3H2063.0V619.5H2062.0V619.5H2061.0V620.4H2060.0V620.4H2059.0V620.4H2058.0V618.5H2057.0V617.1H2056.0V618.0H2055.0V618.0H2054.0V618.9H2053.0V618.9H2052.0V622.2H2051.0V622.2H2050.0V622.2H2049.0V622.2H2048.0V616.3H2047.0V616.3H2046.0V615.8H2045.0V615.8H2044.0V614.8H2043.0V614.8H2042.0V619.8H2041.0V619.8H2040.0V619.8H2039.0V619.8H2038.0V616.4H2037.0V615.2H2036.0V615.2H2035.0V615.2H2034.0V618.7H2033.0V618.7H2032.0V618.7H2031.0V618.7H2030.0V618.4H2029.0V618.4H2028.0V618.4H2027.0V617.3H2026.0V617.3H2025.0V617.3H2024.0V619.3H2023.0V619.3H2022.0V619.3H2021.0V619.3H2020.0V615.5H2019.0V615.5H2018.0V616.5H2017.0V616.5H2016.0V616.5H2015.0V616.5H2014.0V614.6H2013.0V612.3H2012.0V615.0H2011.0V615.0H2010.0V615.0H2009.0V615.0H2008.0V613.8H2007.0V613.8H2006.0V613.8H2005.0V613.8H2004.0V616.0H2003.0V616.0H2002.0V616.0H2001.0V611.9H2000.0V612.8H1999.0V612.8H1998.0V612.8H1997.0V612.8H1996.0V611.3H1995.0V611.3H1994.0V611.4H1993.0V611.4H1992.0V611.4H1991.0V611.4H1990.0V610.3H1989.0V610.3H1988.0V610.3H1987.0V608.4H1986.0V608.1H1985.0V608.1H1984.0V608.1H1983.0V605.3H1982.0V607.3H1981.0V607.3H1980.0V607.3H1979.0V607.3H1978.0V607.3H1977.0V607.3H1976.0V607.3H1975.0V607.1H1974.0V609.2H1973.0V609.2H1972.0V609.2H1971.0V609.2H1970.0V607.7H1969.0V607.7H1968.0V607.7H1967.0V607.7H1966.0V606.6H1965.0V606.0H1964.0V608.4H1963.0V608.4H1962.0V608.4H1961.0V605.9H1960.0V605.9H1959.0V604.4H1958.0V604.0H1957.0V603.7H1956.0V603.7H1955.0V603.7H1954.0V603.7H1953.0V602.6H1952.0V602.6H1951.0V602.6H1950.0V602.5H1949.0V602.5H1948.0V602.5H1947.0V602.4H1946.0V602.4H1945.0V602.8H1944.0V602.8H1943.0V602.8H1942.0V601.9H1941.0V601.9H1940.0V601.9H1939.0V601.9H1938.0V599.4H1937.0V599.4H1936.0V596.9H1935.0V595.9H1934.0V597.4H1933.0V597.4H1932.0V597.4H1931.0V597.4H1930.0V596.1H1929.0V596.1H1928.0V596.1H1927.0V596.1H1926.0V596.1H1925.0V593.3H1924.0V590.8H1923.0V591.4H1922.0V591.4H1921.0V591.5H1920.0V591.5H1919.0V591.5H1918.0V591.5H1917.0V590.2H1916.0V590.2H1915.0V590.3H1914.0V590.3H1913.0V591.9H1912.0V592.1H1911.0V592.1H1910.0V592.1H1909.0V597.1H1908.0V597.1H1907.0V597.1H1906.0V597.1H1905.0V594.3H1904.0V594.3H1903.0V594.3H1902.0V594.3H1901.0V588.6H1900.0V588.6H1899.0V588.6H1898.0V585.8H1897.0V584.9H1896.0V586.3H1895.0V589.2H1894.0V589.2H1893.0V589.2H1892.0V589.2H1891.0V587.2H1890.0V587.2H1889.0V589.1H1888.0V589.1H1887.0V589.1H1886.0V589.1H1885.0V582.3H1884.0V580.6H1883.0V581.3H1882.0V584.2H1881.0V584.2H1880.0V584.2H1879.0V584.2H1878.0V583.3H1877.0V583.3H1876.0V583.3H1875.0V580.3H1874.0V578.4H1873.0V578.4H1872.0V579.6H1871.0V579.6H1870.0V579.6H1869.0V579.6H1868.0V579.0H1867.0V579.0H1866.0V573.5H1865.0V575.0H1864.0V575.0H1863.0V575.0H1862.0V575.0H1861.0V573.0H1860.0V573.6H1859.0V573.6H1858.0V573.6H1857.0V573.6H1856.0V571.7H1855.0V570.0H1854.0V566.2H1853.0V566.2H1852.0V566.6H1851.0V566.6H1850.0V566.6H1849.0V566.6H1848.0V565.0H1847.0V565.0H1846.0V565.0H1845.0V559.7H1844.0V558.9H1843.0V558.9H1842.0V559.4H1841.0V559.4H1840.0V559.4H1839.0V559.4H1838.0V557.7H1837.0V554.5H1836.0V554.5H1835.0V553.6H1834.0V553.6H1833.0V553.6H1832.0V553.6H1831.0V553.6H1830.0V555.7H1829.0V555.7H1828.0V555.7H1827.0V555.7H1826.0V551.6H1825.0V551.6H1824.0V548.5H1823.0V548.5H1822.0V547.5H1821.0V544.5H1820.0V548.0H1819.0V548.0H1818.0V549.9H1817.0V549.9H1816.0V549.9H1815.0V549.9H1814.0V543.9H1813.0V541.7H1812.0V540.2H1811.0V540.2H1810.0V535.9H1809.0V535.2H1808.0V535.2H1807.0V536.0H1806.0V536.0H1805.0V536.0H1804.0V536.0H1803.0V531.7H1802.0V532.5H1801.0V532.5H1800.0V532.5H1799.0V532.5H1798.0V534.5H1797.0V534.5H1796.0V534.5H1795.0V534.5H1794.0V527.9H1793.0V527.9H1792.0V527.9H1791.0V527.0H1790.0V527.0H1789.0V522.6H1788.0V522.6H1787.0V532.0H1786.0V532.0H1785.0V532.0H1784.0V532.0H1783.0V536.2H1782.0V536.2H1781.0V536.2H1780.0V536.2H1779.0V535.2H1778.0V535.2H1777.0V535.2H1776.0V539.3H1775.0V539.3H1774.0V539.3H1773.0V538.3H1772.0V543.4H1771.0V543.4H1770.0V545.7H1769.0V545.7H1768.0V545.7H1767.0V545.7H1766.0V544.4H1765.0V541.0H1764.0V541.0H1763.0V539.2H1762.0V539.3H1761.0V539.3H1760.0V539.3H1759.0V542.5H1758.0V543.6H1757.0V543.6H1756.0V543.6H1755.0V543.6H1754.0V537.7H1753.0V537.9H1752.0V537.9H1751.0V542.1H1750.0V548.9H1749.0V548.9H1748.0V548.9H1747.0V548.9H1746.0V545.6H1745.0V548.5H1744.0V548.5H1743.0V553.8H1742.0V553.8H1741.0V553.8H1740.0V553.8H1739.0V549.9H1738.0V549.3H1737.0V547.7H1736.0V547.7H1735.0V542.7H1734.0V545.2H1733.0V545.2H1732.0V545.2H1731.0V548.6H1730.0V548.6H1729.0V548.6H1728.0V548.6H1727.0V546.8H1726.0V546.8H1725.0V547.8H1724.0V547.8H1723.0V547.8H1722.0V548.0H1721.0V548.0H1720.0V548.0H1719.0V548.0H1718.0V539.5H1717.0V542.1H1716.0V545.8H1715.0V545.8H1714.0V545.8H1713.0V545.8H1712.0V544.3H1711.0V546.0H1710.0V546.0H1709.0V546.0H1708.0V547.7H1707.0V547.7H1706.0V547.7H1705.0V547.7H1704.0V541.7H1703.0V541.7H1702.0V541.7H1701.0V541.6H1700.0V538.9H1699.0V538.9H1698.0V538.9H1697.0V538.9H1696.0V537.3H1695.0V537.3H1694.0V537.2H1693.0V541.7H1692.0V541.7H1691.0V541.7H1690.0V541.7H1689.0V535.6H1688.0V535.6H1687.0V533.2H1686.0V534.9H1685.0V534.9H1684.0V534.9H1683.0V534.9H1682.0V534.1H1681.0V534.1H1680.0V526.1H1679.0V526.1H1678.0V526.1H1677.0V526.1H1676.0V524.6H1675.0V518.3H1674.0V517.9H1673.0V517.9H1672.0V516.7H1671.0V516.5H1670.0V516.5H1669.0V512.1H1668.0V512.1H1667.0V512.1H1666.0V505.7H1665.0V502.8H1664.0V502.8H1663.0V506.5H1662.0V506.5H1661.0V506.5H1660.0V502.7H1659.0V502.7H1658.0V496.4H1657.0V496.4H1656.0V498.1H1655.0V498.1H1654.0V498.1H1653.0V498.8H1652.0V498.8H1651.0V498.8H1650.0V498.8H1649.0V491.8H1648.0V488.1H1647.0V486.0H1646.0V486.0H1645.0V483.7H1644.0V491.6H1643.0V491.6H1642.0V491.6H1641.0V491.6H1640.0V491.4H1639.0V491.4H1638.0V491.4H1637.0V478.1H1636.0V478.1H1635.0V479.1H1634.0V479.1H1633.0V479.1H1632.0V476.5H1631.0V471.5H1630.0V472.5H1629.0V472.5H1628.0V472.5H1627.0V472.5H1626.0V470.0H1625.0V470.0H1624.0V468.4H1623.0V463.4H1622.0V459.5H1621.0V459.5H1620.0V459.5H1619.0V459.4H1618.0V459.4H1617.0V459.4H1616.0V459.4H1615.0V453.4H1614.0V452.9H1613.0V452.9H1612.0V453.3H1611.0V455.5H1610.0V455.5H1609.0V455.5H1608.0V455.5H1607.0V452.8H1606.0V443.7H1605.0V444.6H1604.0V444.6H1603.0V444.6H1602.0V444.6H1601.0V441.9H1600.0V441.9H1599.0V440.9H1598.0V438.2H1597.0V438.2H1596.0V435.8H1595.0V436.6H1594.0V436.6H1593.0V439.3H1592.0V439.3H1591.0V439.3H1590.0V439.3H1589.0V438.2H1588.0V438.2H1587.0V436.6H1586.0V436.6H1585.0V436.6H1584.0V435.8H1583.0V435.8H1582.0V429.4H1581.0V430.1H1580.0V430.1H1579.0V430.1H1578.0V430.1H1577.0V425.2H1576.0V433.1H1575.0V433.1H1574.0V433.1H1573.0V433.1H1572.0V424.2H1571.0V427.1H1570.0V427.1H1569.0V437.8H1568.0V437.8H1567.0V437.8H1566.0V437.3H1565.0V437.3H1564.0V435.6H1563.0V434.0H1562.0V434.0H1561.0V431.4H1560.0V435.8H1559.0V435.8H1558.0V435.8H1557.0V432.1H1556.0V432.3H1555.0V432.3H1554.0V432.3H1553.0V431.8H1552.0V431.8H1551.0V435.1H1550.0V436.2H1549.0V436.2H1548.0V436.7H1547.0V436.7H1546.0V436.7H1545.0V436.7H1544.0V433.9H1543.0V432.0H1542.0V443.5H1541.0V443.5H1540.0V443.5H1539.0V443.5H1538.0V434.5H1537.0V433.7H1536.0V428.1H1535.0V428.1H1534.0V428.9H1533.0V429.2H1532.0V436.9H1531.0V436.9H1530.0V438.1H1529.0V438.1H1528.0V438.1H1527.0V438.1H1526.0V429.8H1525.0V431.0H1524.0V438.3H1523.0V438.3H1522.0V449.4H1521.0V452.3H1520.0V452.3H1519.0V452.3H1518.0V452.3H1517.0V444.7H1516.0V444.7H1515.0V435.3H1514.0V435.3H1513.0V441.6H1512.0V441.6H1511.0V441.6H1510.0V442.7H1509.0V442.7H1508.0V444.9H1507.0V445.9H1506.0V445.9H1505.0V445.9H1504.0V445.9H1503.0V447.8H1502.0V447.8H1501.0V447.8H1500.0V447.8H1499.0V447.4H1498.0V447.4H1497.0V447.4H1496.0V447.4H1495.0V435.7H1494.0V435.7H1493.0V434.9H1492.0V427.7H1491.0V427.7H1490.0V433.3H1489.0V434.4H1488.0V434.4H1487.0V434.4H1486.0V434.2H1485.0V434.2H1484.0V433.5H1483.0V434.8H1482.0V435.5H1481.0V435.7H1480.0V435.7H1479.0V435.7H1478.0V435.7H1477.0V435.5H1476.0V435.5H1475.0V433.2H1474.0V426.9H1473.0V425.7H1472.0V425.7H1471.0V425.7H1470.0V424.0H1469.0V428.9H1468.0V428.9H1467.0V430.3H1466.0V430.3H1465.0V430.3H1464.0V430.3H1463.0V425.3H1462.0V425.3H1461.0V424.0H1460.0V422.7H1459.0V422.7H1458.0V422.2H1457.0V422.2H1456.0V422.2H1455.0V422.2H1454.0V421.0H1453.0V432.2H1452.0V432.2H1451.0V433.9H1450.0V433.9H1449.0V433.9H1448.0V433.9H1447.0V430.2H1446.0V416.2H1445.0V416.2H1444.0V416.2H1443.0V412.3H1442.0V416.9H1441.0V421.9H1440.0V421.9H1439.0V421.9H1438.0V421.9H1437.0V418.8H1436.0V418.8H1435.0V408.1H1434.0V408.1H1433.0V403.4H1432.0V403.4H1431.0V407.7H1430.0V407.7H1429.0V407.7H1428.0V409.9H1427.0V409.9H1426.0V409.9H1425.0V409.9H1424.0V408.6H1423.0V406.1H1422.0V401.2H1421.0V398.2H1420.0V403.1H1419.0V403.1H1418.0V403.1H1417.0V403.1H1416.0V400.3H1415.0V400.3H1414.0V403.1H1413.0V403.1H1412.0V403.1H1411.0V403.6H1410.0V403.6H1409.0V403.6H1408.0V403.6H1407.0V396.5H1406.0V390.3H1405.0V390.2H1404.0V390.2H1403.0V392.9H1402.0V392.9H1401.0V408.8H1400.0V408.8H1399.0V408.8H1398.0V408.8H1397.0V404.1H1396.0V404.1H1395.0V392.5H1394.0V392.5H1393.0V390.5H1392.0V397.5H1391.0V397.5H1390.0V399.5H1389.0V399.5H1388.0V399.5H1387.0V399.5H1386.0Z"/>
<g fill="none" stroke-linejoin="round" stroke-linecap="round">
<path stroke="#505050" stroke-width="3.6" d="M1386.0 743.8L1388.0 743.7L1390.0 743.8L1392.0 744.0L1394.0 744.3L1396.0 744.3L1398.0 744.2L1400.0 744.0L1402.0 743.8L1404.0 743.7L1406.0 743.6L1408.0 743.5L1410.0 743.5L1412.0 743.5L1414.0 743.4L1416.0 743.1L1418.0 742.9L1420.0 742.9L1422.0 743.1L1424.0 743.3L1426.0 743.5L1428.0 743.6L1430.0 743.6L1432.0 743.5L1434.0 743.2L1436.0 742.8L1438.0 742.4L1440.0 742.1L1442.0 741.8L1444.0 741.6L1446.0 741.3L1448.0 740.8L1450.0 740.2L1452.0 739.7L1454.0 739.3L1456.0 739.0L1458.0 738.5L1460.0 737.8L1462.0 737.1L1464.0 736.3L1466.0 735.6L1468.0 735.0L1470.0 734.5L1472.0 734.0L1474.0 733.4L1476.0 732.5L1478.0 731.5L1480.0 730.5L1482.0 729.6L1484.0 728.6L1486.0 727.6L1488.0 726.5L1490.0 725.6L1492.0 724.6L1494.0 723.7L1496.0 722.7L1498.0 721.6L1500.0 720.4L1502.0 719.1L1504.0 717.9L1506.0 716.7L1508.0 715.7L1510.0 714.7L1512.0 713.7L1514.0 712.8L1516.0 711.7L1518.0 710.5L1520.0 709.4L1522.0 708.5L1524.0 708.0L1526.0 707.6L1528.0 707.5L1530.0 707.3L1532.0 707.1L1534.0 707.1L1536.0 707.3L1538.0 707.7L1540.0 708.2L1542.0 708.8L1544.0 709.4L1546.0 710.0L1548.0 711.0L1550.0 712.5L1552.0 714.3L1554.0 716.1L1556.0 717.8L1558.0 719.9L1560.0 722.2L1562.0 724.7L1564.0 726.9L1566.0 729.0L1568.0 730.7L1570.0 732.3L1572.0 733.7L1574.0 735.3L1576.0 736.7L1578.0 737.9L1580.0 738.9L1582.0 739.8L1584.0 740.8L1586.0 741.5L1588.0 741.8L1590.0 742.0L1592.0 742.1L1594.0 742.2L1596.0 742.5L1598.0 742.8L1600.0 742.9L1602.0 743.0L1604.0 743.1L1606.0 743.3L1608.0 743.5L1610.0 743.6L1612.0 743.6L1614.0 743.5L1616.0 743.4L1618.0 743.3L1620.0 743.4L1622.0 743.6L1624.0 743.6L1626.0 743.7L1628.0 743.9L1630.0 744.2L1632.0 744.3L1634.0 744.2L1636.0 744.0L1638.0 743.8L1640.0 743.6L1642.0 743.5L1644.0 743.5L1646.0 743.7L1648.0 744.1L1650.0 744.2L1652.0 744.1L1654.0 743.9L1656.0 743.8L1658.0 743.8L1660.0 743.8L1662.0 743.8L1664.0 743.8L1666.0 744.0L1668.0 744.2L1670.0 744.2L1672.0 744.2L1674.0 744.3L1676.0 744.3L1678.0 744.2L1680.0 744.0L1682.0 743.9L1684.0 743.8L1686.0 743.8L1688.0 743.8L1690.0 743.8L1692.0 743.8L1694.0 744.0L1696.0 744.3L1698.0 744.5L1700.0 744.6L1702.0 744.5L1704.0 744.1L1706.0 743.6L1708.0 743.0L1710.0 742.8L1712.0 743.0L1714.0 743.4L1716.0 743.5L1718.0 743.6L1720.0 743.6L1722.0 743.7L1724.0 743.8L1726.0 743.9L1728.0 743.9L1730.0 743.8L1732.0 743.6L1734.0 743.6L1736.0 743.8L1738.0 744.1L1740.0 744.4L1742.0 744.5L1744.0 744.4L1746.0 744.1L1748.0 743.7L1750.0 743.2L1752.0 742.7L1754.0 742.6L1756.0 742.8L1758.0 743.0L1760.0 743.0L1762.0 742.9L1764.0 742.9L1766.0 742.7L1768.0 742.3L1770.0 741.8L1772.0 741.4L1774.0 740.9L1776.0 740.2L1778.0 739.5L1780.0 739.2L1782.0 739.2L1784.0 739.2L1786.0 739.1L1788.0 738.6L1790.0 738.1L1792.0 737.7L1794.0 737.4L1796.0 737.0L1798.0 736.7L1800.0 736.4L1802.0 736.1L1804.0 735.8L1806.0 735.6L1808.0 735.7L1810.0 735.8L1812.0 735.9L1814.0 736.0L1816.0 736.0L1818.0 736.0L1820.0 735.9L1822.0 735.8L1824.0 735.8L1826.0 736.0L1828.0 736.2L1830.0 736.5L1832.0 736.7L1834.0 736.6L1836.0 736.6L1838.0 736.7L1840.0 737.2L1842.0 737.7L1844.0 738.3L1846.0 738.8L1848.0 739.0L1850.0 739.1L1852.0 739.3L1854.0 739.5L1856.0 739.6L1858.0 739.6L1860.0 739.7L1862.0 739.7L1864.0 739.9L1866.0 740.2L1868.0 740.5L1870.0 740.7L1872.0 740.9L1874.0 741.1L1876.0 741.2L1878.0 741.4L1880.0 741.4L1882.0 741.4L1884.0 741.5L1886.0 741.6L1888.0 741.6L1890.0 741.5L1892.0 741.3L1894.0 741.2L1896.0 741.3L1898.0 741.6L1900.0 742.0L1902.0 742.3L1904.0 742.3L1906.0 742.1L1908.0 742.0L1910.0 742.3L1912.0 742.8L1914.0 743.0L1916.0 743.0L1918.0 742.9L1920.0 742.8L1922.0 742.8L1924.0 742.8L1926.0 742.9L1928.0 742.9L1930.0 742.9L1932.0 743.0L1934.0 743.1L1936.0 743.0L1938.0 743.0L1940.0 743.1L1942.0 743.2L1944.0 743.2L1946.0 743.3L1948.0 743.3L1950.0 743.2L1952.0 743.2L1954.0 743.3L1956.0 743.3L1958.0 743.2L1960.0 743.1L1962.0 743.2L1964.0 743.5L1966.0 743.8L1968.0 743.9L1970.0 744.0L1972.0 744.1L1974.0 744.3L1976.0 744.3L1978.0 744.0L1980.0 743.7L1982.0 743.4L1984.0 743.3L1986.0 743.3L1988.0 743.5L1990.0 743.6L1992.0 743.6L1994.0 743.5L1996.0 743.4L1998.0 743.3L2000.0 743.4L2002.0 743.6L2004.0 743.7L2006.0 743.9L2008.0 744.0L2010.0 744.1L2012.0 744.0L2014.0 743.8L2016.0 743.6L2018.0 743.5L2020.0 743.5L2022.0 743.4L2024.0 743.5L2026.0 743.7L2028.0 744.0L2030.0 744.1L2032.0 743.8L2034.0 743.6L2036.0 743.6L2038.0 743.8L2040.0 743.9L2042.0 743.9L2044.0 743.6L2046.0 743.4L2048.0 743.3L2050.0 743.2L2052.0 743.4L2054.0 743.7L2056.0 744.0L2058.0 744.0L2060.0 744.0L2062.0 743.9L2064.0 743.8L2066.0 743.7L2068.0 743.7L2070.0 744.0L2072.0 744.2L2074.0 744.5L2076.0 744.5L2078.0 744.5L2080.0 744.4L2082.0 744.2L2084.0 743.9L2086.0 743.8L2088.0 743.9L2090.0 744.1L2092.0 744.3L2094.0 744.4L2096.0 744.4L2098.0 744.3L2100.0 744.2L2102.0 744.2L2104.0 744.2L2106.0 744.4L2108.0 744.4L2110.0 744.3L2112.0 744.2L2114.0 744.3L2116.0 744.4L2118.0 744.3L2120.0 744.0L2122.0 743.7L2124.0 743.7L2126.0 743.9L2128.0 744.1L2130.0 744.0L2132.0 743.7L2134.0 743.4L2136.0 743.3L2138.0 743.5L2140.0 743.7L2142.0 743.9L2144.0 743.9L2146.0 743.9L2148.0 744.2L2150.0 744.4L2152.0 744.4L2154.0 744.1L2156.0 744.0L2158.0 744.1L2160.0 744.3L2162.0 744.4L2164.0 744.3L2166.0 744.0L2168.0 743.8L2170.0 743.6L2172.0 743.6L2174.0 743.7L2176.0 744.0L2178.0 744.2L2180.0 744.2L2182.0 744.0L2184.0 744.1L2186.0 744.2L2188.0 744.3L2190.0 744.4L2192.0 744.5L2194.0 744.4L2196.0 744.2L2198.0 743.9L2200.0 743.6L2202.0 743.5L2204.0 743.6L2206.0 743.8L2208.0 743.8L2210.0 743.9L2212.0 744.0L2214.0 744.0L2216.0 743.9L2218.0 743.7L2220.0 743.7L2222.0 743.7L2224.0 743.7L2226.0 743.6L2228.0 743.7L2230.0 743.8L2232.0 744.1L2234.0 744.2L2236.0 744.2L2238.0 744.3L2240.0 744.4L2242.0 744.7L2244.0 744.8L2246.0 744.7L2248.0 744.5L2250.0 744.3L2252.0 744.1L2254.0 743.9L2256.0 743.9L2258.0 744.1L2260.0 744.3L2262.0 744.4L2264.0 744.4L2266.0 744.4L2268.0 744.4L2270.0 744.3L2272.0 744.2L2274.0 743.9L2276.0 743.8L2278.0 743.8L2280.0 743.9L2282.0 743.9L2284.0 743.8L2286.0 743.9L2288.0 744.2L2290.0 744.5L2292.0 744.5L2294.0 744.3L2296.0 744.0L2298.0 743.9L2300.0 743.8L2302.0 743.7L2304.0 743.6L2306.0 743.5L2308.0 743.6L2310.0 743.6L2312.0 743.7L2314.0 743.6L2316.0 743.6L2318.0 743.6L2320.0 743.8L2322.0 744.4L2324.0 744.9L2326.0 745.1L2328.0 744.9L2330.0 744.6L2332.0 744.3L2334.0 744.2L2336.0 744.2L2338.0 744.3L2340.0 744.2L2342.0 743.8L2344.0 743.4"/>
</g>
<g fill="none" stroke="#000">
<rect x="126" y="34.6" width="1014.7" height="745.9" stroke-width="4.4"/>
<line x1="126.0" y1="780" x2="126.0" y2="795.8" stroke-width="4.4"/>
<line x1="198.5" y1="780" x2="198.5" y2="788.5" stroke-width="4.4"/>
<line x1="271.0" y1="780" x2="271.0" y2="795.8" stroke-width="4.4"/>
<line x1="343.4" y1="780" x2="343.4" y2="788.5" stroke-width="4.4"/>
<line x1="415.9" y1="780" x2="415.9" y2="795.8" stroke-width="4.4"/>
<line x1="488.4" y1="780" x2="488.4" y2="788.5" stroke-width="4.4"/>
<line x1="560.9" y1="780" x2="560.9" y2="795.8" stroke-width="4.4"/>
<line x1="633.4" y1="780" x2="633.4" y2="788.5" stroke-width="4.4"/>
<line x1="705.8" y1="780" x2="705.8" y2="795.8" stroke-width="4.4"/>
<line x1="778.3" y1="780" x2="778.3" y2="788.5" stroke-width="4.4"/>
<line x1="850.8" y1="780" x2="850.8" y2="795.8" stroke-width="4.4"/>
<line x1="923.3" y1="780" x2="923.3" y2="788.5" stroke-width="4.4"/>
<line x1="995.8" y1="780" x2="995.8" y2="795.8" stroke-width="4.4"/>
<line x1="1068.2" y1="780" x2="1068.2" y2="788.5" stroke-width="4.4"/>
<line x1="1140.7" y1="780" x2="1140.7" y2="795.8" stroke-width="4.4"/>
<rect x="1384" y="39.2" width="961.2" height="775" stroke-width="4.6"/>
<line x1="1457.7" y1="814" x2="1457.7" y2="829.6" stroke-width="4.4"/>
<line x1="1605.6" y1="814" x2="1605.6" y2="822" stroke-width="4.4"/>
<line x1="1753.5" y1="814" x2="1753.5" y2="829.6" stroke-width="4.4"/>
<line x1="1901.4" y1="814" x2="1901.4" y2="822" stroke-width="4.4"/>
<line x1="2049.3" y1="814" x2="2049.3" y2="829.6" stroke-width="4.4"/>
<line x1="2197.2" y1="814" x2="2197.2" y2="822" stroke-width="4.4"/>
<line x1="2345.1" y1="814" x2="2345.1" y2="829.6" stroke-width="4.4"/>
</g>
<line x1="800.8" y1="62.5" x2="884.9" y2="62.5" stroke="#000000" stroke-width="5"/>
<line x1="800.8" y1="138.4" x2="884.9" y2="138.4" stroke="#ff0000" stroke-width="5"/>
<line x1="800.8" y1="214.3" x2="884.9" y2="214.3" stroke="#0000ff" stroke-width="5"/>
<line x1="800.8" y1="290.2" x2="884.9" y2="290.2" stroke="#008080" stroke-width="5"/>
<line x1="800.8" y1="366.1" x2="884.9" y2="366.1" stroke="#ff00ff" stroke-width="5"/>
<line x1="2012.9" y1="87.7" x2="2094.9" y2="87.7" stroke="#505050" stroke-width="4.2"/>
<line x1="2012.9" y1="155.2" x2="2094.9" y2="155.2" stroke="#ef4040" stroke-width="4.8"/>
<line x1="2012.9" y1="232.3" x2="2094.9" y2="232.3" stroke="#1f6fdd" stroke-width="4.8"/>
<g>
<text transform="matrix(1.0083,0,0,1.0256,49.77,57.87)" font-size="80" font-weight="bold" fill="#000">a</text>
<text transform="matrix(1.0225,0,0,0.9860,1305.98,69.01)" font-size="80" font-weight="bold" fill="#000">b</text>
<text transform="matrix(1.0816,0,0,1.0393,102.74,840.00)" font-size="42" font-weight="normal" fill="#000">20</text>
<text transform="matrix(1.0816,0,0,1.0393,247.70,840.00)" font-size="42" font-weight="normal" fill="#000">30</text>
<text transform="matrix(1.0816,0,0,1.0393,392.66,840.00)" font-size="42" font-weight="normal" fill="#000">40</text>
<text transform="matrix(1.0816,0,0,1.0393,537.62,840.00)" font-size="42" font-weight="normal" fill="#000">50</text>
<text transform="matrix(1.0816,0,0,1.0393,682.58,840.00)" font-size="42" font-weight="normal" fill="#000">60</text>
<text transform="matrix(1.0816,0,0,1.0393,827.54,840.00)" font-size="42" font-weight="normal" fill="#000">70</text>
<text transform="matrix(1.0816,0,0,1.0393,972.50,840.00)" font-size="42" font-weight="normal" fill="#000">80</text>
<text transform="matrix(1.0816,0,0,1.0393,1117.46,840.00)" font-size="42" font-weight="normal" fill="#000">90</text>
<text transform="matrix(1.0200,0,0,1.0156,1432.88,877.50)" font-size="48" font-weight="normal" fill="#000">20</text>
<text transform="matrix(1.0200,0,0,1.0156,1728.68,877.50)" font-size="48" font-weight="normal" fill="#000">40</text>
<text transform="matrix(1.0200,0,0,1.0156,2024.48,877.50)" font-size="48" font-weight="normal" fill="#000">60</text>
<text transform="matrix(1.0200,0,0,1.0156,2320.28,877.50)" font-size="48" font-weight="normal" fill="#000">80</text>
<text transform="matrix(1.0221,0,0,0.9953,483.06,898.85)" font-size="46" font-weight="normal" fill="#000">2theta(degree)</text>
<text transform="matrix(1.0755,0,0,1.0477,1714.75,941.52)" font-size="48" font-weight="normal" fill="#000">2theta(degree)</text>
<text transform="matrix(1.0667,0,0,1.0300,56.03,533.06) rotate(-90)" font-size="46" font-weight="normal" fill="#000">Intemsity(a.u.)</text>
<text transform="matrix(1.0432,0,0,1.0755,1344.47,579.05) rotate(-90)" font-size="48" font-weight="normal" fill="#000">Intemsity(a.u.)</text>
<text transform="matrix(1.0543,0,0,1.0057,891.49,78.14)" font-size="36" font-weight="bold" fill="#000">2<tspan font-size="21.96" dy="10.80">1</tspan><tspan dy="-10.80">P</tspan><tspan font-size="21.96" dy="10.80">2</tspan><tspan dy="-10.80">-Fe</tspan><tspan font-size="21.96" dy="10.80">3</tspan><tspan dy="-10.80">-850</tspan></text>
<text transform="matrix(1.0543,0,0,0.9857,891.49,152.86)" font-size="36" font-weight="bold" fill="#000">2<tspan font-size="21.96" dy="10.80">1</tspan><tspan dy="-10.80">P</tspan><tspan font-size="21.96" dy="10.80">2</tspan><tspan dy="-10.80">-Fe</tspan><tspan font-size="21.96" dy="10.80">2</tspan><tspan dy="-10.80">-850</tspan></text>
<text transform="matrix(1.0543,0,0,0.9971,891.49,229.03)" font-size="36" font-weight="bold" fill="#000">2<tspan font-size="21.96" dy="10.80">1</tspan><tspan dy="-10.80">P</tspan><tspan font-size="21.96" dy="10.80">2</tspan><tspan dy="-10.80">-Fe</tspan><tspan font-size="21.96" dy="10.80">1</tspan><tspan dy="-10.80">-850</tspan></text>
<text transform="matrix(1.0614,0,0,0.9857,891.78,304.86)" font-size="36" font-weight="bold" fill="#000">2<tspan font-size="21.96" dy="10.80">1</tspan><tspan dy="-10.80">P</tspan><tspan font-size="21.96" dy="10.80">2</tspan><tspan dy="-10.80">-Fe</tspan><tspan font-size="21.96" dy="10.80">0.5</tspan><tspan dy="-10.80">-850</tspan></text>
<text transform="matrix(1.0704,0,0,0.9857,891.76,380.66)" font-size="36" font-weight="bold" fill="#000">2<tspan font-size="21.96" dy="10.80">1</tspan><tspan dy="-10.80">P</tspan><tspan font-size="21.96" dy="10.80">2</tspan><tspan dy="-10.80">-Fe</tspan><tspan font-size="21.96" dy="10.80">0.25</tspan><tspan dy="-10.80">-850</tspan></text>
<text transform="matrix(1.0431,0,0,1.0083,233.76,213.00)" font-size="36" font-weight="bold" fill="#000">002</text>
<text transform="matrix(1.0060,0,0,0.9458,409.18,308.30)" font-size="36" font-weight="normal" fill="#000">100</text>
<text transform="matrix(1.3538,0,0,1.4538,208.35,124.05)" font-size="26" font-weight="normal" fill="#800000">&#9829;</text>
<g fill="#ff8000"><circle cx="483.9" cy="255.5" r="4.7"/><circle cx="478.7" cy="262.1" r="4.7"/><circle cx="489.1" cy="262.1" r="4.7"/><circle cx="483.9" cy="260.8" r="3.3"/><rect x="482.9" y="260.8" width="2" height="9.9"/><rect x="481.3" y="269.1" width="5.2" height="1.6"/></g>
<g fill="#ff8000"><circle cx="165.0" cy="684.9" r="4.8"/><circle cx="159.6" cy="691.4" r="4.8"/><circle cx="170.4" cy="691.4" r="4.8"/><circle cx="165.0" cy="690.0" r="3.4"/><rect x="164.0" y="690.0" width="2" height="9.9"/><rect x="162.4" y="698.3" width="5.2" height="1.6"/></g>
<text transform="matrix(1.0312,0,0,0.9943,179.07,699.86)" font-size="36" font-weight="bold" fill="#000">Fe<tspan dy="10.8">3</tspan><tspan dy="-10.8" font-weight="normal">O</tspan><tspan dy="10.8">4</tspan><tspan dy="-10.8" font-weight="normal">#</tspan>26-1136</text>
<text transform="matrix(1.3231,0,0,1.4692,156.68,746.57)" font-size="26" font-weight="normal" fill="#800000">&#9829;</text>
<text transform="matrix(1.0329,0,0,0.9917,180.97,747.80)" font-size="36" font-weight="bold" fill="#000">Fe3<tspan font-weight="normal">C#0</tspan>3-<tspan font-weight="normal">0</tspan>411</text>
<text transform="matrix(1.0252,0,0,1.0731,2112.77,102.70)" font-size="40" font-weight="bold" fill="#000">XC-72R</text>
<text transform="matrix(1.1456,0,0,1.0857,2112.51,169.06)" font-size="36" font-weight="bold" fill="#000">2<tspan font-size="21.96" dy="10.80">1</tspan><tspan dy="-10.80">P</tspan><tspan font-size="21.96" dy="10.80">2</tspan><tspan dy="-10.80">-850</tspan></text>
<text transform="matrix(1.1468,0,0,1.0829,2112.51,245.99)" font-size="36" font-weight="bold" fill="#000">2<tspan font-size="21.96" dy="10.80">1</tspan><tspan dy="-10.80">P</tspan><tspan font-size="21.96" dy="10.80">2</tspan><tspan dy="-10.80">-Fe</tspan><tspan font-size="21.96" dy="10.80">1</tspan><tspan dy="-10.80">-850</tspan></text>
<text transform="matrix(1.0556,0,0,1.0320,1572.94,102.80)" font-size="38" font-weight="bold" fill="#000">002</text>
<text transform="matrix(1.0792,0,0,1.1000,1766.56,257.10)" font-size="38" font-weight="bold" fill="#000">100</text>
<text transform="matrix(1.0571,0,0,1.0600,1472.89,177.50)" font-size="38" font-weight="bold" fill="#00dd00">26</text>
<text transform="matrix(1.0457,0,0,1.0000,1467.51,378.20)" font-size="38" font-weight="bold" fill="#660080">26</text>
<text transform="matrix(1.0651,0,0,1.1080,1432.97,678.50)" font-size="38" font-weight="bold" fill="#d935f5">24.9</text>
<text transform="matrix(1.0182,0,0,0.9568,1864.68,337.74)" font-size="50" font-weight="bold" fill="#ef4040">Peak half-width<tspan font-family="Noto Sans CJK SC, sans-serif">：</tspan>3.4</text>
<text transform="matrix(1.0209,0,0,0.9541,1872.08,539.25)" font-size="50" font-weight="bold" fill="#1f6fdd">Peak half-width<tspan font-family="Noto Sans CJK SC, sans-serif">：</tspan>3.5</text>
<text transform="matrix(1.0256,0,0,0.9541,1861.17,686.65)" font-size="50" font-weight="bold" fill="#4d4d4d">Peak half-width<tspan font-family="Noto Sans CJK SC, sans-serif">：</tspan>2.6</text>
</g>
<rect x="1550" y="150" width="11.0" height="25.0" fill="#00dd00"/>
<rect x="1550" y="194" width="11.0" height="26.0" fill="#00dd00"/>
<rect x="1550" y="227" width="11.0" height="34.0" fill="#00dd00"/>
<rect x="1525" y="227" width="67.0" height="11.0" fill="#00dd00"/>
<rect x="1552.2" y="297" width="10.7" height="25.8" fill="#660080"/>
<rect x="1552.2" y="340" width="10.7" height="26.8" fill="#660080"/>
<rect x="1552.2" y="384" width="10.7" height="26.7" fill="#660080"/>
<rect x="1527.9" y="429.2" width="62.9" height="9.8" fill="#660080"/>
<rect x="1529.5" y="660" width="9.9" height="26.0" fill="#d935f5"/>
<rect x="1529.5" y="703.2" width="9.9" height="25.8" fill="#d935f5"/>
<rect x="1529.5" y="747" width="9.9" height="16.8" fill="#d935f5"/>
<rect x="1501.1" y="719" width="58.9" height="10.8" fill="#d935f5"/>
</svg>
</body></html>
